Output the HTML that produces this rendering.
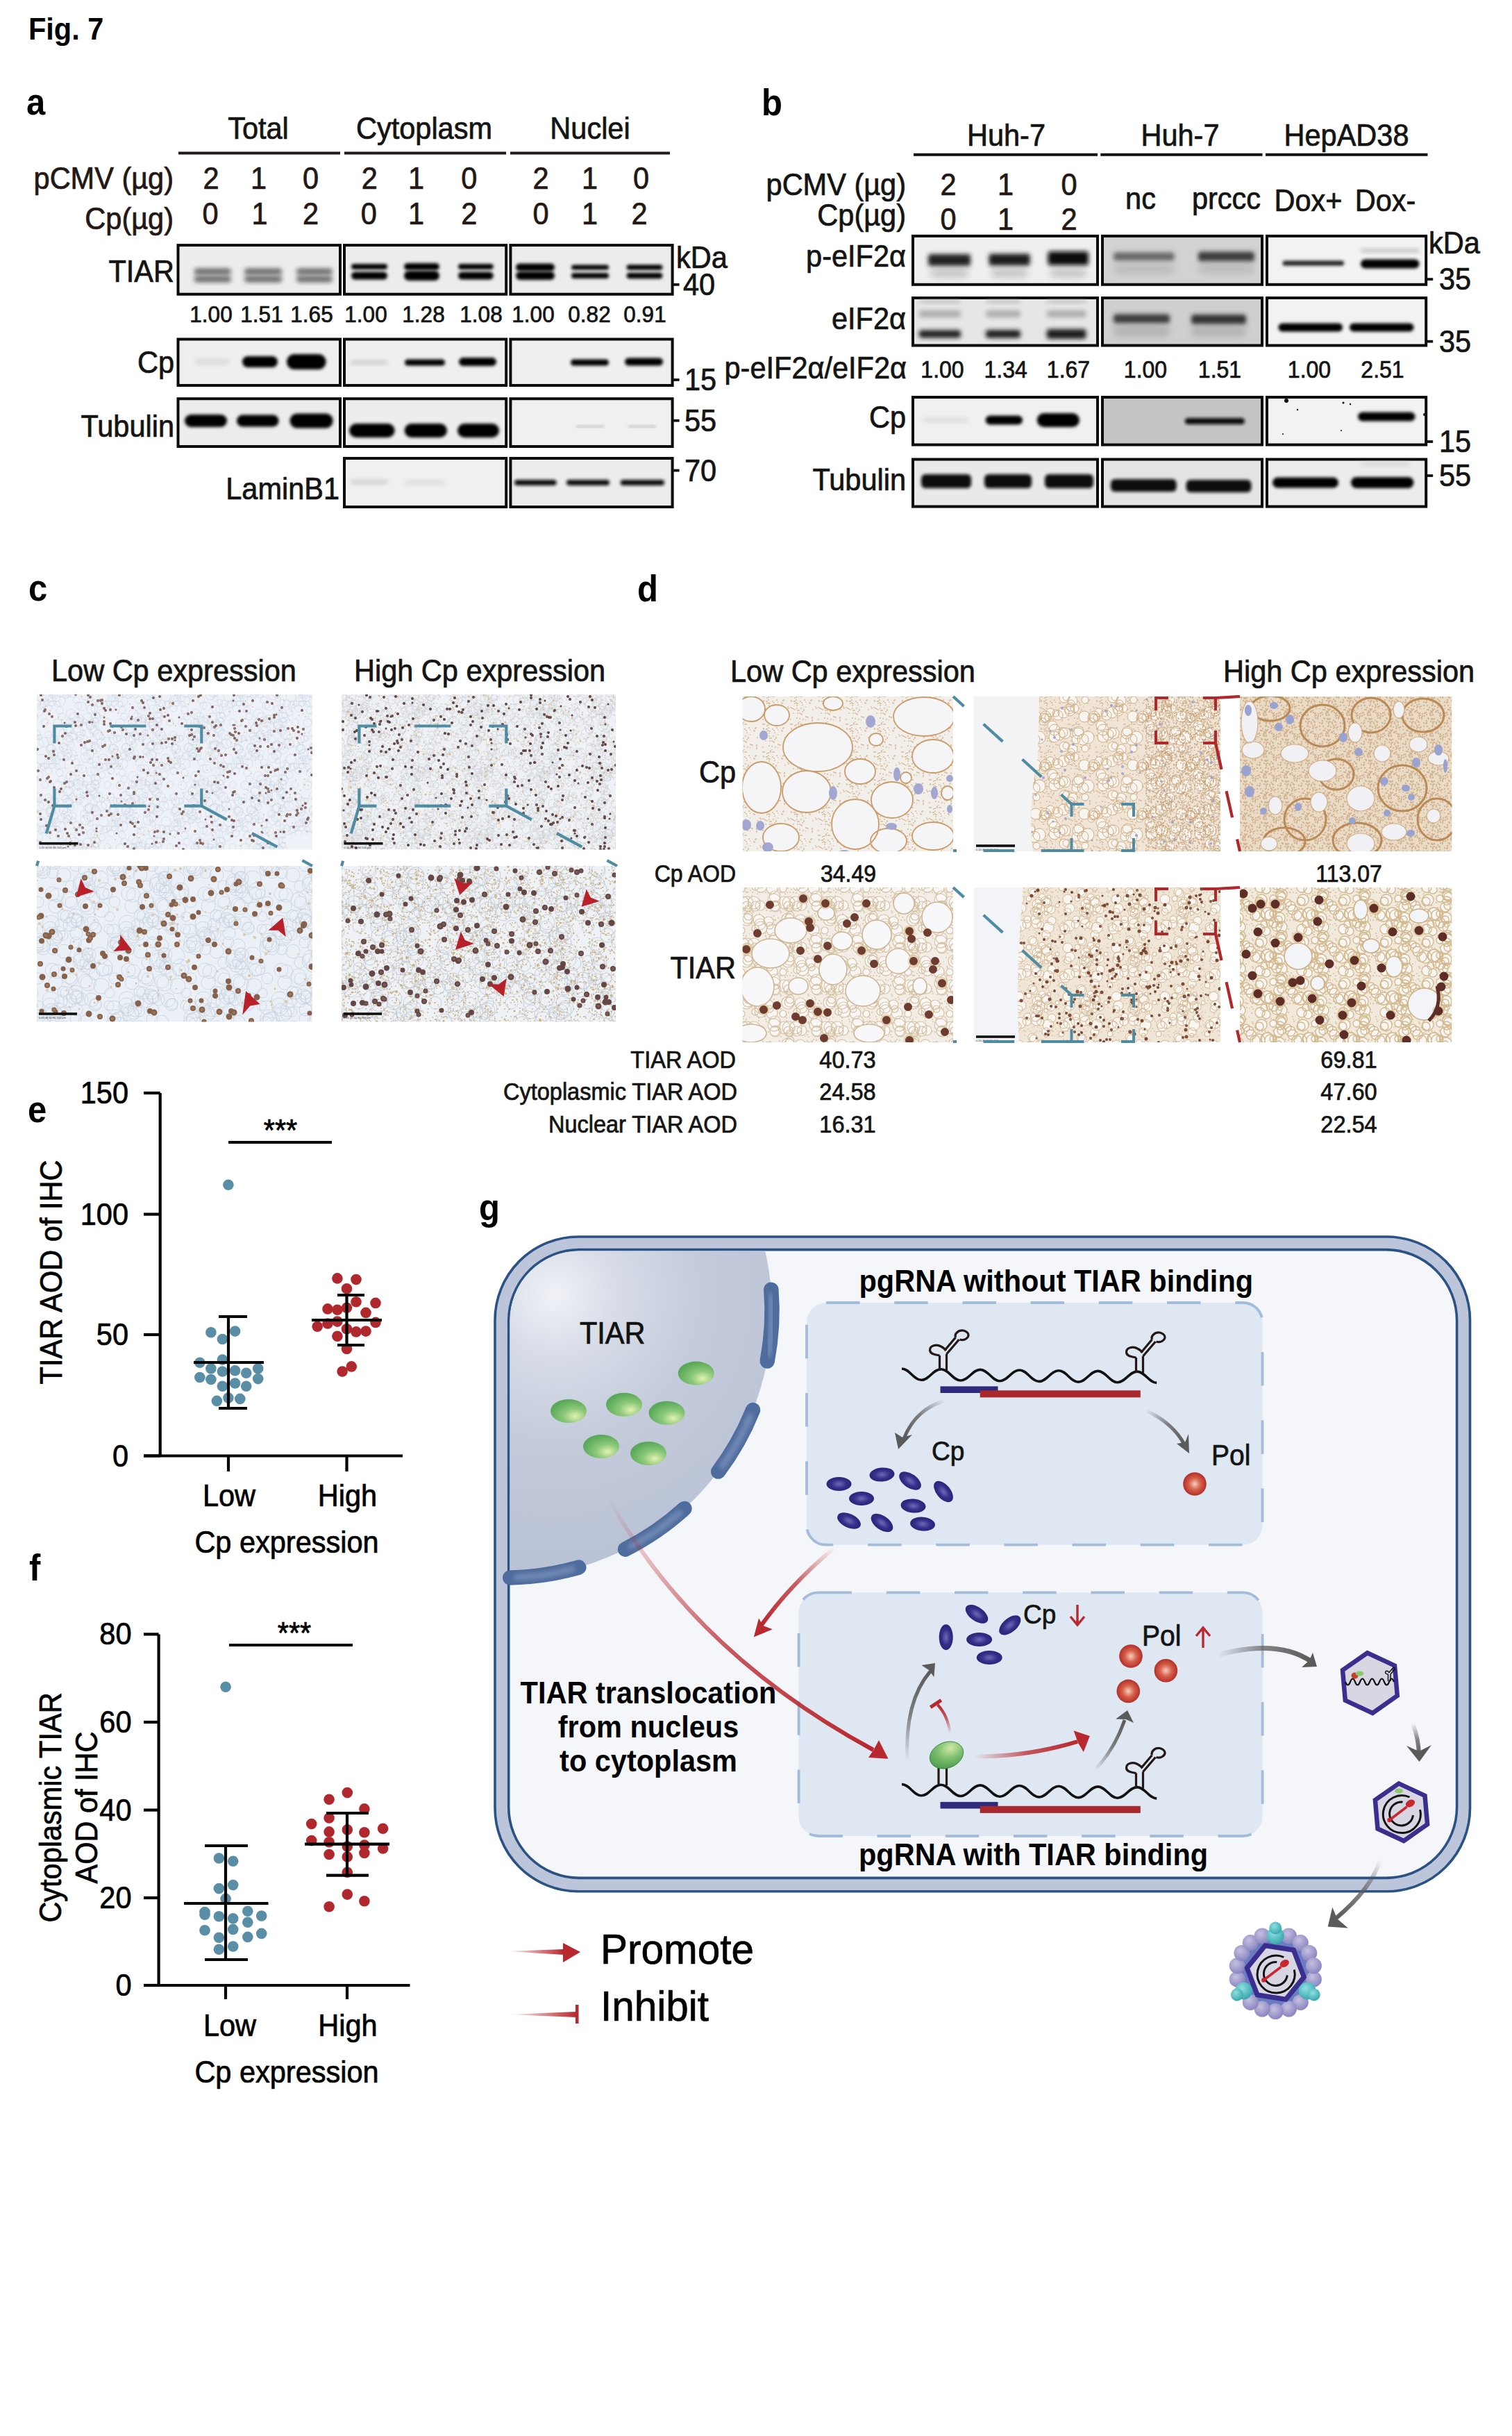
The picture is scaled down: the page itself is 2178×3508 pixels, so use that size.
<!DOCTYPE html><html><head><meta charset="utf-8"><style>html,body{margin:0;padding:0;background:#fff;}svg{display:block;}</style></head><body><svg width="2178" height="3508" viewBox="0 0 2178 3508" font-family="Liberation Sans, sans-serif" font-size="41.5" fill="#141414"><defs><filter id="b3" x="-20%" y="-60%" width="140%" height="220%"><feGaussianBlur stdDeviation="3"/></filter><filter id="b2" x="-20%" y="-60%" width="140%" height="220%"><feGaussianBlur stdDeviation="2"/></filter><filter id="b5" x="-20%" y="-80%" width="140%" height="260%"><feGaussianBlur stdDeviation="5"/></filter><clipPath id="cA1"><rect x="256.5" y="353.1" width="712.1" height="70.6"/></clipPath><clipPath id="cA2"><rect x="256.5" y="488.5" width="712.1" height="66.5"/></clipPath><clipPath id="cA3"><rect x="256.5" y="574.2" width="712.1" height="68.8"/></clipPath><clipPath id="cA4"><rect x="496" y="660" width="472.6" height="70"/></clipPath><clipPath id="cB1"><rect x="1314" y="339.9" width="742" height="69.9"/></clipPath><clipPath id="cB2"><rect x="1314" y="429" width="742" height="68.5"/></clipPath><clipPath id="cB3"><rect x="1314" y="572" width="742" height="68.5"/></clipPath><clipPath id="cB4"><rect x="1314" y="661.5" width="742" height="68"/></clipPath><pattern id="spC" width="50" height="50" patternUnits="userSpaceOnUse"><path d="M16 8h0M33 4h0M27 18h0M3 25h0M2 22h0M3 5h0M21 41h0M6 11h0M31 47h0M29 20h0M49 2h0M43 14h0M7 6h0M15 41h0M9 29h0M32 19h0M27 3h0M3 10h0M34 21h0M16 29h0M23 15h0M40 35h0M12 29h0M26 44h0M36 14h0M49 6h0M21 38h0M8 24h0M2 33h0M38 29h0M44 16h0M35 30h0M29 23h0M42 47h0M24 33h0M3 35h0M32 50h0M41 14h0M19 33h0M1 23h0M8 6h0M3 38h0M6 12h0M20 44h0M4 22h0M27 44h0M41 43h0M14 21h0M18 44h0M48 8h0M9 12h0M12 24h0M29 13h0M0 21h0M18 28h0M48 35h0M26 31h0M34 3h0M45 39h0M44 40h0M20 20h0M5 32h0M3 3h0M10 8h0M17 3h0M0 8h0M5 18h0M1 44h0M31 7h0M13 17h0" stroke="#cdb487" stroke-width="2" stroke-linecap="round"/></pattern><clipPath id="ih1"><rect x="53" y="1000" width="397" height="223.5"/></clipPath><pattern id="pt1" width="90" height="90" patternUnits="userSpaceOnUse"><path d="M26 11a7 7 0 1 0 14 0a7 7 0 1 0 -14 0M-6 42a5 5 0 1 0 10 0a5 5 0 1 0 -10 0M84 42a5 5 0 1 0 10 0a5 5 0 1 0 -10 0M3 9a5 5 0 1 0 10 0a5 5 0 1 0 -10 0M20 75a4 4 0 1 0 8 0a4 4 0 1 0 -8 0M-4 -4a6 6 0 1 0 12 0a6 6 0 1 0 -12 0M-4 86a6 6 0 1 0 12 0a6 6 0 1 0 -12 0M86 -4a6 6 0 1 0 12 0a6 6 0 1 0 -12 0M86 86a6 6 0 1 0 12 0a6 6 0 1 0 -12 0M9 49a4 4 0 1 0 8 0a4 4 0 1 0 -8 0M41 -2a7 7 0 1 0 14 0a7 7 0 1 0 -14 0M41 88a7 7 0 1 0 14 0a7 7 0 1 0 -14 0M58 24a5 5 0 1 0 10 0a5 5 0 1 0 -10 0M9 69a6 6 0 1 0 12 0a6 6 0 1 0 -12 0M65 30a5 5 0 1 0 10 0a5 5 0 1 0 -10 0M66 -1a7 7 0 1 0 14 0a7 7 0 1 0 -14 0M66 89a7 7 0 1 0 14 0a7 7 0 1 0 -14 0M67 74a6 6 0 1 0 12 0a6 6 0 1 0 -12 0M15 47a5 5 0 1 0 10 0a5 5 0 1 0 -10 0M-2 3a5 5 0 1 0 10 0a5 5 0 1 0 -10 0M-2 93a5 5 0 1 0 10 0a5 5 0 1 0 -10 0M88 3a5 5 0 1 0 10 0a5 5 0 1 0 -10 0M88 93a5 5 0 1 0 10 0a5 5 0 1 0 -10 0M16 62a7 7 0 1 0 14 0a7 7 0 1 0 -14 0M33 -6a7 7 0 1 0 14 0a7 7 0 1 0 -14 0M33 84a7 7 0 1 0 14 0a7 7 0 1 0 -14 0M-9 33a5 5 0 1 0 10 0a5 5 0 1 0 -10 0M81 33a5 5 0 1 0 10 0a5 5 0 1 0 -10 0M15 18a5 5 0 1 0 10 0a5 5 0 1 0 -10 0M49 81a7 7 0 1 0 14 0a7 7 0 1 0 -14 0M37 59a6 6 0 1 0 12 0a6 6 0 1 0 -12 0M1 59a7 7 0 1 0 14 0a7 7 0 1 0 -14 0M65 68a5 5 0 1 0 10 0a5 5 0 1 0 -10 0M11 71a5 5 0 1 0 10 0a5 5 0 1 0 -10 0M67 -3a5 5 0 1 0 10 0a5 5 0 1 0 -10 0M67 87a5 5 0 1 0 10 0a5 5 0 1 0 -10 0M30 -5a6 6 0 1 0 12 0a6 6 0 1 0 -12 0M30 85a6 6 0 1 0 12 0a6 6 0 1 0 -12 0M11 11a4 4 0 1 0 8 0a4 4 0 1 0 -8 0M77 73a4 4 0 1 0 8 0a4 4 0 1 0 -8 0M68 -2a6 6 0 1 0 12 0a6 6 0 1 0 -12 0M68 88a6 6 0 1 0 12 0a6 6 0 1 0 -12 0M28 49a4 4 0 1 0 8 0a4 4 0 1 0 -8 0M-5 -3a6 6 0 1 0 12 0a6 6 0 1 0 -12 0M-5 87a6 6 0 1 0 12 0a6 6 0 1 0 -12 0M85 -3a6 6 0 1 0 12 0a6 6 0 1 0 -12 0M85 87a6 6 0 1 0 12 0a6 6 0 1 0 -12 0M42 84a5 5 0 1 0 10 0a5 5 0 1 0 -10 0M73 74a5 5 0 1 0 10 0a5 5 0 1 0 -10 0M18 26a5 5 0 1 0 10 0a5 5 0 1 0 -10 0M48 23a5 5 0 1 0 10 0a5 5 0 1 0 -10 0M7 82a5 5 0 1 0 10 0a5 5 0 1 0 -10 0M34 53a7 7 0 1 0 14 0a7 7 0 1 0 -14 0M32 83a6 6 0 1 0 12 0a6 6 0 1 0 -12 0M44 47a4 4 0 1 0 8 0a4 4 0 1 0 -8 0M36 16a4 4 0 1 0 8 0a4 4 0 1 0 -8 0M67 16a5 5 0 1 0 10 0a5 5 0 1 0 -10 0M60 50a5 5 0 1 0 10 0a5 5 0 1 0 -10 0M41 50a6 6 0 1 0 12 0a6 6 0 1 0 -12 0M5 50a5 5 0 1 0 10 0a5 5 0 1 0 -10 0M19 70a6 6 0 1 0 12 0a6 6 0 1 0 -12 0M44 68a7 7 0 1 0 14 0a7 7 0 1 0 -14 0M34 55a6 6 0 1 0 12 0a6 6 0 1 0 -12 0M41 62a5 5 0 1 0 10 0a5 5 0 1 0 -10 0M41 43a7 7 0 1 0 14 0a7 7 0 1 0 -14 0M56 79a7 7 0 1 0 14 0a7 7 0 1 0 -14 0M16 50a7 7 0 1 0 14 0a7 7 0 1 0 -14 0M72 12a4 4 0 1 0 8 0a4 4 0 1 0 -8 0M35 7a5 5 0 1 0 10 0a5 5 0 1 0 -10 0M1 60a6 6 0 1 0 12 0a6 6 0 1 0 -12 0M75 14a6 6 0 1 0 12 0a6 6 0 1 0 -12 0M52 13a7 7 0 1 0 14 0a7 7 0 1 0 -14 0M-10 20a7 7 0 1 0 14 0a7 7 0 1 0 -14 0M80 20a7 7 0 1 0 14 0a7 7 0 1 0 -14 0M29 44a7 7 0 1 0 14 0a7 7 0 1 0 -14 0M70 15a5 5 0 1 0 10 0a5 5 0 1 0 -10 0M41 31a5 5 0 1 0 10 0a5 5 0 1 0 -10 0M25 65a4 4 0 1 0 8 0a4 4 0 1 0 -8 0M46 40a4 4 0 1 0 8 0a4 4 0 1 0 -8 0M24 56a6 6 0 1 0 12 0a6 6 0 1 0 -12 0M0 -1a6 6 0 1 0 12 0a6 6 0 1 0 -12 0M0 89a6 6 0 1 0 12 0a6 6 0 1 0 -12 0M90 -1a6 6 0 1 0 12 0a6 6 0 1 0 -12 0M90 89a6 6 0 1 0 12 0a6 6 0 1 0 -12 0M-8 9a5 5 0 1 0 10 0a5 5 0 1 0 -10 0M82 9a5 5 0 1 0 10 0a5 5 0 1 0 -10 0M-1 70a5 5 0 1 0 10 0a5 5 0 1 0 -10 0M89 70a5 5 0 1 0 10 0a5 5 0 1 0 -10 0M5 38a7 7 0 1 0 14 0a7 7 0 1 0 -14 0M70 23a4 4 0 1 0 8 0a4 4 0 1 0 -8 0M77 51a6 6 0 1 0 12 0a6 6 0 1 0 -12 0M2 5a6 6 0 1 0 12 0a6 6 0 1 0 -12 0M2 95a6 6 0 1 0 12 0a6 6 0 1 0 -12 0M31 7a7 7 0 1 0 14 0a7 7 0 1 0 -14 0M31 97a7 7 0 1 0 14 0a7 7 0 1 0 -14 0M53 72a4 4 0 1 0 8 0a4 4 0 1 0 -8 0M70 6a7 7 0 1 0 14 0a7 7 0 1 0 -14 0M70 96a7 7 0 1 0 14 0a7 7 0 1 0 -14 0M35 31a6 6 0 1 0 12 0a6 6 0 1 0 -12 0M79 24a4 4 0 1 0 8 0a4 4 0 1 0 -8 0M43 21a4 4 0 1 0 8 0a4 4 0 1 0 -8 0M10 5a5 5 0 1 0 10 0a5 5 0 1 0 -10 0M10 95a5 5 0 1 0 10 0a5 5 0 1 0 -10 0M22 27a6 6 0 1 0 12 0a6 6 0 1 0 -12 0M21 45a5 5 0 1 0 10 0a5 5 0 1 0 -10 0M26 2a5 5 0 1 0 10 0a5 5 0 1 0 -10 0M26 92a5 5 0 1 0 10 0a5 5 0 1 0 -10 0M-5 66a6 6 0 1 0 12 0a6 6 0 1 0 -12 0M85 66a6 6 0 1 0 12 0a6 6 0 1 0 -12 0M10 43a7 7 0 1 0 14 0a7 7 0 1 0 -14 0M5 74a5 5 0 1 0 10 0a5 5 0 1 0 -10 0M40 75a5 5 0 1 0 10 0a5 5 0 1 0 -10 0M39 62a7 7 0 1 0 14 0a7 7 0 1 0 -14 0M25 75a6 6 0 1 0 12 0a6 6 0 1 0 -12 0M52 36a5 5 0 1 0 10 0a5 5 0 1 0 -10 0M1 12a4 4 0 1 0 8 0a4 4 0 1 0 -8 0M63 23a4 4 0 1 0 8 0a4 4 0 1 0 -8 0M1 76a7 7 0 1 0 14 0a7 7 0 1 0 -14 0M55 25a5 5 0 1 0 10 0a5 5 0 1 0 -10 0" fill="none" stroke="#cad3df" stroke-width="0.6"/></pattern><clipPath id="ih2"><rect x="492" y="1000" width="395" height="223.5"/></clipPath><pattern id="pt2" width="90" height="90" patternUnits="userSpaceOnUse"><path d="M34 62a5 5 0 1 0 10 0a5 5 0 1 0 -10 0M-6 75a6 6 0 1 0 12 0a6 6 0 1 0 -12 0M84 75a6 6 0 1 0 12 0a6 6 0 1 0 -12 0M19 4a7 7 0 1 0 14 0a7 7 0 1 0 -14 0M19 94a7 7 0 1 0 14 0a7 7 0 1 0 -14 0M50 4a5 5 0 1 0 10 0a5 5 0 1 0 -10 0M50 94a5 5 0 1 0 10 0a5 5 0 1 0 -10 0M5 71a5 5 0 1 0 10 0a5 5 0 1 0 -10 0M78 67a4 4 0 1 0 8 0a4 4 0 1 0 -8 0M57 35a6 6 0 1 0 12 0a6 6 0 1 0 -12 0M71 25a4 4 0 1 0 8 0a4 4 0 1 0 -8 0M-12 38a7 7 0 1 0 14 0a7 7 0 1 0 -14 0M78 38a7 7 0 1 0 14 0a7 7 0 1 0 -14 0M56 66a6 6 0 1 0 12 0a6 6 0 1 0 -12 0M53 41a4 4 0 1 0 8 0a4 4 0 1 0 -8 0M57 39a6 6 0 1 0 12 0a6 6 0 1 0 -12 0M78 11a6 6 0 1 0 12 0a6 6 0 1 0 -12 0M-2 63a6 6 0 1 0 12 0a6 6 0 1 0 -12 0M88 63a6 6 0 1 0 12 0a6 6 0 1 0 -12 0M17 49a7 7 0 1 0 14 0a7 7 0 1 0 -14 0M52 49a5 5 0 1 0 10 0a5 5 0 1 0 -10 0M0 32a5 5 0 1 0 10 0a5 5 0 1 0 -10 0M14 28a4 4 0 1 0 8 0a4 4 0 1 0 -8 0M59 60a5 5 0 1 0 10 0a5 5 0 1 0 -10 0M17 46a5 5 0 1 0 10 0a5 5 0 1 0 -10 0M79 32a5 5 0 1 0 10 0a5 5 0 1 0 -10 0M74 13a6 6 0 1 0 12 0a6 6 0 1 0 -12 0M24 73a6 6 0 1 0 12 0a6 6 0 1 0 -12 0M62 15a6 6 0 1 0 12 0a6 6 0 1 0 -12 0M48 42a6 6 0 1 0 12 0a6 6 0 1 0 -12 0M70 10a5 5 0 1 0 10 0a5 5 0 1 0 -10 0M28 19a4 4 0 1 0 8 0a4 4 0 1 0 -8 0M19 18a6 6 0 1 0 12 0a6 6 0 1 0 -12 0M35 10a5 5 0 1 0 10 0a5 5 0 1 0 -10 0M37 33a5 5 0 1 0 10 0a5 5 0 1 0 -10 0M-1 1a7 7 0 1 0 14 0a7 7 0 1 0 -14 0M-1 91a7 7 0 1 0 14 0a7 7 0 1 0 -14 0M89 1a7 7 0 1 0 14 0a7 7 0 1 0 -14 0M89 91a7 7 0 1 0 14 0a7 7 0 1 0 -14 0M62 8a6 6 0 1 0 12 0a6 6 0 1 0 -12 0M-6 51a4 4 0 1 0 8 0a4 4 0 1 0 -8 0M84 51a4 4 0 1 0 8 0a4 4 0 1 0 -8 0M39 39a5 5 0 1 0 10 0a5 5 0 1 0 -10 0M42 1a7 7 0 1 0 14 0a7 7 0 1 0 -14 0M42 91a7 7 0 1 0 14 0a7 7 0 1 0 -14 0M51 56a7 7 0 1 0 14 0a7 7 0 1 0 -14 0M54 23a5 5 0 1 0 10 0a5 5 0 1 0 -10 0M6 2a6 6 0 1 0 12 0a6 6 0 1 0 -12 0M6 92a6 6 0 1 0 12 0a6 6 0 1 0 -12 0M71 27a5 5 0 1 0 10 0a5 5 0 1 0 -10 0M50 76a7 7 0 1 0 14 0a7 7 0 1 0 -14 0M9 71a6 6 0 1 0 12 0a6 6 0 1 0 -12 0M62 29a5 5 0 1 0 10 0a5 5 0 1 0 -10 0M69 29a5 5 0 1 0 10 0a5 5 0 1 0 -10 0M44 33a6 6 0 1 0 12 0a6 6 0 1 0 -12 0M16 4a6 6 0 1 0 12 0a6 6 0 1 0 -12 0M16 94a6 6 0 1 0 12 0a6 6 0 1 0 -12 0M51 74a6 6 0 1 0 12 0a6 6 0 1 0 -12 0M76 -5a5 5 0 1 0 10 0a5 5 0 1 0 -10 0M76 85a5 5 0 1 0 10 0a5 5 0 1 0 -10 0M40 14a5 5 0 1 0 10 0a5 5 0 1 0 -10 0M46 7a6 6 0 1 0 12 0a6 6 0 1 0 -12 0M8 40a7 7 0 1 0 14 0a7 7 0 1 0 -14 0M3 4a5 5 0 1 0 10 0a5 5 0 1 0 -10 0M3 94a5 5 0 1 0 10 0a5 5 0 1 0 -10 0M13 65a4 4 0 1 0 8 0a4 4 0 1 0 -8 0M70 77a6 6 0 1 0 12 0a6 6 0 1 0 -12 0M32 25a6 6 0 1 0 12 0a6 6 0 1 0 -12 0M41 38a5 5 0 1 0 10 0a5 5 0 1 0 -10 0M33 60a6 6 0 1 0 12 0a6 6 0 1 0 -12 0M76 15a5 5 0 1 0 10 0a5 5 0 1 0 -10 0M35 51a5 5 0 1 0 10 0a5 5 0 1 0 -10 0M13 8a5 5 0 1 0 10 0a5 5 0 1 0 -10 0M34 -3a7 7 0 1 0 14 0a7 7 0 1 0 -14 0M34 87a7 7 0 1 0 14 0a7 7 0 1 0 -14 0M71 -2a7 7 0 1 0 14 0a7 7 0 1 0 -14 0M71 88a7 7 0 1 0 14 0a7 7 0 1 0 -14 0M52 73a4 4 0 1 0 8 0a4 4 0 1 0 -8 0M56 55a5 5 0 1 0 10 0a5 5 0 1 0 -10 0M46 -4a5 5 0 1 0 10 0a5 5 0 1 0 -10 0M46 86a5 5 0 1 0 10 0a5 5 0 1 0 -10 0M53 27a5 5 0 1 0 10 0a5 5 0 1 0 -10 0M75 3a5 5 0 1 0 10 0a5 5 0 1 0 -10 0M75 93a5 5 0 1 0 10 0a5 5 0 1 0 -10 0M57 40a4 4 0 1 0 8 0a4 4 0 1 0 -8 0M53 33a6 6 0 1 0 12 0a6 6 0 1 0 -12 0M31 48a6 6 0 1 0 12 0a6 6 0 1 0 -12 0M31 10a5 5 0 1 0 10 0a5 5 0 1 0 -10 0M76 49a4 4 0 1 0 8 0a4 4 0 1 0 -8 0M74 23a4 4 0 1 0 8 0a4 4 0 1 0 -8 0M43 23a5 5 0 1 0 10 0a5 5 0 1 0 -10 0M44 20a6 6 0 1 0 12 0a6 6 0 1 0 -12 0M4 46a6 6 0 1 0 12 0a6 6 0 1 0 -12 0M3 37a4 4 0 1 0 8 0a4 4 0 1 0 -8 0M34 78a6 6 0 1 0 12 0a6 6 0 1 0 -12 0M60 68a4 4 0 1 0 8 0a4 4 0 1 0 -8 0M-5 65a4 4 0 1 0 8 0a4 4 0 1 0 -8 0M85 65a4 4 0 1 0 8 0a4 4 0 1 0 -8 0M70 35a5 5 0 1 0 10 0a5 5 0 1 0 -10 0M-10 51a6 6 0 1 0 12 0a6 6 0 1 0 -12 0M80 51a6 6 0 1 0 12 0a6 6 0 1 0 -12 0M8 70a4 4 0 1 0 8 0a4 4 0 1 0 -8 0M17 34a4 4 0 1 0 8 0a4 4 0 1 0 -8 0M48 19a5 5 0 1 0 10 0a5 5 0 1 0 -10 0M57 38a7 7 0 1 0 14 0a7 7 0 1 0 -14 0M50 78a6 6 0 1 0 12 0a6 6 0 1 0 -12 0M78 78a5 5 0 1 0 10 0a5 5 0 1 0 -10 0M61 31a6 6 0 1 0 12 0a6 6 0 1 0 -12 0M57 74a4 4 0 1 0 8 0a4 4 0 1 0 -8 0M27 66a7 7 0 1 0 14 0a7 7 0 1 0 -14 0" fill="none" stroke="#cacfd6" stroke-width="0.6"/></pattern><clipPath id="ih3"><rect x="53" y="1247" width="397" height="224.5"/></clipPath><pattern id="pt3" width="110" height="110" patternUnits="userSpaceOnUse"><path d="M45 36a12 12 0 1 0 24 0a12 12 0 1 0 -24 0M38 77a7 7 0 1 0 14 0a7 7 0 1 0 -14 0M83 -2a8 8 0 1 0 16 0a8 8 0 1 0 -16 0M83 108a8 8 0 1 0 16 0a8 8 0 1 0 -16 0M74 30a8 8 0 1 0 16 0a8 8 0 1 0 -16 0M28 73a12 12 0 1 0 24 0a12 12 0 1 0 -24 0M-11 -1a10 10 0 1 0 20 0a10 10 0 1 0 -20 0M-11 109a10 10 0 1 0 20 0a10 10 0 1 0 -20 0M99 -1a10 10 0 1 0 20 0a10 10 0 1 0 -20 0M99 109a10 10 0 1 0 20 0a10 10 0 1 0 -20 0M61 18a11 11 0 1 0 22 0a11 11 0 1 0 -22 0M49 39a12 12 0 1 0 24 0a12 12 0 1 0 -24 0M20 16a8 8 0 1 0 16 0a8 8 0 1 0 -16 0M5 65a11 11 0 1 0 22 0a11 11 0 1 0 -22 0M8 55a10 10 0 1 0 20 0a10 10 0 1 0 -20 0M52 45a10 10 0 1 0 20 0a10 10 0 1 0 -20 0M-7 6a9 9 0 1 0 18 0a9 9 0 1 0 -18 0M-7 116a9 9 0 1 0 18 0a9 9 0 1 0 -18 0M103 6a9 9 0 1 0 18 0a9 9 0 1 0 -18 0M103 116a9 9 0 1 0 18 0a9 9 0 1 0 -18 0M18 83a8 8 0 1 0 16 0a8 8 0 1 0 -16 0M84 27a7 7 0 1 0 14 0a7 7 0 1 0 -14 0M44 43a9 9 0 1 0 18 0a9 9 0 1 0 -18 0M74 24a10 10 0 1 0 20 0a10 10 0 1 0 -20 0M82 50a10 10 0 1 0 20 0a10 10 0 1 0 -20 0M94 66a8 8 0 1 0 16 0a8 8 0 1 0 -16 0M-1 9a9 9 0 1 0 18 0a9 9 0 1 0 -18 0M109 9a9 9 0 1 0 18 0a9 9 0 1 0 -18 0M1 71a9 9 0 1 0 18 0a9 9 0 1 0 -18 0M22 56a12 12 0 1 0 24 0a12 12 0 1 0 -24 0M18 17a9 9 0 1 0 18 0a9 9 0 1 0 -18 0M25 -10a11 11 0 1 0 22 0a11 11 0 1 0 -22 0M25 100a11 11 0 1 0 22 0a11 11 0 1 0 -22 0M40 18a7 7 0 1 0 14 0a7 7 0 1 0 -14 0M3 93a10 10 0 1 0 20 0a10 10 0 1 0 -20 0M10 69a7 7 0 1 0 14 0a7 7 0 1 0 -14 0M48 37a8 8 0 1 0 16 0a8 8 0 1 0 -16 0M72 79a10 10 0 1 0 20 0a10 10 0 1 0 -20 0M9 74a9 9 0 1 0 18 0a9 9 0 1 0 -18 0M61 10a12 12 0 1 0 24 0a12 12 0 1 0 -24 0M61 120a12 12 0 1 0 24 0a12 12 0 1 0 -24 0M-9 24a9 9 0 1 0 18 0a9 9 0 1 0 -18 0M101 24a9 9 0 1 0 18 0a9 9 0 1 0 -18 0M12 10a10 10 0 1 0 20 0a10 10 0 1 0 -20 0M12 120a10 10 0 1 0 20 0a10 10 0 1 0 -20 0M-9 37a8 8 0 1 0 16 0a8 8 0 1 0 -16 0M101 37a8 8 0 1 0 16 0a8 8 0 1 0 -16 0M65 24a9 9 0 1 0 18 0a9 9 0 1 0 -18 0M68 47a8 8 0 1 0 16 0a8 8 0 1 0 -16 0M-4 60a12 12 0 1 0 24 0a12 12 0 1 0 -24 0M106 60a12 12 0 1 0 24 0a12 12 0 1 0 -24 0M-19 11a10 10 0 1 0 20 0a10 10 0 1 0 -20 0M91 11a10 10 0 1 0 20 0a10 10 0 1 0 -20 0M44 21a10 10 0 1 0 20 0a10 10 0 1 0 -20 0M47 89a8 8 0 1 0 16 0a8 8 0 1 0 -16 0M-16 90a9 9 0 1 0 18 0a9 9 0 1 0 -18 0M94 90a9 9 0 1 0 18 0a9 9 0 1 0 -18 0M8 53a8 8 0 1 0 16 0a8 8 0 1 0 -16 0M65 77a10 10 0 1 0 20 0a10 10 0 1 0 -20 0M-14 5a11 11 0 1 0 22 0a11 11 0 1 0 -22 0M-14 115a11 11 0 1 0 22 0a11 11 0 1 0 -22 0M96 5a11 11 0 1 0 22 0a11 11 0 1 0 -22 0M96 115a11 11 0 1 0 22 0a11 11 0 1 0 -22 0M79 12a9 9 0 1 0 18 0a9 9 0 1 0 -18 0M-5 64a11 11 0 1 0 22 0a11 11 0 1 0 -22 0M105 64a11 11 0 1 0 22 0a11 11 0 1 0 -22 0M29 77a9 9 0 1 0 18 0a9 9 0 1 0 -18 0M66 30a12 12 0 1 0 24 0a12 12 0 1 0 -24 0M41 0a7 7 0 1 0 14 0a7 7 0 1 0 -14 0M41 110a7 7 0 1 0 14 0a7 7 0 1 0 -14 0M70 95a10 10 0 1 0 20 0a10 10 0 1 0 -20 0M6 96a11 11 0 1 0 22 0a11 11 0 1 0 -22 0M3 42a10 10 0 1 0 20 0a10 10 0 1 0 -20 0M-9 5a9 9 0 1 0 18 0a9 9 0 1 0 -18 0M-9 115a9 9 0 1 0 18 0a9 9 0 1 0 -18 0M101 5a9 9 0 1 0 18 0a9 9 0 1 0 -18 0M101 115a9 9 0 1 0 18 0a9 9 0 1 0 -18 0M87 0a9 9 0 1 0 18 0a9 9 0 1 0 -18 0M87 110a9 9 0 1 0 18 0a9 9 0 1 0 -18 0M-21 86a11 11 0 1 0 22 0a11 11 0 1 0 -22 0M89 86a11 11 0 1 0 22 0a11 11 0 1 0 -22 0" fill="none" stroke="#c6d0dc" stroke-width="0.8"/></pattern><clipPath id="ih4"><rect x="492" y="1247" width="395" height="224.5"/></clipPath><pattern id="pt4" width="110" height="110" patternUnits="userSpaceOnUse"><path d="M31 25a11 11 0 1 0 22 0a11 11 0 1 0 -22 0M49 67a9 9 0 1 0 18 0a9 9 0 1 0 -18 0M54 -5a11 11 0 1 0 22 0a11 11 0 1 0 -22 0M54 105a11 11 0 1 0 22 0a11 11 0 1 0 -22 0M-15 27a10 10 0 1 0 20 0a10 10 0 1 0 -20 0M95 27a10 10 0 1 0 20 0a10 10 0 1 0 -20 0M31 38a11 11 0 1 0 22 0a11 11 0 1 0 -22 0M8 61a11 11 0 1 0 22 0a11 11 0 1 0 -22 0M-15 2a8 8 0 1 0 16 0a8 8 0 1 0 -16 0M-15 112a8 8 0 1 0 16 0a8 8 0 1 0 -16 0M95 2a8 8 0 1 0 16 0a8 8 0 1 0 -16 0M95 112a8 8 0 1 0 16 0a8 8 0 1 0 -16 0M46 -7a8 8 0 1 0 16 0a8 8 0 1 0 -16 0M46 103a8 8 0 1 0 16 0a8 8 0 1 0 -16 0M82 44a10 10 0 1 0 20 0a10 10 0 1 0 -20 0M-17 7a9 9 0 1 0 18 0a9 9 0 1 0 -18 0M-17 117a9 9 0 1 0 18 0a9 9 0 1 0 -18 0M93 7a9 9 0 1 0 18 0a9 9 0 1 0 -18 0M93 117a9 9 0 1 0 18 0a9 9 0 1 0 -18 0M8 15a9 9 0 1 0 18 0a9 9 0 1 0 -18 0M69 64a8 8 0 1 0 16 0a8 8 0 1 0 -16 0M80 56a8 8 0 1 0 16 0a8 8 0 1 0 -16 0M82 90a8 8 0 1 0 16 0a8 8 0 1 0 -16 0M-15 89a8 8 0 1 0 16 0a8 8 0 1 0 -16 0M95 89a8 8 0 1 0 16 0a8 8 0 1 0 -16 0M-11 95a11 11 0 1 0 22 0a11 11 0 1 0 -22 0M99 95a11 11 0 1 0 22 0a11 11 0 1 0 -22 0M0 84a11 11 0 1 0 22 0a11 11 0 1 0 -22 0M110 84a11 11 0 1 0 22 0a11 11 0 1 0 -22 0M58 92a12 12 0 1 0 24 0a12 12 0 1 0 -24 0M24 92a12 12 0 1 0 24 0a12 12 0 1 0 -24 0M24 75a10 10 0 1 0 20 0a10 10 0 1 0 -20 0M85 62a8 8 0 1 0 16 0a8 8 0 1 0 -16 0M20 60a8 8 0 1 0 16 0a8 8 0 1 0 -16 0M87 98a8 8 0 1 0 16 0a8 8 0 1 0 -16 0M69 74a8 8 0 1 0 16 0a8 8 0 1 0 -16 0M77 84a9 9 0 1 0 18 0a9 9 0 1 0 -18 0M0 31a11 11 0 1 0 22 0a11 11 0 1 0 -22 0M110 31a11 11 0 1 0 22 0a11 11 0 1 0 -22 0M43 90a8 8 0 1 0 16 0a8 8 0 1 0 -16 0M1 38a11 11 0 1 0 22 0a11 11 0 1 0 -22 0M7 8a11 11 0 1 0 22 0a11 11 0 1 0 -22 0M7 118a11 11 0 1 0 22 0a11 11 0 1 0 -22 0M3 73a7 7 0 1 0 14 0a7 7 0 1 0 -14 0M16 73a11 11 0 1 0 22 0a11 11 0 1 0 -22 0M38 49a7 7 0 1 0 14 0a7 7 0 1 0 -14 0M26 27a11 11 0 1 0 22 0a11 11 0 1 0 -22 0M69 86a10 10 0 1 0 20 0a10 10 0 1 0 -20 0M68 14a9 9 0 1 0 18 0a9 9 0 1 0 -18 0M21 31a11 11 0 1 0 22 0a11 11 0 1 0 -22 0M16 36a8 8 0 1 0 16 0a8 8 0 1 0 -16 0M86 70a9 9 0 1 0 18 0a9 9 0 1 0 -18 0M30 -9a12 12 0 1 0 24 0a12 12 0 1 0 -24 0M30 101a12 12 0 1 0 24 0a12 12 0 1 0 -24 0M38 62a11 11 0 1 0 22 0a11 11 0 1 0 -22 0M20 28a8 8 0 1 0 16 0a8 8 0 1 0 -16 0M47 85a8 8 0 1 0 16 0a8 8 0 1 0 -16 0M39 -1a9 9 0 1 0 18 0a9 9 0 1 0 -18 0M39 109a9 9 0 1 0 18 0a9 9 0 1 0 -18 0M31 92a11 11 0 1 0 22 0a11 11 0 1 0 -22 0M31 14a10 10 0 1 0 20 0a10 10 0 1 0 -20 0M71 -8a10 10 0 1 0 20 0a10 10 0 1 0 -20 0M71 102a10 10 0 1 0 20 0a10 10 0 1 0 -20 0M26 57a8 8 0 1 0 16 0a8 8 0 1 0 -16 0M37 51a12 12 0 1 0 24 0a12 12 0 1 0 -24 0M91 -8a9 9 0 1 0 18 0a9 9 0 1 0 -18 0M91 102a9 9 0 1 0 18 0a9 9 0 1 0 -18 0M-16 15a12 12 0 1 0 24 0a12 12 0 1 0 -24 0M94 15a12 12 0 1 0 24 0a12 12 0 1 0 -24 0M61 96a9 9 0 1 0 18 0a9 9 0 1 0 -18 0M-12 3a11 11 0 1 0 22 0a11 11 0 1 0 -22 0M-12 113a11 11 0 1 0 22 0a11 11 0 1 0 -22 0M98 3a11 11 0 1 0 22 0a11 11 0 1 0 -22 0M98 113a11 11 0 1 0 22 0a11 11 0 1 0 -22 0M79 41a11 11 0 1 0 22 0a11 11 0 1 0 -22 0M15 83a9 9 0 1 0 18 0a9 9 0 1 0 -18 0M34 22a11 11 0 1 0 22 0a11 11 0 1 0 -22 0" fill="none" stroke="#c0c6ce" stroke-width="0.8"/></pattern><pattern id="spT" width="40" height="40" patternUnits="userSpaceOnUse"><path d="M37 36h0M23 21h0M7 13h0M9 8h0M25 13h0M31 23h0M33 3h0M34 20h0M25 10h0M28 16h0M29 23h0M6 12h0M30 1h0M25 22h0M29 13h0M19 19h0M30 3h0M20 10h0M24 10h0M8 9h0M36 15h0M35 29h0M11 22h0M0 37h0M25 5h0M21 20h0M27 12h0M36 25h0M3 33h0M35 12h0M28 34h0M35 3h0M33 10h0M32 27h0M19 36h0M32 40h0M38 23h0M29 27h0M16 20h0M20 9h0M10 34h0M34 28h0M28 20h0M23 27h0M0 18h0M39 8h0M19 3h0M10 33h0M1 32h0M32 35h0M10 37h0M15 18h0M38 22h0M27 4h0M0 11h0M4 33h0M10 38h0M27 8h0M28 13h0M21 3h0" stroke="#c9a070" stroke-width="2.2" stroke-linecap="round"/></pattern><pattern id="spT2" width="40" height="40" patternUnits="userSpaceOnUse"><path d="M33 31h0M23 28h0M14 5h0M13 30h0M23 5h0M10 19h0M1 2h0M18 5h0M36 5h0M30 32h0M13 22h0M40 25h0M15 39h0M10 38h0M12 17h0M13 26h0M35 28h0M7 40h0M29 20h0M34 4h0M24 31h0M31 27h0M3 19h0M11 24h0M16 18h0M22 24h0M36 11h0M11 7h0M5 34h0M37 5h0M14 36h0M35 39h0M40 12h0M3 10h0M20 1h0M10 19h0M27 6h0M5 13h0M4 5h0M4 32h0" stroke="#d2b88c" stroke-width="2" stroke-linecap="round"/></pattern><pattern id="spD" width="30" height="30" patternUnits="userSpaceOnUse"><path d="M26 1h0M24 25h0M20 9h0M25 2h0M1 29h0M7 27h0M23 1h0M3 19h0M4 20h0M20 7h0M14 6h0M26 19h0M21 19h0M2 27h0M23 15h0M18 15h0M23 16h0M8 15h0M6 0h0M16 26h0M22 6h0M15 18h0M17 14h0M15 21h0M26 15h0M24 20h0M4 8h0M9 11h0M15 9h0M30 22h0M11 21h0M28 5h0M19 29h0M11 26h0M24 10h0M4 24h0M12 11h0M14 22h0M27 27h0M23 5h0M11 0h0M6 10h0M5 14h0M4 20h0M12 7h0M21 10h0M1 25h0M23 26h0M9 8h0M21 4h0M29 20h0M16 2h0M8 13h0M29 4h0M18 2h0M29 22h0M24 22h0M5 7h0M1 17h0M2 6h0M5 28h0M24 9h0M29 5h0M4 11h0M24 3h0M24 16h0M24 10h0M1 3h0M22 15h0M23 6h0" stroke="#b07c48" stroke-width="2.4" stroke-linecap="round"/></pattern><clipPath id="ih5"><rect x="1069.6" y="1003" width="303.4" height="223"/></clipPath><clipPath id="ih6"><rect x="1402.5" y="1003" width="355.5" height="223"/></clipPath><clipPath id="tisB1"><path d="M1497 1003L1760 1003L1760 1228L1488 1228Q1480 1160 1495 1090Z"/></clipPath><pattern id="pt5" width="70" height="70" patternUnits="userSpaceOnUse"><path d="M12 15a8 8 0 1 0 16 0a8 8 0 1 0 -16 0M41 11a8 8 0 1 0 16 0a8 8 0 1 0 -16 0M-2 33a5 5 0 1 0 10 0a5 5 0 1 0 -10 0M68 33a5 5 0 1 0 10 0a5 5 0 1 0 -10 0M47 50a7 7 0 1 0 14 0a7 7 0 1 0 -14 0M7 3a7 7 0 1 0 14 0a7 7 0 1 0 -14 0M7 73a7 7 0 1 0 14 0a7 7 0 1 0 -14 0M41 1a8 8 0 1 0 16 0a8 8 0 1 0 -16 0M41 71a8 8 0 1 0 16 0a8 8 0 1 0 -16 0M56 25a7 7 0 1 0 14 0a7 7 0 1 0 -14 0M39 -5a7 7 0 1 0 14 0a7 7 0 1 0 -14 0M39 65a7 7 0 1 0 14 0a7 7 0 1 0 -14 0M30 54a6 6 0 1 0 12 0a6 6 0 1 0 -12 0M-4 38a6 6 0 1 0 12 0a6 6 0 1 0 -12 0M66 38a6 6 0 1 0 12 0a6 6 0 1 0 -12 0M18 28a5 5 0 1 0 10 0a5 5 0 1 0 -10 0M14 52a8 8 0 1 0 16 0a8 8 0 1 0 -16 0M27 59a5 5 0 1 0 10 0a5 5 0 1 0 -10 0M28 52a8 8 0 1 0 16 0a8 8 0 1 0 -16 0M18 12a9 9 0 1 0 18 0a9 9 0 1 0 -18 0M37 46a6 6 0 1 0 12 0a6 6 0 1 0 -12 0M2 40a6 6 0 1 0 12 0a6 6 0 1 0 -12 0M-16 46a8 8 0 1 0 16 0a8 8 0 1 0 -16 0M54 46a8 8 0 1 0 16 0a8 8 0 1 0 -16 0M35 53a5 5 0 1 0 10 0a5 5 0 1 0 -10 0M-7 41a7 7 0 1 0 14 0a7 7 0 1 0 -14 0M63 41a7 7 0 1 0 14 0a7 7 0 1 0 -14 0M5 6a8 8 0 1 0 16 0a8 8 0 1 0 -16 0M5 76a8 8 0 1 0 16 0a8 8 0 1 0 -16 0M46 47a5 5 0 1 0 10 0a5 5 0 1 0 -10 0M27 54a7 7 0 1 0 14 0a7 7 0 1 0 -14 0M-14 6a8 8 0 1 0 16 0a8 8 0 1 0 -16 0M-14 76a8 8 0 1 0 16 0a8 8 0 1 0 -16 0M56 6a8 8 0 1 0 16 0a8 8 0 1 0 -16 0M56 76a8 8 0 1 0 16 0a8 8 0 1 0 -16 0M-6 44a7 7 0 1 0 14 0a7 7 0 1 0 -14 0M64 44a7 7 0 1 0 14 0a7 7 0 1 0 -14 0M-2 29a7 7 0 1 0 14 0a7 7 0 1 0 -14 0M68 29a7 7 0 1 0 14 0a7 7 0 1 0 -14 0M54 5a7 7 0 1 0 14 0a7 7 0 1 0 -14 0M54 75a7 7 0 1 0 14 0a7 7 0 1 0 -14 0M48 8a8 8 0 1 0 16 0a8 8 0 1 0 -16 0M48 78a8 8 0 1 0 16 0a8 8 0 1 0 -16 0M-9 24a5 5 0 1 0 10 0a5 5 0 1 0 -10 0M61 24a5 5 0 1 0 10 0a5 5 0 1 0 -10 0M4 15a6 6 0 1 0 12 0a6 6 0 1 0 -12 0" fill="#f8f5f1" stroke="#cfae84" stroke-width="1"/></pattern><clipPath id="ih7"><rect x="1786" y="1003" width="305.5" height="223"/></clipPath><clipPath id="ih8"><rect x="1069.6" y="1278" width="303.4" height="223"/></clipPath><pattern id="pt6" width="60" height="60" patternUnits="userSpaceOnUse"><path d="M-3 40a9 9 0 1 0 18 0a9 9 0 1 0 -18 0M57 40a9 9 0 1 0 18 0a9 9 0 1 0 -18 0M-7 48a5 5 0 1 0 10 0a5 5 0 1 0 -10 0M53 48a5 5 0 1 0 10 0a5 5 0 1 0 -10 0M24 13a5 5 0 1 0 10 0a5 5 0 1 0 -10 0M8 44a7 7 0 1 0 14 0a7 7 0 1 0 -14 0M3 17a5 5 0 1 0 10 0a5 5 0 1 0 -10 0M-11 45a7 7 0 1 0 14 0a7 7 0 1 0 -14 0M49 45a7 7 0 1 0 14 0a7 7 0 1 0 -14 0M-8 -1a6 6 0 1 0 12 0a6 6 0 1 0 -12 0M-8 59a6 6 0 1 0 12 0a6 6 0 1 0 -12 0M52 -1a6 6 0 1 0 12 0a6 6 0 1 0 -12 0M52 59a6 6 0 1 0 12 0a6 6 0 1 0 -12 0M7 11a8 8 0 1 0 16 0a8 8 0 1 0 -16 0M28 31a8 8 0 1 0 16 0a8 8 0 1 0 -16 0M24 19a8 8 0 1 0 16 0a8 8 0 1 0 -16 0M-10 3a7 7 0 1 0 14 0a7 7 0 1 0 -14 0M-10 63a7 7 0 1 0 14 0a7 7 0 1 0 -14 0M50 3a7 7 0 1 0 14 0a7 7 0 1 0 -14 0M50 63a7 7 0 1 0 14 0a7 7 0 1 0 -14 0M1 45a7 7 0 1 0 14 0a7 7 0 1 0 -14 0M41 40a9 9 0 1 0 18 0a9 9 0 1 0 -18 0M26 36a9 9 0 1 0 18 0a9 9 0 1 0 -18 0M43 20a5 5 0 1 0 10 0a5 5 0 1 0 -10 0M-14 4a9 9 0 1 0 18 0a9 9 0 1 0 -18 0M-14 64a9 9 0 1 0 18 0a9 9 0 1 0 -18 0M46 4a9 9 0 1 0 18 0a9 9 0 1 0 -18 0M46 64a9 9 0 1 0 18 0a9 9 0 1 0 -18 0M-13 40a9 9 0 1 0 18 0a9 9 0 1 0 -18 0M47 40a9 9 0 1 0 18 0a9 9 0 1 0 -18 0M29 45a7 7 0 1 0 14 0a7 7 0 1 0 -14 0M5 5a8 8 0 1 0 16 0a8 8 0 1 0 -16 0M5 65a8 8 0 1 0 16 0a8 8 0 1 0 -16 0M20 7a7 7 0 1 0 14 0a7 7 0 1 0 -14 0M7 16a9 9 0 1 0 18 0a9 9 0 1 0 -18 0M29 45a8 8 0 1 0 16 0a8 8 0 1 0 -16 0" fill="#f8f7f6" stroke="#d5c0a0" stroke-width="1.2"/></pattern><clipPath id="ih9"><rect x="1402.5" y="1278" width="355.5" height="223"/></clipPath><clipPath id="tisB2"><path d="M1474 1278L1760 1278L1760 1503L1468 1503Q1462 1400 1474 1278Z"/></clipPath><pattern id="pt7" width="70" height="70" patternUnits="userSpaceOnUse"><path d="M26 32a5 5 0 1 0 10 0a5 5 0 1 0 -10 0M18 55a7 7 0 1 0 14 0a7 7 0 1 0 -14 0M17 50a4 4 0 1 0 8 0a4 4 0 1 0 -8 0M-6 48a7 7 0 1 0 14 0a7 7 0 1 0 -14 0M64 48a7 7 0 1 0 14 0a7 7 0 1 0 -14 0M16 0a7 7 0 1 0 14 0a7 7 0 1 0 -14 0M16 70a7 7 0 1 0 14 0a7 7 0 1 0 -14 0M15 53a7 7 0 1 0 14 0a7 7 0 1 0 -14 0M5 64a5 5 0 1 0 10 0a5 5 0 1 0 -10 0M13 26a6 6 0 1 0 12 0a6 6 0 1 0 -12 0M34 21a3 3 0 1 0 6 0a3 3 0 1 0 -6 0M38 50a6 6 0 1 0 12 0a6 6 0 1 0 -12 0M25 60a3 3 0 1 0 6 0a3 3 0 1 0 -6 0M3 1a6 6 0 1 0 12 0a6 6 0 1 0 -12 0M3 71a6 6 0 1 0 12 0a6 6 0 1 0 -12 0M31 16a6 6 0 1 0 12 0a6 6 0 1 0 -12 0M-8 3a8 8 0 1 0 16 0a8 8 0 1 0 -16 0M-8 73a8 8 0 1 0 16 0a8 8 0 1 0 -16 0M62 3a8 8 0 1 0 16 0a8 8 0 1 0 -16 0M62 73a8 8 0 1 0 16 0a8 8 0 1 0 -16 0M56 5a6 6 0 1 0 12 0a6 6 0 1 0 -12 0M56 75a6 6 0 1 0 12 0a6 6 0 1 0 -12 0M29 38a7 7 0 1 0 14 0a7 7 0 1 0 -14 0M39 -4a6 6 0 1 0 12 0a6 6 0 1 0 -12 0M39 66a6 6 0 1 0 12 0a6 6 0 1 0 -12 0M-13 8a7 7 0 1 0 14 0a7 7 0 1 0 -14 0M57 8a7 7 0 1 0 14 0a7 7 0 1 0 -14 0M15 -6a7 7 0 1 0 14 0a7 7 0 1 0 -14 0M15 64a7 7 0 1 0 14 0a7 7 0 1 0 -14 0M-7 53a5 5 0 1 0 10 0a5 5 0 1 0 -10 0M63 53a5 5 0 1 0 10 0a5 5 0 1 0 -10 0M34 55a3 3 0 1 0 6 0a3 3 0 1 0 -6 0M31 40a7 7 0 1 0 14 0a7 7 0 1 0 -14 0M17 42a7 7 0 1 0 14 0a7 7 0 1 0 -14 0M19 48a8 8 0 1 0 16 0a8 8 0 1 0 -16 0M21 37a5 5 0 1 0 10 0a5 5 0 1 0 -10 0M55 19a4 4 0 1 0 8 0a4 4 0 1 0 -8 0M23 46a4 4 0 1 0 8 0a4 4 0 1 0 -8 0M-9 35a7 7 0 1 0 14 0a7 7 0 1 0 -14 0M61 35a7 7 0 1 0 14 0a7 7 0 1 0 -14 0M24 2a5 5 0 1 0 10 0a5 5 0 1 0 -10 0M24 72a5 5 0 1 0 10 0a5 5 0 1 0 -10 0M32 6a8 8 0 1 0 16 0a8 8 0 1 0 -16 0M32 76a8 8 0 1 0 16 0a8 8 0 1 0 -16 0M38 32a3 3 0 1 0 6 0a3 3 0 1 0 -6 0M11 24a6 6 0 1 0 12 0a6 6 0 1 0 -12 0M8 34a4 4 0 1 0 8 0a4 4 0 1 0 -8 0M34 48a6 6 0 1 0 12 0a6 6 0 1 0 -12 0M50 44a3 3 0 1 0 6 0a3 3 0 1 0 -6 0" fill="#f9f6f2" stroke="#d2b690" stroke-width="1"/></pattern><clipPath id="ih10"><rect x="1786" y="1278" width="305.5" height="223"/></clipPath><pattern id="pt8" width="60" height="60" patternUnits="userSpaceOnUse"><path d="M40 31a6 6 0 1 0 12 0a6 6 0 1 0 -12 0M37 4a5 5 0 1 0 10 0a5 5 0 1 0 -10 0M37 64a5 5 0 1 0 10 0a5 5 0 1 0 -10 0M35 2a8 8 0 1 0 16 0a8 8 0 1 0 -16 0M35 62a8 8 0 1 0 16 0a8 8 0 1 0 -16 0M22 -2a8 8 0 1 0 16 0a8 8 0 1 0 -16 0M22 58a8 8 0 1 0 16 0a8 8 0 1 0 -16 0M18 21a6 6 0 1 0 12 0a6 6 0 1 0 -12 0M38 28a8 8 0 1 0 16 0a8 8 0 1 0 -16 0M-8 45a7 7 0 1 0 14 0a7 7 0 1 0 -14 0M52 45a7 7 0 1 0 14 0a7 7 0 1 0 -14 0M38 30a7 7 0 1 0 14 0a7 7 0 1 0 -14 0M16 -4a9 9 0 1 0 18 0a9 9 0 1 0 -18 0M16 56a9 9 0 1 0 18 0a9 9 0 1 0 -18 0M29 34a5 5 0 1 0 10 0a5 5 0 1 0 -10 0M29 -4a5 5 0 1 0 10 0a5 5 0 1 0 -10 0M29 56a5 5 0 1 0 10 0a5 5 0 1 0 -10 0M38 15a8 8 0 1 0 16 0a8 8 0 1 0 -16 0M9 36a8 8 0 1 0 16 0a8 8 0 1 0 -16 0M-5 50a7 7 0 1 0 14 0a7 7 0 1 0 -14 0M55 50a7 7 0 1 0 14 0a7 7 0 1 0 -14 0M8 18a7 7 0 1 0 14 0a7 7 0 1 0 -14 0M40 11a4 4 0 1 0 8 0a4 4 0 1 0 -8 0M8 38a6 6 0 1 0 12 0a6 6 0 1 0 -12 0M40 44a6 6 0 1 0 12 0a6 6 0 1 0 -12 0M28 9a7 7 0 1 0 14 0a7 7 0 1 0 -14 0M32 14a7 7 0 1 0 14 0a7 7 0 1 0 -14 0M1 -2a7 7 0 1 0 14 0a7 7 0 1 0 -14 0M1 58a7 7 0 1 0 14 0a7 7 0 1 0 -14 0M-10 40a5 5 0 1 0 10 0a5 5 0 1 0 -10 0M50 40a5 5 0 1 0 10 0a5 5 0 1 0 -10 0M38 37a6 6 0 1 0 12 0a6 6 0 1 0 -12 0M35 46a7 7 0 1 0 14 0a7 7 0 1 0 -14 0M4 -2a9 9 0 1 0 18 0a9 9 0 1 0 -18 0M4 58a9 9 0 1 0 18 0a9 9 0 1 0 -18 0M17 -4a9 9 0 1 0 18 0a9 9 0 1 0 -18 0M17 56a9 9 0 1 0 18 0a9 9 0 1 0 -18 0M16 11a5 5 0 1 0 10 0a5 5 0 1 0 -10 0M24 9a5 5 0 1 0 10 0a5 5 0 1 0 -10 0" fill="#f8f6f2" stroke="#d3b98e" stroke-width="1.4"/></pattern><radialGradient id="nucG" cx="799" cy="1865" r="380" gradientUnits="userSpaceOnUse"><stop offset="0" stop-color="#f0f2f7"/><stop offset="0.22" stop-color="#d8dde8"/><stop offset="0.55" stop-color="#c4cbdb"/><stop offset="1" stop-color="#bac3d6"/></radialGradient><radialGradient id="grn" cx="0.68" cy="0.72" r="0.7"><stop offset="0" stop-color="#e2f2b0"/><stop offset="0.45" stop-color="#8cc87a"/><stop offset="1" stop-color="#5aa95a"/></radialGradient><radialGradient id="grn2" cx="0.68" cy="0.3" r="0.75"><stop offset="0" stop-color="#cfe9a6"/><stop offset="0.5" stop-color="#80c070"/><stop offset="1" stop-color="#4f9f50"/></radialGradient><radialGradient id="pur" cx="0.5" cy="0.5" r="0.5"><stop offset="0" stop-color="#6e6ab8"/><stop offset="0.6" stop-color="#34308a"/><stop offset="1" stop-color="#2a2478"/></radialGradient><radialGradient id="redb" cx="0.5" cy="0.5" r="0.5"><stop offset="0" stop-color="#f4d0c0"/><stop offset="0.5" stop-color="#d8604a"/><stop offset="1" stop-color="#b2302a"/></radialGradient><linearGradient id="memb" x1="0" y1="0" x2="0" y2="1"><stop offset="0" stop-color="#52709f"/><stop offset="0.5" stop-color="#9fb2d2"/><stop offset="1" stop-color="#52709f"/></linearGradient><clipPath id="cellin"><rect x="734.5" y="1801.4" width="1362.3" height="901.2" rx="100"/></clipPath><linearGradient id="ga1" gradientUnits="userSpaceOnUse" x1="1361" y1="2017" x2="1302" y2="2072"><stop offset="0" stop-color="#5a5a5a" stop-opacity="0"/><stop offset="0.5" stop-color="#5a5a5a" stop-opacity="0.75"/><stop offset="1" stop-color="#5a5a5a"/></linearGradient><linearGradient id="ga2" gradientUnits="userSpaceOnUse" x1="1651" y1="2031" x2="1706" y2="2080"><stop offset="0" stop-color="#5a5a5a" stop-opacity="0"/><stop offset="0.5" stop-color="#5a5a5a" stop-opacity="0.75"/><stop offset="1" stop-color="#5a5a5a"/></linearGradient><linearGradient id="ga3" gradientUnits="userSpaceOnUse" x1="1307" y1="2535" x2="1340" y2="2407"><stop offset="0" stop-color="#5a5a5a" stop-opacity="0"/><stop offset="0.5" stop-color="#5a5a5a" stop-opacity="0.75"/><stop offset="1" stop-color="#5a5a5a"/></linearGradient><linearGradient id="ga4" gradientUnits="userSpaceOnUse" x1="1577" y1="2549" x2="1620" y2="2477"><stop offset="0" stop-color="#5a5a5a" stop-opacity="0"/><stop offset="0.5" stop-color="#5a5a5a" stop-opacity="0.75"/><stop offset="1" stop-color="#5a5a5a"/></linearGradient><linearGradient id="ga5" gradientUnits="userSpaceOnUse" x1="1368.7" y1="2496" x2="1350.6" y2="2455"><stop offset="0" stop-color="#b8282e" stop-opacity="0"/><stop offset="0.5" stop-color="#b8282e" stop-opacity="0.75"/><stop offset="1" stop-color="#b8282e"/></linearGradient><linearGradient id="ga6" gradientUnits="userSpaceOnUse" x1="1403.5" y1="2529.6" x2="1552" y2="2508"><stop offset="0" stop-color="#b8282e" stop-opacity="0"/><stop offset="0.5" stop-color="#b8282e" stop-opacity="0.75"/><stop offset="1" stop-color="#b8282e"/></linearGradient><linearGradient id="ga7" gradientUnits="userSpaceOnUse" x1="876.7" y1="2158" x2="1258" y2="2520"><stop offset="0" stop-color="#b8282e" stop-opacity="0"/><stop offset="0.5" stop-color="#b8282e" stop-opacity="0.75"/><stop offset="1" stop-color="#b8282e"/></linearGradient><linearGradient id="ga8" gradientUnits="userSpaceOnUse" x1="1202" y1="2229" x2="1097" y2="2340"><stop offset="0" stop-color="#b8282e" stop-opacity="0"/><stop offset="0.5" stop-color="#b8282e" stop-opacity="0.75"/><stop offset="1" stop-color="#b8282e"/></linearGradient><linearGradient id="ga9" gradientUnits="userSpaceOnUse" x1="1755" y1="2383" x2="1888" y2="2392"><stop offset="0" stop-color="#5a5a5a" stop-opacity="0"/><stop offset="0.5" stop-color="#5a5a5a" stop-opacity="0.75"/><stop offset="1" stop-color="#5a5a5a"/></linearGradient><linearGradient id="ga10" gradientUnits="userSpaceOnUse" x1="2035" y1="2482" x2="2044" y2="2530"><stop offset="0" stop-color="#5a5a5a" stop-opacity="0"/><stop offset="0.5" stop-color="#5a5a5a" stop-opacity="0.75"/><stop offset="1" stop-color="#5a5a5a"/></linearGradient><linearGradient id="ga11" gradientUnits="userSpaceOnUse" x1="1988" y1="2679" x2="1925" y2="2762"><stop offset="0" stop-color="#5a5a5a" stop-opacity="0"/><stop offset="0.5" stop-color="#5a5a5a" stop-opacity="0.75"/><stop offset="1" stop-color="#5a5a5a"/></linearGradient><radialGradient id="vball" cx="0.4" cy="0.35" r="0.65"><stop offset="0" stop-color="#c6c0e0"/><stop offset="1" stop-color="#8a86c0"/></radialGradient><radialGradient id="tball" cx="0.4" cy="0.35" r="0.65"><stop offset="0" stop-color="#8ee0e0"/><stop offset="1" stop-color="#3aa8b0"/></radialGradient><linearGradient id="lg1" x1="0" x2="1"><stop offset="0" stop-color="#b8282e" stop-opacity="0"/><stop offset="1" stop-color="#b8282e"/></linearGradient></defs><text transform="translate(41 57) scale(1 1.09)" font-weight="700" fill="#000">Fig. 7</text>
<text transform="translate(38 165) scale(1 1.09)" font-weight="700" font-size="49" fill="#000">a</text>
<text transform="translate(1097 166) scale(1 1.09)" font-weight="700" font-size="49" fill="#000">b</text>
<text transform="translate(41 865) scale(1 1.09)" font-weight="700" font-size="49" fill="#000">c</text>
<text transform="translate(918 865.5) scale(1 1.09)" font-weight="700" font-size="49" fill="#000">d</text>
<text transform="translate(40 1616) scale(1 1.09)" font-weight="700" font-size="49" fill="#000">e</text>
<text transform="translate(42 2275.5) scale(1 1.09)" font-weight="700" font-size="49" fill="#000">f</text>
<text transform="translate(690 1756.5) scale(1 1.09)" font-weight="700" font-size="49" fill="#000">g</text>
<text transform="translate(372 199.6) scale(1 1.07)" text-anchor="middle" stroke="#141414" stroke-width="0.7">Total</text>
<line x1="257" y1="220.4" x2="490" y2="220.4" stroke="#231815" stroke-width="4"/>
<text transform="translate(611 199.6) scale(1 1.07)" text-anchor="middle" stroke="#141414" stroke-width="0.7">Cytoplasm</text>
<line x1="496" y1="220.4" x2="729" y2="220.4" stroke="#231815" stroke-width="4"/>
<text transform="translate(850 199.6) scale(1 1.07)" text-anchor="middle" stroke="#141414" stroke-width="0.7">Nuclei</text>
<line x1="735" y1="220.4" x2="965" y2="220.4" stroke="#231815" stroke-width="4"/>
<text transform="translate(250 271.7) scale(1 1.07)" text-anchor="end" fill="#231815" stroke="#231815" stroke-width="0.7">pCMV (µg)</text>
<text transform="translate(250 330) scale(1 1.07)" text-anchor="end" fill="#231815" stroke="#231815" stroke-width="0.7">Cp(µg)</text>
<text transform="translate(304 272) scale(1 1.07)" text-anchor="middle" fill="#231815" stroke="#231815" stroke-width="0.7">2</text>
<text transform="translate(303 323.2) scale(1 1.07)" text-anchor="middle" fill="#231815" stroke="#231815" stroke-width="0.7">0</text>
<text transform="translate(372.6 272) scale(1 1.07)" text-anchor="middle" fill="#231815" stroke="#231815" stroke-width="0.7">1</text>
<text transform="translate(374 323.2) scale(1 1.07)" text-anchor="middle" fill="#231815" stroke="#231815" stroke-width="0.7">1</text>
<text transform="translate(447.6 272) scale(1 1.07)" text-anchor="middle" fill="#231815" stroke="#231815" stroke-width="0.7">0</text>
<text transform="translate(447.6 323.2) scale(1 1.07)" text-anchor="middle" fill="#231815" stroke="#231815" stroke-width="0.7">2</text>
<text transform="translate(532.3 272) scale(1 1.07)" text-anchor="middle" fill="#231815" stroke="#231815" stroke-width="0.7">2</text>
<text transform="translate(531.4 323.2) scale(1 1.07)" text-anchor="middle" fill="#231815" stroke="#231815" stroke-width="0.7">0</text>
<text transform="translate(599.5 272) scale(1 1.07)" text-anchor="middle" fill="#231815" stroke="#231815" stroke-width="0.7">1</text>
<text transform="translate(599.5 323.2) scale(1 1.07)" text-anchor="middle" fill="#231815" stroke="#231815" stroke-width="0.7">1</text>
<text transform="translate(675.9 272) scale(1 1.07)" text-anchor="middle" fill="#231815" stroke="#231815" stroke-width="0.7">0</text>
<text transform="translate(675.9 323.2) scale(1 1.07)" text-anchor="middle" fill="#231815" stroke="#231815" stroke-width="0.7">2</text>
<text transform="translate(779 272) scale(1 1.07)" text-anchor="middle" fill="#231815" stroke="#231815" stroke-width="0.7">2</text>
<text transform="translate(779 323.2) scale(1 1.07)" text-anchor="middle" fill="#231815" stroke="#231815" stroke-width="0.7">0</text>
<text transform="translate(849.5 272) scale(1 1.07)" text-anchor="middle" fill="#231815" stroke="#231815" stroke-width="0.7">1</text>
<text transform="translate(849.5 323.2) scale(1 1.07)" text-anchor="middle" fill="#231815" stroke="#231815" stroke-width="0.7">1</text>
<text transform="translate(923.5 272) scale(1 1.07)" text-anchor="middle" fill="#231815" stroke="#231815" stroke-width="0.7">0</text>
<text transform="translate(921 323.2) scale(1 1.07)" text-anchor="middle" fill="#231815" stroke="#231815" stroke-width="0.7">2</text>
<rect x="256.5" y="353.1" width="233.5" height="70.6" fill="#ececec" stroke="#0a0a0a" stroke-width="4"/>
<rect x="496" y="353.1" width="233.2" height="70.6" fill="#ececec" stroke="#0a0a0a" stroke-width="4"/>
<rect x="735.4" y="353.1" width="233.2" height="70.6" fill="#ececec" stroke="#0a0a0a" stroke-width="4"/>
<g clip-path="url(#cA1)">
<rect x="279.5" y="386.5" width="53.5" height="9" rx="4.5" fill="#555" filter="url(#b3)" opacity="0.85"/>
<rect x="279.5" y="397.5" width="53.5" height="9" rx="4.5" fill="#555" filter="url(#b3)" opacity="0.85"/>
<rect x="351.8" y="386.5" width="54.6" height="9" rx="4.5" fill="#555" filter="url(#b3)" opacity="0.85"/>
<rect x="351.8" y="397.5" width="54.6" height="9" rx="4.5" fill="#555" filter="url(#b3)" opacity="0.85"/>
<rect x="426.8" y="386.5" width="52.2" height="9" rx="4.5" fill="#555" filter="url(#b3)" opacity="0.85"/>
<rect x="426.8" y="397.5" width="52.2" height="9" rx="4.5" fill="#555" filter="url(#b3)" opacity="0.85"/>
<rect x="506" y="380" width="52" height="8" rx="4" fill="#000" filter="url(#b2)"/>
<rect x="506" y="391.5" width="52" height="11" rx="5.5" fill="#000" filter="url(#b2)"/>
<rect x="582" y="379" width="51" height="10" rx="5" fill="#000" filter="url(#b2)"/>
<rect x="582" y="390.1" width="51" height="13.8" rx="6.9" fill="#000" filter="url(#b2)"/>
<rect x="660" y="380" width="50.7" height="8" rx="4" fill="#000" filter="url(#b2)"/>
<rect x="660" y="391.5" width="50.7" height="11" rx="5.5" fill="#000" filter="url(#b2)"/>
<rect x="743" y="379.6" width="56" height="10.8" rx="5.4" fill="#000" filter="url(#b2)"/>
<rect x="743" y="391" width="56" height="12" rx="6" fill="#000" filter="url(#b2)"/>
<rect x="823" y="381.4" width="54" height="7.2" rx="3.6" fill="#000" filter="url(#b2)"/>
<rect x="823" y="393" width="54" height="8" rx="4" fill="#000" filter="url(#b2)"/>
<rect x="902.5" y="381.2" width="52" height="7.6" rx="3.8" fill="#000" filter="url(#b2)"/>
<rect x="902.5" y="392.8" width="52" height="8.5" rx="4.2" fill="#000" filter="url(#b2)"/>
</g>
<text transform="translate(251 406.3) scale(1 1.07)" text-anchor="end" stroke="#141414" stroke-width="0.7">TIAR</text>
<text transform="translate(974 385.5) scale(1 1.07)" stroke="#141414" stroke-width="0.7">kDa</text>
<line x1="968.6" y1="409.9" x2="978.6" y2="409.9" stroke="#111" stroke-width="3.8"/>
<text transform="translate(984 424.9) scale(1 1.07)" stroke="#141414" stroke-width="0.7">40</text>
<text transform="translate(304 464) scale(1 1.07)" text-anchor="middle" font-size="31.5" stroke="#141414" stroke-width="0.7">1.00</text>
<text transform="translate(377 464) scale(1 1.07)" text-anchor="middle" font-size="31.5" stroke="#141414" stroke-width="0.7">1.51</text>
<text transform="translate(449 464) scale(1 1.07)" text-anchor="middle" font-size="31.5" stroke="#141414" stroke-width="0.7">1.65</text>
<text transform="translate(527 464) scale(1 1.07)" text-anchor="middle" font-size="31.5" stroke="#141414" stroke-width="0.7">1.00</text>
<text transform="translate(610 464) scale(1 1.07)" text-anchor="middle" font-size="31.5" stroke="#141414" stroke-width="0.7">1.28</text>
<text transform="translate(693 464) scale(1 1.07)" text-anchor="middle" font-size="31.5" stroke="#141414" stroke-width="0.7">1.08</text>
<text transform="translate(768 464) scale(1 1.07)" text-anchor="middle" font-size="31.5" stroke="#141414" stroke-width="0.7">1.00</text>
<text transform="translate(849 464) scale(1 1.07)" text-anchor="middle" font-size="31.5" stroke="#141414" stroke-width="0.7">0.82</text>
<text transform="translate(929 464) scale(1 1.07)" text-anchor="middle" font-size="31.5" stroke="#141414" stroke-width="0.7">0.91</text>
<rect x="256.5" y="488.5" width="233.5" height="66.5" fill="#efefef" stroke="#0a0a0a" stroke-width="4"/>
<rect x="496" y="488.5" width="233.2" height="66.5" fill="#efefef" stroke="#0a0a0a" stroke-width="4"/>
<rect x="735.4" y="488.5" width="233.2" height="66.5" fill="#efefef" stroke="#0a0a0a" stroke-width="4"/>
<g clip-path="url(#cA2)">
<rect x="280" y="517" width="50" height="8" rx="4" fill="#999" filter="url(#b3)" opacity="0.25"/>
<rect x="349" y="513" width="51" height="16" rx="8" fill="#000" filter="url(#b2)"/>
<rect x="413" y="510" width="56.6" height="22" rx="11" fill="#000" filter="url(#b2)"/>
<rect x="505" y="519.5" width="53" height="5" rx="2.5" fill="#888" filter="url(#b3)" opacity="0.4"/>
<rect x="583" y="517.5" width="58" height="9" rx="4.5" fill="#000" filter="url(#b2)"/>
<rect x="661" y="515" width="54" height="12" rx="6" fill="#000" filter="url(#b2)"/>
<rect x="822" y="517.5" width="55" height="9" rx="4.5" fill="#000" filter="url(#b2)"/>
<rect x="900" y="515.5" width="55" height="11" rx="5.5" fill="#000" filter="url(#b2)"/>
</g>
<text transform="translate(251 537) scale(1 1.07)" text-anchor="end" stroke="#141414" stroke-width="0.7">Cp</text>
<line x1="968.6" y1="547" x2="978.6" y2="547" stroke="#111" stroke-width="3.8"/>
<text transform="translate(986 562) scale(1 1.07)" stroke="#141414" stroke-width="0.7">15</text>
<rect x="256.5" y="574.2" width="233.5" height="68.8" fill="#ececec" stroke="#0a0a0a" stroke-width="4"/>
<rect x="496" y="574.2" width="233.2" height="68.8" fill="#ededed" stroke="#0a0a0a" stroke-width="4"/>
<rect x="735.4" y="574.2" width="233.2" height="68.8" fill="#f0f0f0" stroke="#0a0a0a" stroke-width="4"/>
<g clip-path="url(#cA3)">
<rect x="266" y="597" width="61" height="18" rx="9" fill="#000" filter="url(#b2)"/>
<rect x="341" y="597.5" width="60.6" height="17" rx="8.5" fill="#000" filter="url(#b2)"/>
<rect x="417.5" y="595.5" width="62.2" height="21" rx="10.5" fill="#000" filter="url(#b2)"/>
<rect x="503" y="610" width="65.6" height="20" rx="10" fill="#000" filter="url(#b2)"/>
<rect x="582.6" y="610" width="61.4" height="20" rx="10" fill="#000" filter="url(#b2)"/>
<rect x="659" y="610" width="60" height="20" rx="10" fill="#000" filter="url(#b2)"/>
<rect x="830" y="613" width="40" height="2" rx="1" fill="#777" filter="url(#b2)" opacity="0.6"/>
<rect x="905" y="613" width="40" height="2" rx="1" fill="#777" filter="url(#b2)" opacity="0.6"/>
</g>
<text transform="translate(251 628.6) scale(1 1.07)" text-anchor="end" stroke="#141414" stroke-width="0.7">Tubulin</text>
<line x1="968.6" y1="605.7" x2="978.6" y2="605.7" stroke="#111" stroke-width="3.8"/>
<text transform="translate(986 620.7) scale(1 1.07)" stroke="#141414" stroke-width="0.7">55</text>
<rect x="496" y="660" width="233.2" height="70" fill="#f0f0f0" stroke="#0a0a0a" stroke-width="4"/>
<rect x="735.4" y="660" width="233.2" height="70" fill="#ececec" stroke="#0a0a0a" stroke-width="4"/>
<g clip-path="url(#cA4)">
<rect x="505" y="691" width="53" height="6" rx="3" fill="#aaa" filter="url(#b3)" opacity="0.5"/>
<rect x="583" y="692" width="58" height="6" rx="3" fill="#bbb" filter="url(#b3)" opacity="0.4"/>
<rect x="741" y="691" width="60.6" height="8" rx="4" fill="#111" filter="url(#b2)"/>
<rect x="816" y="691" width="62" height="8" rx="4" fill="#111" filter="url(#b2)"/>
<rect x="893.7" y="691" width="63.3" height="8" rx="4" fill="#111" filter="url(#b2)"/>
</g>
<text transform="translate(489 718.7) scale(1 1.07)" text-anchor="end" stroke="#141414" stroke-width="0.7">LaminB1</text>
<line x1="968.6" y1="677.5" x2="978.6" y2="677.5" stroke="#111" stroke-width="3.8"/>
<text transform="translate(986 692.5) scale(1 1.07)" stroke="#141414" stroke-width="0.7">70</text>
<text transform="translate(1449.5 209.5) scale(1 1.07)" text-anchor="middle" stroke="#141414" stroke-width="0.7">Huh-7</text>
<line x1="1316" y1="222.8" x2="1581" y2="222.8" stroke="#111" stroke-width="4"/>
<text transform="translate(1700 209.5) scale(1 1.07)" text-anchor="middle" stroke="#141414" stroke-width="0.7">Huh-7</text>
<line x1="1585.3" y1="222.8" x2="1818.5" y2="222.8" stroke="#111" stroke-width="4"/>
<text transform="translate(1939.5 209.5) scale(1 1.07)" text-anchor="middle" stroke="#141414" stroke-width="0.7">HepAD38</text>
<line x1="1823" y1="222.8" x2="2056.5" y2="222.8" stroke="#111" stroke-width="4"/>
<text transform="translate(1305 281.3) scale(1 1.07)" text-anchor="end" stroke="#141414" stroke-width="0.7">pCMV (µg)</text>
<text transform="translate(1305 325) scale(1 1.07)" text-anchor="end" stroke="#141414" stroke-width="0.7">Cp(µg)</text>
<text transform="translate(1366 280.6) scale(1 1.07)" text-anchor="middle" fill="#231815" stroke="#231815" stroke-width="0.7">2</text>
<text transform="translate(1366 331) scale(1 1.07)" text-anchor="middle" fill="#231815" stroke="#231815" stroke-width="0.7">0</text>
<text transform="translate(1448.6 280.6) scale(1 1.07)" text-anchor="middle" fill="#231815" stroke="#231815" stroke-width="0.7">1</text>
<text transform="translate(1448.6 331) scale(1 1.07)" text-anchor="middle" fill="#231815" stroke="#231815" stroke-width="0.7">1</text>
<text transform="translate(1540 280.6) scale(1 1.07)" text-anchor="middle" fill="#231815" stroke="#231815" stroke-width="0.7">0</text>
<text transform="translate(1540 331) scale(1 1.07)" text-anchor="middle" fill="#231815" stroke="#231815" stroke-width="0.7">2</text>
<text transform="translate(1643 300.7) scale(1 1.07)" text-anchor="middle" stroke="#141414" stroke-width="0.7">nc</text>
<text transform="translate(1766.5 300.7) scale(1 1.07)" text-anchor="middle" stroke="#141414" stroke-width="0.7">prccc</text>
<text transform="translate(1884.5 303.5) scale(1 1.07)" text-anchor="middle" stroke="#141414" stroke-width="0.7">Dox+</text>
<text transform="translate(1995.5 303.5) scale(1 1.07)" text-anchor="middle" stroke="#141414" stroke-width="0.7">Dox-</text>
<rect x="1315" y="339.9" width="266" height="69.9" fill="#efefef" stroke="#0a0a0a" stroke-width="4"/>
<rect x="1588" y="339.9" width="230" height="69.9" fill="#d2d2d2" stroke="#0a0a0a" stroke-width="4"/>
<rect x="1825" y="339.9" width="229.2" height="69.9" fill="#f2f2f2" stroke="#0a0a0a" stroke-width="4"/>
<g clip-path="url(#cB1)">
<rect x="1337" y="366" width="61" height="17" rx="4" fill="#222" filter="url(#b3)"/>
<rect x="1340" y="386" width="55" height="14" rx="7" fill="#999" filter="url(#b5)" opacity="0.45"/>
<rect x="1424.5" y="365.5" width="59.2" height="17" rx="4" fill="#1e1e1e" filter="url(#b3)"/>
<rect x="1427.5" y="386" width="53.2" height="14" rx="7" fill="#999" filter="url(#b5)" opacity="0.45"/>
<rect x="1509.5" y="362" width="58.5" height="20" rx="4" fill="#080808" filter="url(#b3)"/>
<rect x="1512.5" y="386" width="52.5" height="14" rx="7" fill="#999" filter="url(#b5)" opacity="0.45"/>
<rect x="1604" y="363.5" width="87.7" height="12" rx="4" fill="#666" filter="url(#b3)"/>
<rect x="1726" y="362.5" width="81" height="14" rx="4" fill="#3a3a3a" filter="url(#b3)"/>
<rect x="1604" y="379" width="87.7" height="16" rx="8" fill="#aaa" filter="url(#b5)" opacity="0.5"/>
<rect x="1726" y="379" width="81" height="16" rx="8" fill="#aaa" filter="url(#b5)" opacity="0.5"/>
<rect x="1847.5" y="375.5" width="88.5" height="7" rx="3.5" fill="#222" filter="url(#b2)"/>
<rect x="1960" y="373.5" width="84.5" height="13" rx="6.5" fill="#000" filter="url(#b2)"/>
<rect x="1960" y="358.5" width="84.5" height="5" rx="4" fill="#999" filter="url(#b3)" opacity="0.6"/>
</g>
<text transform="translate(1305 384) scale(1 1.07)" text-anchor="end" stroke="#141414" stroke-width="0.7">p-eIF2α</text>
<text transform="translate(2058 365) scale(1 1.07)" stroke="#141414" stroke-width="0.7">kDa</text>
<line x1="2054.2" y1="402.1" x2="2064.2" y2="402.1" stroke="#111" stroke-width="3.8"/>
<text transform="translate(2073 417.1) scale(1 1.07)" stroke="#141414" stroke-width="0.7">35</text>
<rect x="1315" y="429" width="266" height="68.5" fill="#e6e6e6" stroke="#0a0a0a" stroke-width="4"/>
<rect x="1588" y="429" width="230" height="68.5" fill="#cfcfcf" stroke="#0a0a0a" stroke-width="4"/>
<rect x="1825" y="429" width="229.2" height="68.5" fill="#f2f2f2" stroke="#0a0a0a" stroke-width="4"/>
<g clip-path="url(#cB2)">
<rect x="1323.8" y="431.5" width="60.2" height="5" rx="4" fill="#999" filter="url(#b3)" opacity="0.5"/>
<rect x="1323.8" y="447" width="60.2" height="10" rx="4" fill="#888" filter="url(#b3)" opacity="0.6"/>
<rect x="1323.8" y="475.6" width="60.2" height="10.8" rx="4" fill="#1a1a1a" filter="url(#b3)"/>
<rect x="1420" y="431.5" width="50" height="5" rx="4" fill="#999" filter="url(#b3)" opacity="0.5"/>
<rect x="1420" y="447" width="50" height="10" rx="4" fill="#888" filter="url(#b3)" opacity="0.6"/>
<rect x="1420" y="475.3" width="50" height="11.4" rx="4" fill="#1a1a1a" filter="url(#b3)"/>
<rect x="1507.7" y="431.5" width="56.8" height="5" rx="4" fill="#999" filter="url(#b3)" opacity="0.5"/>
<rect x="1507.7" y="447" width="56.8" height="10" rx="4" fill="#888" filter="url(#b3)" opacity="0.6"/>
<rect x="1507.7" y="474.1" width="56.8" height="13.8" rx="4" fill="#1a1a1a" filter="url(#b3)"/>
<rect x="1604" y="452.5" width="81" height="13" rx="4" fill="#3a3a3a" filter="url(#b3)"/>
<rect x="1716" y="453" width="79" height="14" rx="4" fill="#333" filter="url(#b3)"/>
<rect x="1604" y="469" width="81" height="16" rx="8" fill="#999" filter="url(#b5)" opacity="0.5"/>
<rect x="1716" y="469" width="79" height="16" rx="8" fill="#999" filter="url(#b5)" opacity="0.5"/>
<rect x="1841.4" y="465.5" width="92.6" height="12" rx="6" fill="#000" filter="url(#b2)"/>
<rect x="1944" y="465.5" width="92.5" height="12" rx="6" fill="#000" filter="url(#b2)"/>
</g>
<text transform="translate(1305 473.7) scale(1 1.07)" text-anchor="end" stroke="#141414" stroke-width="0.7">eIF2α</text>
<line x1="2054.2" y1="491.7" x2="2064.2" y2="491.7" stroke="#111" stroke-width="3.8"/>
<text transform="translate(2073 506.7) scale(1 1.07)" stroke="#141414" stroke-width="0.7">35</text>
<text transform="translate(1306 545.2) scale(1 1.07)" text-anchor="end" stroke="#141414" stroke-width="0.7">p-eIF2α/eIF2α</text>
<text transform="translate(1357.5 544) scale(1 1.07)" text-anchor="middle" font-size="32" stroke="#141414" stroke-width="0.7">1.00</text>
<text transform="translate(1448.6 544) scale(1 1.07)" text-anchor="middle" font-size="32" stroke="#141414" stroke-width="0.7">1.34</text>
<text transform="translate(1539 544) scale(1 1.07)" text-anchor="middle" font-size="32" stroke="#141414" stroke-width="0.7">1.67</text>
<text transform="translate(1650 544) scale(1 1.07)" text-anchor="middle" font-size="32" stroke="#141414" stroke-width="0.7">1.00</text>
<text transform="translate(1757 544) scale(1 1.07)" text-anchor="middle" font-size="32" stroke="#141414" stroke-width="0.7">1.51</text>
<text transform="translate(1886 544) scale(1 1.07)" text-anchor="middle" font-size="32" stroke="#141414" stroke-width="0.7">1.00</text>
<text transform="translate(1991.5 544) scale(1 1.07)" text-anchor="middle" font-size="32" stroke="#141414" stroke-width="0.7">2.51</text>
<rect x="1315" y="572" width="266" height="68.5" fill="#f0f0f0" stroke="#0a0a0a" stroke-width="4"/>
<rect x="1588" y="572" width="230" height="68.5" fill="#c4c4c4" stroke="#0a0a0a" stroke-width="4"/>
<rect x="1825" y="572" width="229.2" height="68.5" fill="#f2f2f2" stroke="#0a0a0a" stroke-width="4"/>
<g clip-path="url(#cB3)">
<rect x="1330" y="602" width="65" height="6" rx="3" fill="#bbb" filter="url(#b3)" opacity="0.4"/>
<rect x="1419.6" y="598.5" width="53.4" height="13" rx="6.5" fill="#000" filter="url(#b2)"/>
<rect x="1493.7" y="595" width="61.3" height="20" rx="10" fill="#000" filter="url(#b2)"/>
<rect x="1706.7" y="602.1" width="86.3" height="9" rx="4.5" fill="#111" filter="url(#b2)"/>
<rect x="1956" y="593.5" width="82.5" height="13" rx="6.5" fill="#000" filter="url(#b2)"/>
<circle cx="1853" cy="577" r="3" fill="#111"/>
<circle cx="1869" cy="590" r="1.2" fill="#111"/>
<circle cx="1935" cy="580" r="1.5" fill="#111"/>
<circle cx="1945" cy="582" r="1.2" fill="#111"/>
<circle cx="1932" cy="620" r="1" fill="#111"/>
<circle cx="1848" cy="625" r="1" fill="#111"/>
<circle cx="2052" cy="597" r="2" fill="#111"/>
</g>
<text transform="translate(1305 615.6) scale(1 1.07)" text-anchor="end" stroke="#141414" stroke-width="0.7">Cp</text>
<line x1="2054.2" y1="636" x2="2064.2" y2="636" stroke="#111" stroke-width="3.8"/>
<text transform="translate(2073 651) scale(1 1.07)" stroke="#141414" stroke-width="0.7">15</text>
<rect x="1315" y="661.5" width="266" height="68" fill="#e9e9e9" stroke="#0a0a0a" stroke-width="4"/>
<rect x="1588" y="661.5" width="230" height="68" fill="#e4e4e4" stroke="#0a0a0a" stroke-width="4"/>
<rect x="1825" y="661.5" width="229.2" height="68" fill="#ececec" stroke="#0a0a0a" stroke-width="4"/>
<g clip-path="url(#cB4)">
<rect x="1327" y="683" width="72" height="20" rx="6" fill="#0a0a0a" filter="url(#b2)"/>
<rect x="1418" y="683" width="68" height="20" rx="6" fill="#0a0a0a" filter="url(#b2)"/>
<rect x="1505" y="683" width="70" height="20" rx="6" fill="#0a0a0a" filter="url(#b2)"/>
<rect x="1600" y="690" width="94.6" height="18" rx="6" fill="#0a0a0a" filter="url(#b2)"/>
<rect x="1708.7" y="691" width="93.7" height="18" rx="6" fill="#0a0a0a" filter="url(#b2)"/>
<rect x="1833" y="687.5" width="95" height="15" rx="7.5" fill="#000" filter="url(#b2)"/>
<rect x="1946" y="687" width="90.4" height="16" rx="8" fill="#000" filter="url(#b2)"/>
<rect x="1960" y="665.5" width="70" height="5" rx="2.5" fill="#bbb" filter="url(#b3)" opacity="0.5"/>
</g>
<text transform="translate(1305 706) scale(1 1.07)" text-anchor="end" stroke="#141414" stroke-width="0.7">Tubulin</text>
<line x1="2054.2" y1="685" x2="2064.2" y2="685" stroke="#111" stroke-width="3.8"/>
<text transform="translate(2073 700) scale(1 1.07)" stroke="#141414" stroke-width="0.7">55</text>
<text transform="translate(74 981) scale(1 1.07)" stroke="#141414" stroke-width="0.7">Low Cp expression</text>
<text transform="translate(510 981) scale(1 1.07)" stroke="#141414" stroke-width="0.7">High Cp expression</text>
<g clip-path="url(#ih1)"><rect x="53" y="1000" width="397" height="223.5" fill="#eef2f8"/>
<rect x="53" y="1000" width="397" height="223.5" fill="url(#pt1)"/>
<path d="M169 1103h0M439 1122h0M436 1069h0M53 1085h0M253 1045h0M55 1059h0M212 1009h0M174 1052h0M263 1168h0M337 1196h0M182 1220h0M340 1144h0M385 1199h0M344 1182h0M261 1113h0M372 1185h0M407 1153h0M144 1007h0M196 1023h0M275 1140h0M323 1109h0M370 1167h0M265 1147h0M346 1056h0M158 1163h0M347 1218h0M205 1107h0M357 1138h0M84 1033h0M348 1068h0M58 1014h0M320 1155h0M168 1115h0M238 1026h0M60 1103h0M437 1100h0M136 1211h0M284 1032h0M431 1030h0M255 1198h0M145 1201h0M63 1001h0M232 1067h0M190 1071h0M54 1168h0M101 1207h0M411 1065h0M209 1223h0M196 1096h0M72 1023h0M166 1209h0M158 1114h0M201 1214h0M426 1123h0M73 1164h0M352 1144h0M72 1207h0M240 1077h0M346 1218h0M313 1067h0M210 1037h0M136 1202h0M232 1031h0M89 1076h0M148 1058h0M405 1168h0M217 1117h0M187 1014h0M437 1028h0M303 1193h0M161 1056h0M230 1213h0M400 1005h0M335 1200h0M286 1000h0M421 1185h0M439 1056h0M114 1117h0M427 1161h0M357 1102h0M69 1175h0M418 1144h0M104 1056h0M330 1025h0M261 1130h0M142 1134h0M309 1198h0M333 1069h0M251 1151h0M143 1008h0M220 1153h0M369 1165h0M134 1217h0M379 1052h0M250 1042h0M111 1088h0M440 1032h0M77 1088h0M423 1074h0M425 1167h0M317 1085h0M185 1038h0M102 1216h0M195 1184h0M225 1011h0M201 1206h0M198 1200h0M216 1181h0M69 1008h0M418 1057h0M410 1076h0M433 1138h0M338 1071h0M305 1211h0M432 1086h0M126 1179h0M380 1173h0M183 1071h0M364 1018h0M352 1055h0M66 1124h0M158 1019h0M251 1159h0M146 1093h0M321 1167h0M317 1027h0M170 1127h0M346 1045h0M150 1034h0M283 1073h0M447 1113h0M94 1106h0M387 1204h0M170 1027h0M201 1194h0M95 1133h0M139 1082h0M134 1057h0M312 1045h0M183 1152h0M177 1045h0M271 1014h0M210 1123h0M89 1037h0M216 1063h0M431 1070h0M195 1093h0M449 1081h0M342 1046h0M411 1095h0M214 1197h0M118 1003h0M307 1203h0M300 1083h0M111 1063h0M420 1024h0M373 1216h0M207 1202h0M380 1036h0M141 1090h0M382 1041h0M212 1116h0M102 1055h0M409 1009h0M354 1009h0M100 1134h0M302 1068h0M284 1095h0M230 1098h0M299 1109h0M356 1174h0M124 1106h0M104 1096h0M228 1114h0M306 1018h0M362 1114h0M344 1182h0M417 1037h0M422 1015h0M353 1035h0M162 1182h0M252 1206h0M157 1113h0M68 1041h0M425 1152h0M120 1175h0M264 1142h0M400 1124h0M303 1088h0M158 1221h0M196 1171h0M123 1166h0M378 1057h0M444 1131h0M177 1000h0M112 1138h0" stroke="#dccab4" stroke-width="2" stroke-linecap="round"/>
<path d="M230 1059h0M132 1219h0M375 1141h0M140 1203h0M173 1103h0M146 1055h0M155 1149h0M355 1066h0M219 1149h0M404 1164h0M164 1079h0M54 1169h0M146 1106h0M224 1110h0M442 1197h0M374 1146h0M439 1130h0M156 1174h0M103 1211h0M245 1012h0M253 1084h0M107 1192h0M443 1110h0M403 1023h0" stroke="#dccab4" stroke-width="3" stroke-linecap="round"/>
<path d="M169 1103h0M439 1122h0M53 1085h0M55 1059h0M174 1052h0M337 1196h0M340 1144h0M344 1182h0M372 1185h0M144 1007h0M275 1140h0M370 1167h0M346 1056h0M347 1218h0M357 1138h0M348 1068h0M320 1155h0M238 1026h0M60 1103h0M136 1211h0M431 1030h0M145 1201h0M232 1067h0M54 1168h0M411 1065h0M196 1096h0M166 1209h0M201 1214h0M426 1123h0M352 1144h0M240 1077h0M313 1067h0M136 1202h0M232 1031h0M148 1058h0M217 1117h0M437 1028h0M161 1056h0M400 1005h0M286 1000h0M439 1056h0M427 1161h0M69 1175h0M104 1056h0M261 1130h0M173 1103h0M146 1055h0M251 1151h0M143 1008h0M369 1165h0M379 1052h0M250 1042h0M111 1088h0M77 1088h0M423 1074h0M317 1085h0M164 1079h0M195 1184h0M201 1206h0M216 1181h0M418 1057h0M433 1138h0M54 1169h0M146 1106h0M224 1110h0M380 1173h0M364 1018h0M66 1124h0M158 1019h0M146 1093h0M317 1027h0M346 1045h0M283 1073h0M374 1146h0M387 1204h0M439 1130h0M156 1174h0M139 1082h0M312 1045h0M177 1045h0M210 1123h0M216 1063h0M195 1093h0M342 1046h0M214 1197h0M307 1203h0M111 1063h0M373 1216h0M245 1012h0M380 1036h0M382 1041h0M102 1055h0M354 1009h0M302 1068h0M230 1098h0M356 1174h0M104 1096h0M306 1018h0M253 1084h0M344 1182h0M417 1037h0M353 1035h0M252 1206h0M68 1041h0M120 1175h0M400 1124h0M303 1088h0M196 1171h0M378 1057h0M177 1000h0" stroke="#e6d6c2" stroke-width="1" stroke-linecap="round" opacity="0.6"/>
<path d="M143 1146h0M150 1033h0M213 1059h0M139 1197h0M190 1032h0M330 1165h0M378 1199h0M167 1022h0M391 1138h0M139 1193h0M378 1038h0M444 1079h0M162 1089h0M383 1142h0M267 1193h0M219 1215h0M306 1142h0M245 1201h0M405 1122h0M93 1041h0M308 1209h0M101 1216h0M398 1029h0M436 1160h0M278 1065h0M374 1063h0M377 1198h0M258 1033h0M435 1057h0M133 1040h0M110 1151h0M338 1044h0M98 1219h0M449 1207h0M168 1200h0M336 1044h0M215 1161h0M396 1110h0M264 1120h0M377 1189h0M198 1119h0M225 1113h0M404 1198h0M281 1130h0M222 1204h0M322 1117h0M175 1154h0M296 1180h0M299 1056h0M206 1090h0M252 1066h0M336 1009h0" stroke="#80605a" stroke-width="3" stroke-linecap="round"/>
<path d="M257 1200h0M54 1079h0M195 1050h0M287 1046h0M242 1030h0M306 1195h0M309 1126h0M309 1099h0M344 1056h0M70 1119h0M147 1013h0M58 1123h0M109 1045h0M254 1143h0M122 1069h0M72 1199h0M337 1001h0M349 1104h0M233 1050h0M145 1009h0M351 1155h0M336 1059h0M226 1176h0M158 1143h0M156 1053h0M428 1167h0M402 1073h0M413 1141h0M317 1219h0M386 1156h0M227 1162h0M175 1047h0M84 1204h0M64 1024h0M70 1155h0M287 1081h0M398 1204h0M96 1046h0M67 1189h0M305 1184h0M354 1046h0M221 1005h0M165 1160h0M180 1215h0M217 1098h0M191 1157h0M133 1170h0M55 1110h0M369 1041h0M191 1186h0M428 1063h0M331 1111h0M306 1018h0M330 1176h0M194 1090h0M406 1019h0M63 1046h0M411 1112h0M404 1052h0M264 1169h0M310 1078h0M115 1188h0M348 1038h0M360 1129h0M236 1198h0M129 1067h0M388 1035h0M151 1073h0M117 1073h0M440 1163h0M435 1023h0M444 1178h0M226 1044h0M95 1046h0M66 1089h0M328 1112h0M237 1032h0M214 1166h0M224 1128h0M220 1051h0M402 1173h0M391 1152h0M233 1070h0M92 1094h0M336 1141h0M221 1102h0M216 1151h0M126 1146h0M207 1109h0M68 1121h0M363 1210h0M93 1128h0M338 1114h0M382 1117h0M429 1047h0M209 1170h0M219 1094h0M193 1059h0M347 1210h0M140 1179h0M137 1029h0M374 1142h0M276 1051h0M193 1143h0M377 1105h0M271 1028h0M194 1190h0M202 1057h0M127 1001h0M165 1055h0M243 1096h0M315 1081h0M392 1013h0M413 1175h0M58 1213h0M152 1023h0M146 1174h0M114 1202h0M120 1199h0M363 1149h0M366 1187h0M328 1119h0M227 1197h0M158 1052h0M249 1013h0M110 1110h0M387 1105h0M317 1188h0M295 1153h0M184 1219h0M338 1140h0M395 1082h0M262 1172h0M226 1094h0M381 1065h0M213 1113h0M254 1218h0M367 1074h0M172 1131h0M364 1009h0M172 1001h0M419 1136h0M366 1203h0M298 1140h0M290 1152h0M318 1102h0M360 1204h0M199 1184h0M276 1058h0M220 1071h0M278 1009h0M375 1129h0M230 1003h0M288 1210h0M242 1092h0M309 1047h0M59 1001h0M339 1054h0M127 1011h0M336 1191h0M86 1140h0M236 1208h0M59 1145h0M85 1070h0M119 1192h0M77 1082h0M227 1151h0M370 1081h0M303 1093h0M365 1211h0M440 1157h0M185 1135h0M383 1134h0M223 1198h0M325 1134h0M157 1094h0M384 1181h0M280 1061h0M373 1153h0M191 1019h0M370 1045h0M423 1052h0M322 1104h0M154 1168h0M236 1020h0M360 1052h0M409 1198h0M242 1132h0M129 1040h0M197 1126h0M449 1084h0M304 1176h0M290 1077h0M61 1008h0M397 1109h0M157 1174h0M429 1171h0M73 1125h0M235 1212h0M78 1134h0M101 1214h0M277 1143h0M319 1088h0M116 1216h0M141 1009h0M193 1202h0M385 1011h0M335 1145h0M75 1032h0M426 1151h0M288 1169h0M182 1057h0M244 1038h0M421 1049h0M397 1199h0M231 1022h0M387 1140h0M188 1184h0M302 1032h0M76 1160h0M110 1195h0M216 1035h0M386 1075h0M248 1071h0M408 1149h0M243 1064h0M133 1081h0M341 1066h0M59 1180h0M109 1000h0M262 1042h0M415 1049h0M108 1040h0M88 1136h0M162 1046h0M334 1181h0M133 1015h0M375 1075h0M414 1107h0M159 1042h0M199 1037h0M289 1001h0M230 1115h0M337 1182h0M180 1159h0M351 1014h0M432 1111h0M437 1050h0M94 1056h0M65 1022h0M130 1004h0M282 1117h0M94 1194h0M71 1028h0M252 1062h0M214 1031h0M395 1033h0M349 1037h0M425 1087h0M386 1117h0M427 1174h0M148 1075h0M443 1180h0M258 1214h0M152 1094h0M108 1217h0M425 1142h0M308 1059h0M162 1121h0M300 1056h0M225 1213h0M174 1145h0M289 1214h0M160 1104h0M112 1028h0M170 1091h0M150 1020h0M386 1136h0M311 1045h0M236 1122h0M239 1069h0M141 1115h0M286 1003h0M395 1053h0M248 1064h0M170 1173h0M80 1195h0M78 1087h0M345 1024h0M434 1165h0M187 1079h0M298 1190h0M259 1165h0M355 1106h0M334 1204h0M399 1001h0M286 1111h0M280 1093h0M399 1136h0M233 1102h0M169 1087h0M206 1072h0M390 1112h0M126 1068h0M418 1072h0M386 1214h0M72 1126h0M418 1173h0M449 1116h0M325 1087h0M289 1078h0M202 1090h0M281 1197h0M246 1098h0M448 1077h0M377 1038h0M441 1185h0M97 1200h0M379 1221h0M220 1035h0M256 1113h0M125 1141h0M193 1222h0M70 1092h0M174 1188h0M318 1044h0M273 1059h0M264 1223h0M216 1027h0M355 1024h0M121 1117h0M58 1172h0M337 1079h0M159 1022h0M284 1078h0M206 1012h0M284 1214h0M423 1191h0M410 1182h0M292 1215h0M430 1054h0M338 1049h0M400 1108h0M150 1039h0M127 1217h0M276 1026h0M102 1185h0M150 1043h0M147 1008h0M189 1035h0M90 1060h0M104 1099h0M373 1036h0M340 1084h0M136 1213h0M143 1101h0M333 1058h0M286 1082h0M294 1048h0M102 1115h0M160 1172h0M314 1127h0M208 1019h0M391 1072h0M96 1126h0M177 1051h0M338 1063h0M414 1173h0M395 1030h0M65 1152h0M193 1092h0M331 1056h0M193 1141h0M99 1204h0M117 1044h0M204 1009h0M306 1040h0M279 1160h0" stroke="#80605a" stroke-width="4" stroke-linecap="round"/>
<path d="M257 1200h0M54 1079h0M287 1046h0M150 1033h0M213 1059h0M309 1099h0M70 1119h0M58 1123h0M254 1143h0M72 1199h0M349 1104h0M145 1009h0M336 1059h0M158 1143h0M156 1053h0M402 1073h0M317 1219h0M227 1162h0M84 1204h0M190 1032h0M330 1165h0M378 1199h0M96 1046h0M305 1184h0M354 1046h0M165 1160h0M391 1138h0M191 1157h0M378 1038h0M55 1110h0M191 1186h0M331 1111h0M330 1176h0M406 1019h0M411 1112h0M264 1169h0M115 1188h0M360 1129h0M129 1067h0M151 1073h0M440 1163h0M444 1178h0M95 1046h0M328 1112h0M214 1166h0M220 1051h0M391 1152h0M92 1094h0M221 1102h0M126 1146h0M68 1121h0M93 1128h0M382 1117h0M209 1170h0M162 1089h0M193 1059h0M140 1179h0M374 1142h0M193 1143h0M271 1028h0M202 1057h0M165 1055h0M315 1081h0M413 1175h0M58 1213h0M146 1174h0M120 1199h0M366 1187h0M227 1197h0M249 1013h0M267 1193h0M317 1188h0M306 1142h0M184 1219h0M338 1140h0M262 1172h0M381 1065h0M254 1218h0M172 1131h0M405 1122h0M419 1136h0M298 1140h0M318 1102h0M360 1204h0M276 1058h0M308 1209h0M375 1129h0M288 1210h0M309 1047h0M101 1216h0M339 1054h0M336 1191h0M236 1208h0M59 1145h0M119 1192h0M227 1151h0M303 1093h0M278 1065h0M185 1135h0M223 1198h0M374 1063h0M377 1198h0M280 1061h0M191 1019h0M423 1052h0M154 1168h0M360 1052h0M242 1132h0M197 1126h0M449 1084h0M290 1077h0M397 1109h0M429 1171h0M133 1040h0M235 1212h0M101 1214h0M319 1088h0M141 1009h0M385 1011h0M75 1032h0M288 1169h0M244 1038h0M338 1044h0M397 1199h0M387 1140h0M302 1032h0M110 1195h0M386 1075h0M98 1219h0M243 1064h0M449 1207h0M341 1066h0M109 1000h0M415 1049h0M336 1044h0M162 1046h0M133 1015h0M375 1075h0M414 1107h0M199 1037h0M230 1115h0M180 1159h0M432 1111h0M437 1050h0M65 1022h0M282 1117h0M71 1028h0M214 1031h0M349 1037h0M386 1117h0M148 1075h0M377 1189h0M152 1094h0M225 1113h0M425 1142h0M308 1059h0M300 1056h0M174 1145h0M160 1104h0M170 1091h0M386 1136h0M236 1122h0M141 1115h0M395 1053h0M170 1173h0M78 1087h0M434 1165h0M298 1190h0M355 1106h0M399 1001h0M280 1093h0M233 1102h0M206 1072h0M126 1068h0M418 1072h0M222 1204h0M418 1173h0M325 1087h0M322 1117h0M281 1197h0M448 1077h0M441 1185h0M379 1221h0M256 1113h0M193 1222h0M175 1154h0M318 1044h0M264 1223h0M355 1024h0M296 1180h0M337 1079h0M284 1078h0M284 1214h0M423 1191h0M292 1215h0M338 1049h0M150 1039h0M276 1026h0M102 1185h0M147 1008h0M90 1060h0M373 1036h0M136 1213h0M333 1058h0M294 1048h0M160 1172h0M208 1019h0M96 1126h0M177 1051h0M414 1173h0M65 1152h0M331 1056h0M99 1204h0M117 1044h0M306 1040h0" stroke="#a8887a" stroke-width="2" stroke-linecap="round" opacity="0.6"/>
<rect x="412" y="1203" width="40" height="22" fill="#eef2f8"/>
<rect x="56.4" y="1212.9" width="56.1" height="3.6" fill="#111"/>
<text x="56.4" y="1221.7" font-size="4" fill="#333">0  20  40  60  80  100 µm</text>
</g>
<g clip-path="url(#ih2)"><rect x="492" y="1000" width="395" height="223.5" fill="#eef1f5"/>
<rect x="492" y="1000" width="395" height="223.5" fill="url(#pt2)"/>
<rect x="492" y="1000" width="395" height="223.5" fill="url(#spC)" opacity="0.45"/>
<path d="M777 1010h0M537 1207h0M593 1043h0M823 1130h0M565 1124h0M763 1085h0M838 1120h0M811 1212h0M627 1034h0M837 1179h0M564 1183h0M647 1106h0M733 1017h0M577 1200h0M509 1038h0M677 1129h0M632 1001h0M624 1005h0M882 1010h0M757 1061h0M690 1059h0M837 1173h0M743 1081h0M784 1114h0M630 1123h0M516 1075h0M882 1108h0M588 1052h0M671 1100h0M611 1038h0M611 1069h0M710 1210h0M856 1130h0M633 1173h0M835 1015h0M847 1062h0M501 1037h0M770 1049h0M748 1044h0M872 1134h0M812 1196h0M546 1042h0M576 1073h0M748 1091h0M625 1013h0M510 1140h0M687 1134h0M715 1221h0M735 1162h0M529 1035h0M659 1120h0M711 1147h0M623 1166h0M671 1062h0M864 1029h0M635 1221h0M791 1020h0M545 1013h0M636 1033h0M783 1206h0M503 1174h0M880 1112h0M628 1179h0M620 1202h0M782 1015h0M651 1193h0M865 1140h0M592 1059h0M578 1127h0M833 1194h0M789 1184h0M556 1153h0M575 1197h0M800 1193h0M833 1222h0M496 1204h0M783 1022h0M762 1020h0M879 1007h0M805 1154h0M691 1052h0M617 1196h0M685 1030h0M563 1153h0M784 1112h0M841 1163h0M562 1059h0M509 1114h0M712 1081h0M764 1146h0M837 1160h0M645 1086h0M549 1223h0M732 1207h0M733 1084h0M802 1203h0M766 1072h0M585 1141h0M642 1159h0M700 1137h0M619 1141h0M580 1137h0M851 1106h0M698 1107h0M548 1207h0M845 1194h0M541 1034h0M698 1101h0M648 1223h0M792 1033h0M637 1116h0M638 1076h0M499 1045h0M515 1040h0M600 1072h0M821 1020h0M831 1045h0M805 1138h0M509 1099h0M773 1066h0M748 1181h0M568 1217h0M639 1149h0M520 1169h0M791 1006h0M666 1110h0M818 1150h0M651 1009h0M539 1049h0M815 1023h0M790 1126h0M761 1159h0M514 1154h0M836 1033h0M600 1059h0M593 1192h0M694 1094h0M830 1057h0M513 1120h0M675 1109h0M636 1179h0M855 1124h0M616 1119h0M715 1072h0M806 1065h0M809 1132h0M515 1097h0M511 1193h0M714 1179h0M758 1151h0M575 1187h0M855 1046h0M656 1147h0M850 1153h0M514 1155h0M822 1066h0M722 1071h0M553 1204h0M879 1088h0M642 1143h0M708 1021h0M780 1096h0M537 1185h0M700 1065h0M728 1121h0M628 1211h0M512 1074h0M590 1166h0M803 1067h0M713 1021h0M803 1133h0M505 1115h0M747 1029h0M631 1084h0M682 1033h0M839 1026h0M704 1026h0M557 1120h0M637 1044h0M572 1028h0M498 1211h0M804 1127h0M583 1168h0M596 1007h0M525 1129h0M727 1175h0M517 1055h0M880 1009h0M765 1182h0M496 1210h0M653 1020h0M782 1152h0M628 1031h0M886 1177h0M789 1142h0M528 1160h0M556 1216h0M862 1202h0M821 1179h0M702 1211h0M875 1176h0M823 1052h0M673 1053h0M851 1153h0M652 1019h0M822 1076h0M822 1177h0M685 1004h0M813 1094h0M673 1075h0M632 1189h0M607 1020h0M769 1099h0M811 1027h0M508 1184h0M599 1214h0M581 1199h0M845 1088h0M567 1186h0M700 1000h0M591 1079h0M710 1193h0M755 1017h0M667 1214h0M753 1141h0M515 1187h0M844 1163h0M506 1073h0M868 1199h0M724 1129h0M647 1167h0M603 1170h0M748 1180h0M642 1215h0M765 1062h0M629 1031h0M839 1036h0M559 1070h0M872 1042h0M865 1044h0M665 1024h0M670 1187h0M800 1070h0M791 1105h0M757 1168h0M635 1205h0M606 1141h0M597 1054h0M709 1168h0M655 1181h0M648 1210h0M702 1116h0M848 1030h0M518 1092h0M829 1149h0M651 1128h0M785 1183h0M839 1029h0M770 1137h0M600 1048h0M809 1080h0M521 1187h0M493 1141h0M601 1013h0M711 1180h0M819 1025h0M741 1076h0M503 1113h0M517 1141h0M723 1089h0M622 1220h0M681 1030h0M762 1158h0M627 1042h0M604 1043h0M696 1098h0M770 1044h0M777 1161h0M777 1141h0M632 1037h0" stroke="#d6c09a" stroke-width="2" stroke-linecap="round"/>
<path d="M531 1123h0M500 1025h0M826 1088h0M701 1214h0M505 1125h0M806 1195h0M761 1068h0M546 1002h0M563 1130h0M571 1135h0M838 1143h0M675 1003h0M795 1020h0M773 1171h0M614 1173h0M680 1146h0M711 1041h0M715 1092h0M583 1045h0M746 1067h0M623 1109h0M671 1129h0M502 1025h0M855 1160h0M533 1004h0M632 1111h0M630 1048h0M709 1154h0M618 1094h0M570 1026h0M709 1071h0M492 1167h0M694 1132h0M699 1118h0M586 1039h0M674 1143h0M643 1186h0M533 1080h0M669 1107h0M644 1129h0M700 1111h0M675 1103h0M656 1106h0M711 1172h0M723 1223h0M697 1001h0M612 1194h0M861 1099h0M728 1040h0M530 1175h0M824 1034h0M857 1223h0M788 1111h0M529 1108h0M547 1061h0M826 1051h0M505 1134h0M557 1038h0M623 1188h0M836 1112h0M697 1065h0M812 1103h0M579 1074h0M688 1174h0M739 1189h0M786 1030h0M664 1184h0M836 1067h0M647 1175h0M762 1210h0M870 1113h0M865 1102h0M641 1208h0M698 1151h0M689 1081h0M712 1100h0M707 1094h0M719 1185h0M610 1086h0M648 1086h0M597 1046h0M797 1009h0M716 1079h0M613 1144h0M742 1155h0M627 1088h0M630 1042h0M826 1176h0M552 1150h0M690 1201h0M519 1135h0M529 1151h0M717 1049h0M575 1188h0M704 1007h0M725 1051h0M885 1180h0M713 1157h0M787 1212h0M573 1003h0" stroke="#d6c09a" stroke-width="3" stroke-linecap="round"/>
<path d="M777 1010h0M537 1207h0M823 1130h0M565 1124h0M838 1120h0M627 1034h0M564 1183h0M826 1088h0M577 1200h0M677 1129h0M624 1005h0M757 1061h0M701 1214h0M837 1173h0M806 1195h0M784 1114h0M516 1075h0M588 1052h0M671 1100h0M611 1069h0M856 1130h0M633 1173h0M847 1062h0M770 1049h0M748 1044h0M812 1196h0M838 1143h0M748 1091h0M510 1140h0M675 1003h0M735 1162h0M795 1020h0M711 1147h0M773 1171h0M671 1062h0M680 1146h0M791 1020h0M711 1041h0M783 1206h0M880 1112h0M620 1202h0M651 1193h0M865 1140h0M583 1045h0M578 1127h0M789 1184h0M556 1153h0M575 1197h0M833 1222h0M496 1204h0M762 1020h0M879 1007h0M691 1052h0M617 1196h0M563 1153h0M632 1111h0M841 1163h0M509 1114h0M764 1146h0M837 1160h0M645 1086h0M732 1207h0M570 1026h0M766 1072h0M492 1167h0M585 1141h0M700 1137h0M580 1137h0M698 1107h0M699 1118h0M674 1143h0M643 1186h0M533 1080h0M648 1223h0M792 1033h0M638 1076h0M515 1040h0M821 1020h0M805 1138h0M773 1066h0M644 1129h0M639 1149h0M700 1111h0M675 1103h0M666 1110h0M651 1009h0M539 1049h0M790 1126h0M514 1154h0M836 1033h0M600 1059h0M694 1094h0M830 1057h0M675 1109h0M855 1124h0M715 1072h0M809 1132h0M515 1097h0M728 1040h0M758 1151h0M855 1046h0M656 1147h0M514 1155h0M722 1071h0M824 1034h0M642 1143h0M780 1096h0M857 1223h0M788 1111h0M728 1121h0M826 1051h0M628 1211h0M590 1166h0M713 1021h0M505 1115h0M631 1084h0M623 1188h0M839 1026h0M557 1120h0M572 1028h0M498 1211h0M583 1168h0M697 1065h0M727 1175h0M880 1009h0M812 1103h0M653 1020h0M628 1031h0M886 1177h0M789 1142h0M528 1160h0M786 1030h0M821 1179h0M836 1067h0M875 1176h0M673 1053h0M647 1175h0M652 1019h0M822 1177h0M813 1094h0M632 1189h0M769 1099h0M508 1184h0M581 1199h0M870 1113h0M700 1000h0M591 1079h0M641 1208h0M667 1214h0M698 1151h0M515 1187h0M844 1163h0M868 1199h0M647 1167h0M707 1094h0M642 1215h0M719 1185h0M839 1036h0M610 1086h0M865 1044h0M648 1086h0M670 1187h0M791 1105h0M635 1205h0M797 1009h0M597 1054h0M655 1181h0M742 1155h0M627 1088h0M702 1116h0M518 1092h0M651 1128h0M552 1150h0M785 1183h0M770 1137h0M600 1048h0M809 1080h0M493 1141h0M711 1180h0M741 1076h0M575 1188h0M503 1113h0M723 1089h0M885 1180h0M681 1030h0M627 1042h0M696 1098h0M713 1157h0M777 1161h0M777 1141h0" stroke="#e2d2b4" stroke-width="1" stroke-linecap="round" opacity="0.6"/>
<path d="M884 1068h0M824 1030h0M771 1098h0M785 1009h0M878 1179h0M843 1205h0M808 1017h0M495 1167h0M708 1079h0M879 1172h0M517 1015h0M757 1062h0M563 1032h0M717 1050h0M822 1052h0M666 1026h0M674 1163h0M628 1149h0M872 1043h0M779 1061h0M773 1221h0M594 1012h0M807 1179h0M617 1161h0M733 1020h0M798 1024h0M796 1098h0M545 1024h0M833 1128h0M532 1073h0M807 1051h0M823 1207h0M865 1099h0M556 1049h0M549 1038h0M833 1128h0M847 1179h0M631 1165h0M701 1152h0M802 1115h0M661 1209h0M505 1107h0M828 1200h0M708 1070h0M876 1014h0M760 1159h0M616 1127h0" stroke="#5e4240" stroke-width="3" stroke-linecap="round"/>
<path d="M561 1079h0M810 1102h0M534 1034h0M678 1221h0M806 1106h0M543 1024h0M693 1047h0M500 1203h0M865 1219h0M781 1086h0M577 1131h0M496 1186h0M675 1010h0M703 1016h0M739 1198h0M745 1046h0M850 1086h0M726 1028h0M672 1131h0M778 1012h0M650 1150h0M587 1145h0M678 1032h0M729 1014h0M882 1051h0M803 1184h0M511 1054h0M579 1150h0M744 1205h0M553 1004h0M533 1217h0M566 1180h0M694 1024h0M828 1124h0M690 1139h0M707 1065h0M820 1181h0M540 1145h0M661 1025h0M780 1190h0M532 1082h0M793 1033h0M522 1025h0M729 1116h0M653 1137h0M854 1164h0M853 1187h0M504 1152h0M662 1196h0M864 1099h0M592 1067h0M620 1021h0M879 1146h0M793 1187h0M789 1061h0M655 1005h0M842 1206h0M796 1173h0M806 1119h0M818 1070h0M637 1120h0M556 1119h0M705 1210h0M853 1154h0M527 1047h0M850 1003h0M775 1221h0M665 1154h0M787 1168h0M594 1006h0M575 1058h0M746 1132h0M728 1155h0M635 1032h0M687 1217h0M600 1172h0M532 1068h0M764 1099h0M529 1208h0M821 1007h0M581 1191h0M567 1202h0M752 1131h0M880 1086h0M498 1191h0M872 1081h0M547 1176h0M637 1117h0M590 1178h0M642 1171h0M569 1049h0M636 1143h0M836 1011h0M665 1026h0M773 1021h0M681 1039h0M635 1105h0M711 1016h0M786 1126h0M872 1192h0M865 1117h0M559 1193h0M525 1059h0M671 1071h0M754 1081h0M881 1108h0M496 1146h0M502 1105h0M704 1052h0M731 1146h0M809 1211h0M831 1082h0M564 1051h0M848 1018h0M506 1098h0M568 1167h0M863 1090h0M497 1212h0M680 1114h0M686 1222h0M577 1186h0M887 1102h0M872 1072h0M640 1036h0M492 1136h0M671 1126h0M546 1054h0M871 1033h0M698 1130h0M514 1052h0M723 1101h0M843 1148h0M870 1060h0M653 1012h0M533 1004h0M606 1216h0M658 1118h0M811 1146h0M538 1054h0M724 1179h0M847 1127h0M765 1057h0M637 1117h0M521 1166h0M678 1150h0M496 1106h0M772 1145h0M871 1176h0M662 1214h0M654 1215h0M584 1164h0M754 1171h0M580 1048h0M506 1030h0M658 1017h0M864 1129h0M770 1098h0M682 1004h0M556 1083h0M795 1187h0M743 1158h0M570 1171h0M593 1184h0M828 1196h0M570 1003h0M494 1039h0M494 1051h0M537 1209h0M551 1075h0M618 1093h0M556 1020h0M767 1059h0M780 1076h0M566 1208h0M512 1034h0M644 1160h0M724 1043h0M810 1177h0M529 1148h0M547 1043h0M535 1142h0M594 1095h0M778 1007h0M579 1065h0M765 1137h0M573 1070h0M595 1035h0M797 1185h0M871 1178h0M695 1034h0M839 1103h0M539 1113h0M635 1160h0M645 1108h0M756 1050h0M680 1159h0M639 1100h0M861 1138h0M672 1142h0M507 1219h0M543 1104h0M610 1015h0M648 1021h0M512 1064h0M557 1119h0M559 1039h0M660 1076h0M588 1217h0M595 1166h0M849 1106h0M731 1065h0M775 1164h0M568 1214h0M813 1076h0M593 1105h0M551 1191h0M560 1166h0M566 1094h0M794 1136h0M868 1073h0M815 1059h0M640 1079h0M536 1051h0M654 1142h0M790 1055h0M810 1221h0M790 1182h0M751 1085h0M545 1120h0M816 1077h0M827 1196h0M863 1166h0M750 1011h0M708 1102h0M801 1175h0M577 1076h0M519 1166h0M675 1090h0M869 1069h0M845 1105h0M782 1070h0M718 1024h0M820 1116h0M656 1197h0M574 1081h0M871 1156h0M853 1008h0M663 1160h0M528 1117h0M804 1080h0M786 1179h0M841 1222h0M642 1159h0M572 1067h0M781 1042h0M690 1149h0M870 1223h0M806 1041h0M710 1170h0M635 1207h0M501 1112h0M848 1213h0M860 1125h0M741 1180h0M730 1058h0M658 1115h0M528 1001h0M775 1167h0M593 1115h0M730 1202h0M723 1161h0M773 1159h0M520 1178h0M548 1103h0M886 1075h0M589 1044h0M654 1138h0M568 1071h0M565 1107h0M876 1109h0M678 1044h0M769 1216h0M632 1095h0M765 1088h0M828 1163h0M741 1206h0M663 1067h0M754 1164h0M549 1082h0M804 1132h0M626 1211h0M651 1041h0M620 1107h0M636 1200h0M702 1208h0M680 1074h0M733 1176h0M638 1087h0M853 1120h0M623 1184h0M765 1005h0M515 1180h0M582 1013h0M782 1161h0M866 1123h0M527 1207h0M568 1167h0M644 1021h0M790 1133h0M507 1013h0M501 1158h0M536 1036h0M733 1150h0M634 1219h0M646 1057h0M877 1222h0M561 1040h0M666 1177h0M670 1197h0M625 1088h0M831 1204h0M548 1039h0M765 1001h0M807 1093h0M717 1163h0M871 1214h0M735 1071h0M598 1202h0M803 1184h0M764 1071h0M596 1137h0M831 1109h0M857 1019h0M791 1033h0M718 1203h0M799 1023h0M537 1195h0M779 1057h0M748 1022h0M777 1048h0M602 1083h0M865 1223h0M718 1181h0M672 1193h0M867 1106h0M788 1032h0M513 1221h0M784 1029h0M641 1056h0M676 1105h0M780 1077h0M565 1031h0M539 1042h0M625 1037h0M679 1176h0M852 1049h0M734 1217h0M741 1119h0M667 1022h0M810 1152h0M584 1104h0M872 1206h0M762 1124h0M558 1031h0M687 1060h0M711 1170h0M556 1198h0M871 1219h0M722 1216h0M573 1028h0M741 1126h0M763 1081h0M742 1121h0M757 1081h0M611 1217h0M710 1046h0M539 1187h0M762 1207h0M511 1095h0M656 1202h0M818 1003h0M563 1186h0M860 1060h0" stroke="#5e4240" stroke-width="4" stroke-linecap="round"/>
<path d="M884 1068h0M810 1102h0M678 1221h0M543 1024h0M500 1203h0M781 1086h0M577 1131h0M675 1010h0M739 1198h0M850 1086h0M672 1131h0M778 1012h0M587 1145h0M729 1014h0M803 1184h0M878 1179h0M579 1150h0M553 1004h0M566 1180h0M843 1205h0M690 1139h0M707 1065h0M820 1181h0M661 1025h0M780 1190h0M793 1033h0M522 1025h0M653 1137h0M853 1187h0M662 1196h0M592 1067h0M879 1146h0M789 1061h0M842 1206h0M806 1119h0M637 1120h0M705 1210h0M527 1047h0M775 1221h0M787 1168h0M575 1058h0M728 1155h0M635 1032h0M600 1172h0M764 1099h0M821 1007h0M757 1062h0M752 1131h0M880 1086h0M498 1191h0M547 1176h0M590 1178h0M569 1049h0M836 1011h0M665 1026h0M681 1039h0M635 1105h0M786 1126h0M865 1117h0M525 1059h0M671 1071h0M881 1108h0M502 1105h0M731 1146h0M831 1082h0M848 1018h0M568 1167h0M497 1212h0M686 1222h0M887 1102h0M628 1149h0M492 1136h0M546 1054h0M698 1130h0M723 1101h0M870 1060h0M533 1004h0M658 1118h0M538 1054h0M872 1043h0M765 1057h0M521 1166h0M496 1106h0M871 1176h0M654 1215h0M754 1171h0M506 1030h0M864 1129h0M682 1004h0M795 1187h0M570 1171h0M828 1196h0M779 1061h0M494 1051h0M537 1209h0M618 1093h0M556 1020h0M780 1076h0M512 1034h0M807 1179h0M810 1177h0M547 1043h0M594 1095h0M579 1065h0M573 1070h0M797 1185h0M617 1161h0M695 1034h0M539 1113h0M798 1024h0M756 1050h0M639 1100h0M672 1142h0M543 1104h0M796 1098h0M512 1064h0M557 1119h0M660 1076h0M595 1166h0M731 1065h0M568 1214h0M593 1105h0M560 1166h0M833 1128h0M868 1073h0M640 1079h0M654 1142h0M810 1221h0M751 1085h0M816 1077h0M863 1166h0M708 1102h0M577 1076h0M807 1051h0M675 1090h0M845 1105h0M718 1024h0M656 1197h0M871 1156h0M663 1160h0M804 1080h0M841 1222h0M572 1067h0M690 1149h0M806 1041h0M635 1207h0M848 1213h0M741 1180h0M658 1115h0M775 1167h0M730 1202h0M773 1159h0M865 1099h0M548 1103h0M589 1044h0M556 1049h0M565 1107h0M678 1044h0M769 1216h0M765 1088h0M828 1163h0M663 1067h0M549 1082h0M626 1211h0M847 1179h0M636 1200h0M680 1074h0M638 1087h0M623 1184h0M515 1180h0M782 1161h0M527 1207h0M644 1021h0M507 1013h0M536 1036h0M634 1219h0M877 1222h0M631 1165h0M666 1177h0M625 1088h0M548 1039h0M802 1115h0M717 1163h0M735 1071h0M803 1184h0M596 1137h0M857 1019h0M718 1203h0M799 1023h0M779 1057h0M777 1048h0M865 1223h0M672 1193h0M788 1032h0M784 1029h0M505 1107h0M676 1105h0M565 1031h0M625 1037h0M852 1049h0M741 1119h0M810 1152h0M872 1206h0M558 1031h0M711 1170h0M871 1219h0M708 1070h0M741 1126h0M742 1121h0M611 1217h0M710 1046h0M762 1207h0M511 1095h0M656 1202h0M563 1186h0" stroke="#806260" stroke-width="2" stroke-linecap="round" opacity="0.6"/>
<rect x="495.4" y="1212.9" width="56.1" height="3.6" fill="#111"/>
<text x="495.4" y="1221.7" font-size="4" fill="#333">0  20  40  60  80  100 µm</text>
</g>
<g clip-path="url(#ih3)"><rect x="53" y="1247" width="397" height="224.5" fill="#ebf0f7"/>
<rect x="53" y="1247" width="397" height="224.5" fill="url(#pt3)"/>
<path d="M429 1374h0M245 1411h0M328 1308h0M296 1313h0M393 1451h0M292 1362h0M197 1450h0M89 1351h0M54 1268h0M230 1338h0M202 1412h0M107 1385h0M379 1394h0M264 1441h0M410 1323h0M187 1262h0M301 1274h0M365 1349h0M210 1297h0M254 1424h0M139 1345h0M431 1289h0M217 1361h0" stroke="#d8c4a6" stroke-width="2" stroke-linecap="round"/>
<path d="M287 1465h0M259 1355h0M201 1362h0M141 1309h0M253 1341h0M127 1366h0M256 1331h0M232 1327h0M196 1416h0M313 1399h0M372 1298h0M96 1426h0M247 1330h0M390 1442h0M126 1282h0M419 1438h0M391 1447h0M129 1420h0M100 1450h0M211 1381h0M61 1335h0M185 1400h0M128 1252h0M286 1376h0M67 1320h0M137 1317h0M150 1379h0M160 1421h0M445 1259h0M387 1370h0M370 1270h0M199 1344h0M168 1405h0M443 1285h0M136 1444h0M186 1385h0M200 1273h0M264 1321h0M388 1323h0M433 1328h0M117 1396h0M140 1463h0M321 1359h0M131 1286h0M328 1305h0M255 1317h0M106 1356h0M106 1316h0M280 1297h0M439 1410h0M228 1433h0M228 1426h0M421 1429h0M110 1404h0M433 1310h0M383 1303h0M432 1330h0M349 1444h0M136 1325h0M314 1338h0M114 1453h0M90 1309h0M245 1332h0M272 1382h0M103 1421h0M396 1424h0M377 1345h0M141 1442h0" stroke="#d8c4a6" stroke-width="3" stroke-linecap="round"/>
<path d="M359 1405h0M258 1303h0M213 1406h0M135 1299h0M196 1254h0M261 1397h0M246 1407h0M220 1318h0M57 1330h0M445 1301h0M68 1426h0M143 1387h0M352 1346h0M249 1330h0M166 1266h0M367 1350h0M270 1385h0M383 1374h0M198 1348h0M296 1254h0M389 1287h0M260 1251h0M169 1310h0M412 1442h0M143 1268h0M272 1384h0M252 1253h0M340 1326h0M370 1304h0" stroke="#d8c4a6" stroke-width="4" stroke-linecap="round"/>
<path d="M259 1355h0M127 1366h0M232 1327h0M328 1308h0M419 1438h0M129 1420h0M211 1381h0M393 1451h0M137 1317h0M445 1259h0M387 1370h0M54 1268h0M388 1323h0M107 1385h0M379 1394h0M439 1410h0M264 1441h0M187 1262h0M228 1426h0M110 1404h0M210 1297h0M114 1453h0M103 1421h0M217 1361h0" stroke="#e8dac8" stroke-width="1" stroke-linecap="round" opacity="0.6"/>
<path d="M287 1465h0M141 1309h0M258 1303h0M213 1406h0M135 1299h0M261 1397h0M96 1426h0M246 1407h0M220 1318h0M57 1330h0M128 1252h0M67 1320h0M445 1301h0M68 1426h0M352 1346h0M168 1405h0M249 1330h0M186 1385h0M200 1273h0M117 1396h0M367 1350h0M140 1463h0M131 1286h0M106 1356h0M270 1385h0M383 1374h0M260 1251h0M169 1310h0M143 1268h0M433 1310h0M252 1253h0M136 1325h0M340 1326h0M245 1332h0M370 1304h0M377 1345h0" stroke="#e8dac8" stroke-width="2" stroke-linecap="round" opacity="0.6"/>
<path d="M60 1456h0M175 1410h0M399 1258h0M86 1304h0M247 1303h0M340 1273h0M56 1321h0M236 1376h0M274 1441h0M388 1353h0M104 1397h0M80 1457h0M340 1330h0M102 1364h0M353 1310h0M78 1454h0M173 1408h0M59 1281h0M85 1267h0M218 1304h0M290 1441h0M127 1345h0M286 1314h0M250 1298h0M446 1459h0M376 1384h0M91 1395h0M319 1285h0M390 1315h0M144 1304h0M253 1302h0M114 1368h0M407 1276h0M363 1379h0M294 1471h0M186 1250h0M286 1377h0M248 1338h0M445 1417h0M402 1396h0M77 1424h0M310 1427h0" stroke="#86604a" stroke-width="7" stroke-linecap="round"/>
<path d="M112 1288h0M128 1354h0M68 1419h0M280 1393h0M244 1262h0M327 1281h0M136 1255h0M216 1456h0M256 1346h0M358 1434h0M215 1395h0M58 1388h0M172 1407h0M134 1391h0M314 1252h0M182 1381h0M367 1316h0M374 1273h0M210 1360h0M437 1333h0M144 1464h0M310 1434h0M134 1346h0M163 1281h0M148 1373h0M173 1379h0M202 1275h0M386 1258h0M92 1459h0M78 1403h0M339 1309h0M255 1360h0M123 1305h0M130 1351h0M242 1393h0M208 1342h0M329 1413h0M213 1375h0M362 1470h0M386 1301h0M242 1317h0M278 1295h0M94 1282h0M142 1437h0M210 1250h0M93 1406h0M211 1290h0M281 1422h0M200 1270h0M333 1456h0M230 1351h0M179 1272h0M374 1303h0M122 1264h0M60 1355h0M174 1357h0M309 1360h0M205 1306h0M79 1369h0M343 1427h0M151 1377h0M170 1418h0M278 1452h0M447 1254h0M300 1354h0" stroke="#86604a" stroke-width="8" stroke-linecap="round"/>
<path d="M228 1360h0M267 1296h0M344 1270h0M236 1330h0M330 1422h0M177 1263h0M124 1338h0M199 1445h0M70 1348h0M222 1458h0M66 1347h0M259 1278h0M308 1266h0M201 1340h0M162 1467h0M449 1392h0M275 1265h0M70 1290h0M128 1460h0M337 1458h0M402 1307h0M370 1436h0M204 1250h0M202 1247h0M438 1331h0M405 1275h0M61 1407h0M329 1370h0M291 1454h0M278 1320h0M316 1457h0M249 1322h0M449 1347h0M304 1286h0M432 1340h0M75 1342h0M330 1464h0M99 1382h0M418 1432h0M185 1369h0M272 1410h0M265 1405h0M59 1319h0" stroke="#86604a" stroke-width="9" stroke-linecap="round"/>
<path d="M86 1304h0M274 1441h0M144 1304h0M286 1377h0M445 1417h0M77 1424h0" stroke="#ae8a6e" stroke-width="3" stroke-linecap="round" opacity="0.6"/>
<path d="M112 1288h0M228 1360h0M68 1419h0M175 1410h0M244 1262h0M344 1270h0M236 1330h0M56 1321h0M136 1255h0M177 1263h0M358 1434h0M215 1395h0M58 1388h0M172 1407h0M314 1252h0M104 1397h0M374 1273h0M340 1330h0M102 1364h0M144 1464h0M353 1310h0M134 1346h0M222 1458h0M66 1347h0M78 1454h0M202 1275h0M85 1267h0M218 1304h0M92 1459h0M78 1403h0M127 1345h0M308 1266h0M255 1360h0M162 1467h0M376 1384h0M275 1265h0M130 1351h0M242 1393h0M208 1342h0M213 1375h0M362 1470h0M337 1458h0M242 1317h0M319 1285h0M94 1282h0M390 1315h0M204 1250h0M253 1302h0M405 1275h0M329 1370h0M211 1290h0M291 1454h0M200 1270h0M316 1457h0M179 1272h0M407 1276h0M449 1347h0M122 1264h0M432 1340h0M174 1357h0M294 1471h0M75 1342h0M79 1369h0M343 1427h0M418 1432h0M170 1418h0M278 1452h0M272 1410h0M265 1405h0" stroke="#ae8a6e" stroke-width="4" stroke-linecap="round" opacity="0.6"/>
<path d="M109.6 1291.7L116.5 1265.2L122.8 1277.9L135.7 1283.7Z" fill="#b8212a"/>
<path d="M189.9 1367.8L173.2 1346L172.6 1360L163.4 1370Z" fill="#b8212a"/>
<path d="M407.4 1321.6L386.5 1339.8L400.8 1339.8L411.7 1349Z" fill="#b8212a"/>
<path d="M354.1 1427L374.6 1446L360.3 1448.4L349.2 1461.5Z" fill="#b8212a"/>
<rect x="56" y="1458.2" width="55" height="3.6" fill="#111"/>
<text x="56" y="1467" font-size="4" fill="#333">0  20  40  60  80  100 µm</text>
</g>
<g clip-path="url(#ih4)"><rect x="492" y="1247" width="395" height="224.5" fill="#eef1f5"/>
<rect x="492" y="1247" width="395" height="224.5" fill="url(#pt4)"/>
<rect x="492" y="1247" width="395" height="224.5" fill="url(#spC)" opacity="0.9"/>
<path d="M579 1331h0M742 1329h0M669 1468h0M631 1341h0M660 1303h0M714 1293h0M816 1315h0M711 1394h0M509 1356h0M783 1387h0M668 1299h0M727 1394h0M532 1322h0M825 1250h0M610 1409h0M496 1444h0M506 1420h0M678 1247h0M780 1291h0M627 1269h0M780 1377h0M550 1269h0M767 1373h0M867 1462h0M622 1319h0M662 1449h0M822 1316h0M847 1308h0M538 1329h0M798 1410h0M680 1321h0M842 1384h0M858 1446h0M660 1468h0M773 1256h0M561 1425h0M738 1440h0M860 1323h0M531 1462h0M802 1409h0M509 1457h0M611 1369h0M866 1462h0M498 1454h0M727 1430h0M504 1454h0M784 1294h0M493 1341h0M824 1411h0M544 1444h0M577 1251h0M616 1275h0M798 1285h0M539 1294h0M718 1276h0M635 1335h0M639 1465h0M499 1409h0M669 1380h0M822 1301h0M833 1440h0M673 1280h0M860 1385h0M724 1342h0M859 1411h0M564 1409h0M865 1461h0M731 1272h0M738 1390h0M848 1363h0M554 1306h0M851 1284h0M544 1295h0M648 1418h0M761 1333h0M545 1446h0M574 1287h0M761 1369h0M773 1344h0M709 1320h0M607 1310h0M842 1394h0M510 1284h0M790 1324h0M538 1394h0M843 1314h0M746 1400h0M509 1384h0M752 1362h0M837 1272h0M499 1318h0M730 1423h0M618 1277h0M651 1275h0M710 1371h0M808 1267h0M718 1273h0M530 1443h0M653 1368h0M840 1318h0M793 1403h0M674 1429h0M711 1328h0M842 1427h0M711 1368h0M860 1259h0M586 1422h0M702 1420h0M649 1355h0M685 1438h0M510 1275h0M717 1319h0M823 1372h0M614 1382h0M818 1264h0M629 1275h0M580 1297h0M675 1311h0M676 1385h0M814 1357h0M536 1248h0M630 1381h0M622 1316h0M881 1457h0M870 1304h0M866 1444h0M816 1251h0M865 1304h0M520 1403h0M571 1440h0M704 1376h0M856 1346h0M655 1380h0M832 1445h0M636 1251h0M535 1297h0M881 1320h0M680 1283h0M671 1453h0M787 1397h0M733 1342h0M885 1372h0M647 1458h0M750 1442h0M628 1468h0M493 1263h0M655 1463h0M737 1369h0M800 1248h0M646 1365h0M758 1389h0M500 1323h0M814 1248h0M804 1425h0M820 1363h0M831 1274h0M493 1468h0M581 1320h0M882 1261h0M770 1446h0M653 1374h0M530 1317h0M818 1386h0M715 1336h0M860 1286h0M693 1260h0M802 1329h0M879 1425h0M494 1305h0M573 1248h0M588 1320h0M634 1320h0M714 1273h0M737 1332h0M560 1325h0M643 1457h0M719 1398h0M565 1278h0M829 1416h0M703 1285h0M550 1264h0M842 1394h0M626 1459h0M875 1418h0M717 1346h0M688 1458h0M702 1316h0M683 1263h0M701 1334h0M603 1326h0M494 1277h0M638 1337h0M819 1322h0M518 1414h0M879 1273h0M806 1264h0M538 1447h0M681 1305h0M688 1258h0M512 1443h0M856 1468h0M645 1348h0M786 1450h0M696 1423h0M602 1468h0M659 1455h0M839 1298h0M526 1264h0M531 1377h0M540 1271h0M875 1441h0M885 1381h0M739 1440h0M496 1465h0M596 1442h0M523 1271h0M807 1370h0M873 1377h0M715 1439h0M500 1361h0M741 1312h0M693 1367h0M794 1359h0M863 1303h0M760 1323h0M762 1283h0M533 1296h0M677 1363h0M493 1326h0M858 1418h0M750 1359h0M812 1324h0M834 1405h0M736 1444h0M720 1288h0M551 1351h0M524 1405h0M772 1350h0M658 1407h0M598 1420h0" stroke="#c9b084" stroke-width="2" stroke-linecap="round"/>
<path d="M720 1447h0M519 1363h0M863 1380h0M555 1325h0M843 1300h0M666 1368h0M509 1262h0M764 1332h0M564 1430h0M775 1325h0M758 1367h0M835 1423h0M611 1299h0M792 1376h0M707 1334h0M616 1294h0M709 1417h0M755 1419h0M667 1412h0M573 1367h0M781 1273h0M695 1308h0M863 1311h0M563 1303h0M668 1315h0M855 1425h0M769 1300h0M822 1326h0M755 1290h0M539 1280h0M578 1419h0M844 1292h0M864 1273h0M798 1415h0M762 1339h0M809 1353h0M685 1265h0M770 1410h0M847 1396h0M544 1340h0M767 1358h0M549 1362h0M597 1301h0M748 1375h0M506 1454h0M839 1404h0M792 1315h0M573 1372h0M778 1414h0M800 1363h0M856 1393h0M725 1358h0M658 1344h0M586 1250h0M863 1311h0M620 1260h0M768 1426h0M645 1299h0M727 1468h0M781 1262h0M755 1353h0M582 1324h0M620 1346h0M505 1275h0M560 1316h0M723 1309h0M680 1336h0M849 1343h0M591 1467h0M768 1350h0M595 1295h0M804 1424h0M701 1432h0M880 1304h0M566 1345h0M590 1284h0M587 1362h0M711 1410h0M677 1256h0M608 1438h0M535 1401h0M653 1282h0M861 1441h0M794 1367h0M771 1426h0M628 1281h0M619 1362h0M841 1326h0M651 1440h0M507 1429h0M712 1267h0M533 1278h0M745 1428h0M700 1449h0M871 1423h0M612 1411h0M807 1329h0M762 1348h0M495 1448h0M625 1407h0M639 1470h0M669 1265h0M877 1462h0M600 1260h0M611 1398h0M728 1314h0M764 1407h0M832 1444h0M825 1323h0M873 1379h0M517 1369h0M639 1471h0M866 1306h0M634 1377h0M722 1300h0M750 1268h0M808 1350h0M875 1455h0M780 1397h0M654 1372h0M493 1268h0M544 1304h0M494 1416h0M575 1264h0M769 1320h0M565 1270h0M543 1384h0M679 1353h0M675 1370h0M580 1389h0M613 1354h0M741 1456h0M662 1253h0M742 1292h0M619 1445h0M506 1314h0M811 1271h0M665 1469h0M855 1412h0M548 1255h0M598 1454h0M519 1467h0M536 1410h0M497 1268h0M797 1427h0M882 1421h0M873 1265h0M543 1471h0M769 1364h0M625 1340h0M827 1413h0M511 1408h0M735 1293h0M551 1441h0M705 1355h0M720 1390h0M536 1297h0M544 1251h0M823 1413h0M493 1299h0M673 1293h0M844 1274h0M736 1398h0M498 1435h0M850 1264h0M832 1431h0M643 1269h0M745 1390h0M579 1380h0M503 1268h0M729 1265h0M587 1379h0M659 1368h0M882 1420h0M801 1297h0M685 1343h0M808 1306h0M633 1253h0M667 1325h0M785 1358h0M873 1346h0M873 1391h0M870 1367h0M746 1311h0M638 1309h0M580 1308h0M801 1407h0M814 1353h0M837 1376h0M552 1355h0M535 1306h0M778 1361h0M832 1461h0M587 1278h0M722 1350h0M548 1408h0M614 1434h0M692 1464h0M670 1271h0M733 1268h0M876 1327h0M506 1363h0M621 1433h0M805 1418h0M577 1276h0M805 1448h0M732 1248h0M734 1420h0M537 1297h0M744 1288h0M619 1353h0M729 1431h0M592 1435h0M741 1253h0M803 1400h0M504 1391h0M857 1371h0M675 1457h0M738 1361h0M504 1404h0M670 1435h0M509 1275h0M707 1284h0M857 1441h0M811 1267h0M751 1392h0M795 1264h0M706 1457h0M881 1368h0M687 1320h0M554 1356h0M526 1356h0" stroke="#c9b084" stroke-width="3" stroke-linecap="round"/>
<path d="M781 1267h0M687 1347h0M714 1290h0M881 1332h0M870 1324h0M760 1342h0M508 1278h0M886 1270h0M694 1362h0M818 1428h0M662 1301h0M571 1428h0M600 1266h0M525 1291h0M810 1366h0M881 1434h0M599 1413h0M549 1265h0M601 1363h0M586 1379h0M590 1402h0M775 1390h0M778 1469h0M499 1373h0M596 1390h0M664 1377h0M517 1372h0M518 1308h0" stroke="#c9b084" stroke-width="4" stroke-linecap="round"/>
<path d="M519 1363h0M631 1341h0M660 1303h0M714 1293h0M509 1262h0M816 1315h0M509 1356h0M668 1299h0M532 1322h0M610 1409h0M709 1417h0M678 1247h0M667 1412h0M780 1291h0M780 1377h0M550 1269h0M867 1462h0M662 1449h0M847 1308h0M563 1303h0M798 1410h0M680 1321h0M858 1446h0M822 1326h0M660 1468h0M539 1280h0M738 1440h0M860 1323h0M844 1292h0M798 1415h0M802 1409h0M509 1457h0M611 1369h0M770 1410h0M727 1430h0M847 1396h0M493 1341h0M824 1411h0M597 1301h0M616 1275h0M573 1372h0M778 1414h0M856 1393h0M718 1276h0M635 1335h0M499 1409h0M768 1426h0M833 1440h0M673 1280h0M724 1342h0M582 1324h0M564 1409h0M731 1272h0M505 1275h0M848 1363h0M554 1306h0M544 1295h0M591 1467h0M545 1446h0M574 1287h0M773 1344h0M709 1320h0M804 1424h0M510 1284h0M843 1314h0M746 1400h0M509 1384h0M590 1284h0M837 1272h0M499 1318h0M608 1438h0M653 1282h0M651 1275h0M808 1267h0M530 1443h0M793 1403h0M674 1429h0M841 1326h0M711 1328h0M711 1368h0M533 1278h0M860 1259h0M702 1420h0M649 1355h0M612 1411h0M762 1348h0M510 1275h0M614 1382h0M818 1264h0M600 1260h0M675 1311h0M630 1381h0M622 1316h0M639 1471h0M866 1306h0M866 1444h0M865 1304h0M875 1455h0M571 1440h0M856 1346h0M832 1445h0M636 1251h0M575 1264h0M881 1320h0M671 1453h0M733 1342h0M885 1372h0M750 1442h0M493 1263h0M737 1369h0M619 1445h0M598 1454h0M831 1274h0M797 1427h0M882 1261h0M770 1446h0M653 1374h0M818 1386h0M551 1441h0M693 1260h0M720 1390h0M879 1425h0M544 1251h0M573 1248h0M634 1320h0M844 1274h0M736 1398h0M560 1325h0M643 1457h0M745 1390h0M703 1285h0M842 1394h0M503 1268h0M587 1379h0M717 1346h0M808 1306h0M633 1253h0M683 1263h0M701 1334h0M603 1326h0M494 1277h0M873 1346h0M819 1322h0M518 1414h0M879 1273h0M688 1258h0M552 1355h0M778 1361h0M512 1443h0M722 1350h0M645 1348h0M696 1423h0M839 1298h0M531 1377h0M540 1271h0M875 1441h0M885 1381h0M739 1440h0M596 1442h0M732 1248h0M537 1297h0M807 1370h0M715 1439h0M744 1288h0M500 1361h0M741 1312h0M794 1359h0M863 1303h0M760 1323h0M803 1400h0M504 1391h0M677 1363h0M493 1326h0M858 1418h0M750 1359h0M857 1441h0M812 1324h0M720 1288h0M706 1457h0M772 1350h0M554 1356h0M598 1420h0" stroke="#ddd0b0" stroke-width="1" stroke-linecap="round" opacity="0.6"/>
<path d="M781 1267h0M720 1447h0M843 1300h0M775 1325h0M714 1290h0M835 1423h0M881 1332h0M707 1334h0M863 1311h0M760 1342h0M508 1278h0M549 1362h0M694 1362h0M839 1404h0M818 1428h0M586 1250h0M620 1260h0M755 1353h0M680 1336h0M662 1301h0M880 1304h0M711 1410h0M794 1367h0M771 1426h0M525 1291h0M495 1448h0M625 1407h0M669 1265h0M881 1434h0M728 1314h0M832 1444h0M599 1413h0M517 1369h0M750 1268h0M549 1265h0M780 1397h0M493 1268h0M769 1320h0M543 1384h0M590 1402h0M613 1354h0M742 1292h0M811 1271h0M665 1469h0M548 1255h0M519 1467h0M536 1410h0M497 1268h0M873 1265h0M769 1364h0M511 1408h0M493 1299h0M498 1435h0M643 1269h0M659 1368h0M775 1390h0M685 1343h0M638 1309h0M801 1407h0M814 1353h0M614 1434h0M692 1464h0M733 1268h0M876 1327h0M509 1275h0M517 1372h0M751 1392h0M881 1368h0" stroke="#ddd0b0" stroke-width="2" stroke-linecap="round" opacity="0.6"/>
<path d="M501 1326h0M554 1439h0M703 1359h0M580 1397h0M601 1362h0M601 1456h0M826 1439h0M835 1448h0M751 1264h0M562 1323h0M831 1422h0M885 1260h0M674 1462h0M700 1354h0M546 1446h0M749 1280h0M603 1461h0M636 1455h0M661 1266h0M550 1288h0M584 1302h0M592 1294h0M823 1253h0M550 1370h0M601 1434h0M748 1372h0M815 1293h0M613 1427h0M742 1254h0M772 1359h0M629 1311h0M730 1371h0M505 1412h0M715 1251h0M522 1377h0M875 1460h0M837 1254h0M527 1445h0M840 1441h0M831 1289h0M574 1261h0M527 1370h0M732 1288h0M770 1429h0M507 1461h0M506 1418h0M789 1249h0M873 1436h0" stroke="#644644" stroke-width="7" stroke-linecap="round"/>
<path d="M799 1258h0M737 1355h0M698 1288h0M716 1362h0M687 1333h0M885 1451h0M810 1393h0M785 1307h0M706 1417h0M593 1339h0M522 1444h0M520 1327h0M634 1264h0M870 1418h0M868 1392h0M660 1384h0M495 1422h0M847 1329h0M876 1291h0M516 1373h0M775 1370h0M811 1388h0M703 1389h0M550 1361h0M659 1417h0M657 1337h0M544 1370h0M777 1256h0M663 1318h0M603 1397h0M772 1312h0M712 1408h0M549 1400h0M591 1429h0M661 1383h0M666 1268h0M866 1331h0M639 1331h0M877 1443h0M737 1345h0M540 1442h0M838 1313h0M524 1356h0M679 1458h0M712 1341h0M509 1445h0M861 1436h0M557 1394h0M883 1395h0M497 1462h0M831 1256h0M680 1296h0M769 1286h0M609 1400h0M845 1432h0M817 1399h0M809 1349h0M806 1394h0M676 1269h0M545 1416h0M654 1381h0M867 1361h0M674 1339h0M793 1369h0M531 1268h0M788 1428h0M695 1410h0M611 1442h0M658 1297h0M771 1328h0M552 1438h0M509 1308h0M668 1299h0M537 1364h0M657 1310h0M837 1373h0M794 1309h0M640 1353h0M755 1285h0M556 1317h0M633 1266h0M629 1413h0" stroke="#644644" stroke-width="8" stroke-linecap="round"/>
<path d="M543 1317h0M685 1369h0M862 1449h0M554 1418h0M818 1424h0M621 1264h0M634 1334h0M663 1260h0M753 1324h0M527 1421h0M763 1361h0M872 1443h0M736 1407h0M729 1306h0M536 1402h0M687 1250h0M606 1370h0M561 1316h0M786 1385h0M881 1329h0" stroke="#644644" stroke-width="9" stroke-linecap="round"/>
<path d="M501 1326h0M601 1456h0M751 1264h0M885 1260h0M546 1446h0M715 1251h0M837 1254h0M770 1429h0" stroke="#8a6a62" stroke-width="3" stroke-linecap="round" opacity="0.6"/>
<path d="M799 1258h0M698 1288h0M716 1362h0M554 1439h0M785 1307h0M593 1339h0M685 1369h0M703 1359h0M862 1449h0M634 1264h0M868 1392h0M835 1448h0M876 1291h0M554 1418h0M775 1370h0M562 1323h0M634 1334h0M674 1462h0M550 1361h0M659 1417h0M603 1461h0M777 1256h0M663 1318h0M772 1312h0M661 1266h0M753 1324h0M549 1400h0M661 1383h0M866 1331h0M639 1331h0M763 1361h0M823 1253h0M737 1345h0M540 1442h0M601 1434h0M524 1356h0M613 1427h0M772 1359h0M712 1341h0M629 1311h0M730 1371h0M883 1395h0M831 1256h0M522 1377h0M736 1407h0M845 1432h0M875 1460h0M809 1349h0M527 1445h0M654 1381h0M674 1339h0M793 1369h0M840 1441h0M831 1289h0M611 1442h0M771 1328h0M606 1370h0M552 1438h0M561 1316h0M537 1364h0M786 1385h0M837 1373h0M640 1353h0M556 1317h0M507 1461h0M789 1249h0M629 1413h0" stroke="#8a6a62" stroke-width="4" stroke-linecap="round" opacity="0.6"/>
<path d="M662.2 1289.1L654.3 1264.5L666.7 1271.9L681.3 1270.6Z" fill="#b8212a"/>
<path d="M837.6 1305.8L844.7 1280.4L850.9 1292.4L863.8 1297.8Z" fill="#b8212a"/>
<path d="M655.9 1367.7L663.8 1341.5L669.8 1353.7L682.8 1359Z" fill="#b8212a"/>
<path d="M725.7 1435.1L703.5 1416.9L718.4 1417.4L729.7 1409Z" fill="#b8212a"/>
<rect x="495" y="1458.2" width="55" height="3.6" fill="#111"/>
<text x="495" y="1467" font-size="4" fill="#333">0  20  40  60  80  100 µm</text>
</g>
<path d="M103.4 1045.5H78.4V1070.5M265.3 1045.5H290.3V1070.5M103.4 1160.6H78.4V1135.6M265.3 1160.6H290.3V1135.6M158.4 1045.5H210.4M158.4 1160.6H210.4" fill="none" stroke="#4f8ba3" stroke-width="4.2"/>
<path d="M542.4 1045.5H517.4V1070.5M704.3 1045.5H729.3V1070.5M542.4 1160.6H517.4V1135.6M704.3 1160.6H729.3V1135.6M597.3 1045.5H649.3M597.3 1160.6H649.3" fill="none" stroke="#4f8ba3" stroke-width="4.2"/>
<path d="M78.4 1160.6L53 1247" stroke="#4f8ba3" stroke-width="4.2" fill="none" stroke-dasharray="41.5 41"/>
<path d="M290.3 1160.6L450 1247" stroke="#4f8ba3" stroke-width="4.2" fill="none" stroke-dasharray="41.5 41"/>
<path d="M517.4 1160.6L492 1247" stroke="#4f8ba3" stroke-width="4.2" fill="none" stroke-dasharray="41.5 41"/>
<path d="M729.3 1160.6L889 1247" stroke="#4f8ba3" stroke-width="4.2" fill="none" stroke-dasharray="41.5 41"/>
<text transform="translate(1052 982) scale(1 1.07)" stroke="#141414" stroke-width="0.7">Low Cp expression</text>
<text transform="translate(1762 982) scale(1 1.07)" stroke="#141414" stroke-width="0.7">High Cp expression</text>
<text transform="translate(1060 1127) scale(1 1.07)" text-anchor="end" stroke="#141414" stroke-width="0.7">Cp</text>
<text transform="translate(1060 1409) scale(1 1.07)" text-anchor="end" stroke="#141414" stroke-width="0.7">TIAR</text>
<text transform="translate(1060 1270) scale(1 1.07)" text-anchor="end" font-size="32" stroke="#141414" stroke-width="0.7">Cp AOD</text>
<text transform="translate(1222 1270) scale(1 1.07)" text-anchor="middle" font-size="32" stroke="#141414" stroke-width="0.7">34.49</text>
<text transform="translate(1943 1270) scale(1 1.07)" text-anchor="middle" font-size="32" stroke="#141414" stroke-width="0.7">113.07</text>
<text transform="translate(1060 1537.6) scale(1 1.07)" text-anchor="end" font-size="32.5" stroke="#141414" stroke-width="0.7">TIAR AOD</text>
<text transform="translate(1062 1584) scale(1 1.07)" text-anchor="end" font-size="32.5" stroke="#141414" stroke-width="0.7">Cytoplasmic TIAR AOD</text>
<text transform="translate(1062 1631) scale(1 1.07)" text-anchor="end" font-size="32.5" stroke="#141414" stroke-width="0.7">Nuclear TIAR AOD</text>
<text transform="translate(1221 1537.6) scale(1 1.07)" text-anchor="middle" font-size="32.5" stroke="#141414" stroke-width="0.7">40.73</text>
<text transform="translate(1943 1537.6) scale(1 1.07)" text-anchor="middle" font-size="32.5" stroke="#141414" stroke-width="0.7">69.81</text>
<text transform="translate(1221 1584) scale(1 1.07)" text-anchor="middle" font-size="32.5" stroke="#141414" stroke-width="0.7">24.58</text>
<text transform="translate(1943 1584) scale(1 1.07)" text-anchor="middle" font-size="32.5" stroke="#141414" stroke-width="0.7">47.60</text>
<text transform="translate(1221 1631) scale(1 1.07)" text-anchor="middle" font-size="32.5" stroke="#141414" stroke-width="0.7">16.31</text>
<text transform="translate(1943 1631) scale(1 1.07)" text-anchor="middle" font-size="32.5" stroke="#141414" stroke-width="0.7">22.54</text>
<g clip-path="url(#ih5)"><rect x="1069.6" y="1003" width="303.4" height="223" fill="#f2eee9"/>
<rect x="1069.6" y="1003" width="303.4" height="223" fill="url(#spT)" opacity="0.6"/>
<path d="M1128 1076a50 35 0 1 0 100 0a50 35 0 1 0 -100 0M1127 1140a35 30 0 1 0 70 0a35 30 0 1 0 -70 0M1198 1187a34 36 0 1 0 68 0a34 36 0 1 0 -68 0M1217 1111a22 18 0 1 0 44 0a22 18 0 1 0 -44 0M1287 1032a44 28 0 1 0 88 0a44 28 0 1 0 -88 0M1314 1089a30 24 0 1 0 60 0a30 24 0 1 0 -60 0M1255 1152a30 26 0 1 0 60 0a30 26 0 1 0 -60 0M1069 1134a28 37 0 1 0 56 0a28 37 0 1 0 -56 0M1101 1030a18 15 0 1 0 36 0a18 15 0 1 0 -36 0M1314 1204a30 20 0 1 0 60 0a30 20 0 1 0 -60 0M1254 1211a26 18 0 1 0 52 0a26 18 0 1 0 -52 0M1099 1206a26 20 0 1 0 52 0a26 20 0 1 0 -52 0M1062 1021a20 18 0 1 0 40 0a20 18 0 1 0 -40 0M1186 1013a14 10 0 1 0 28 0a14 10 0 1 0 -28 0M1252 1065a10 9 0 1 0 20 0a10 9 0 1 0 -20 0M1297 1120a8 8 0 1 0 16 0a8 8 0 1 0 -16 0M1356 1142a9 10 0 1 0 18 0a9 10 0 1 0 -18 0" fill="#f5f4f7" stroke="#c99c68" stroke-width="1.8"/>
<path d="M1094 1059a6 7 0 1 0 12 0a6 7 0 1 0 -12 0M1194 1142a6 10 0 1 0 12 0a6 10 0 1 0 -12 0M1247 1039a7 9 0 1 0 14 0a7 9 0 1 0 -14 0M1287 1115a5 10 0 1 0 10 0a5 10 0 1 0 -10 0M1316 1136a7 8 0 1 0 14 0a7 8 0 1 0 -14 0M1341 1142a5 9 0 1 0 10 0a5 9 0 1 0 -10 0M1276 1190a8 5 0 1 0 16 0a8 5 0 1 0 -16 0M1098 1220a8 7 0 1 0 16 0a8 7 0 1 0 -16 0M1068 1188a7 8 0 1 0 14 0a7 8 0 1 0 -14 0M1089 1189a6 7 0 1 0 12 0a6 7 0 1 0 -12 0M1363 1121a5 5 0 1 0 10 0a5 5 0 1 0 -10 0M1364 1165a4 6 0 1 0 8 0a4 6 0 1 0 -8 0M1208 1228a8 4 0 1 0 16 0a8 4 0 1 0 -16 0" fill="#a4a6d2" stroke="none" stroke-width="0"/>
</g>
<g clip-path="url(#ih6)"><rect x="1402.5" y="1003" width="355.5" height="223" fill="#f3f3f6"/>
<g clip-path="url(#tisB1)"><rect x="1480" y="1003" width="280" height="225" fill="#efe4d6"/>
<rect x="1480" y="1003" width="280" height="225" fill="url(#spT)" opacity="0.55"/>
<rect x="1480" y="1003" width="278" height="223" fill="url(#pt5)"/>
<rect x="1650" y="1003" width="110" height="225" fill="url(#spD)" opacity="0.4"/>
<path d="M1480 1096h0M1517 1183h0M1584 1226h0M1747 1176h0M1677 1138h0M1601 1120h0M1637 1023h0M1586 1162h0M1652 1007h0M1486 1198h0M1660 1176h0M1596 1107h0M1501 1065h0M1678 1103h0M1492 1145h0M1673 1125h0M1608 1017h0M1753 1088h0M1642 1112h0M1573 1225h0M1513 1053h0M1527 1199h0M1573 1210h0" stroke="#a0a2cc" stroke-width="3" stroke-linecap="round"/>
<path d="M1677 1212h0M1745 1098h0M1563 1120h0M1488 1028h0M1593 1024h0M1530 1020h0M1630 1083h0M1754 1092h0M1689 1184h0M1529 1082h0M1744 1215h0M1714 1213h0M1718 1011h0M1503 1120h0M1671 1043h0M1749 1059h0M1747 1153h0M1730 1084h0M1637 1203h0M1637 1073h0M1597 1124h0M1756 1083h0M1746 1120h0M1535 1179h0M1692 1209h0M1601 1016h0M1543 1051h0M1737 1006h0M1483 1081h0M1715 1184h0M1617 1114h0M1617 1104h0M1739 1094h0M1509 1171h0M1534 1109h0M1519 1062h0M1546 1072h0" stroke="#a0a2cc" stroke-width="4" stroke-linecap="round"/>
<path d="M1480 1096h0M1596 1107h0M1573 1210h0" stroke="#b8badc" stroke-width="1" stroke-linecap="round" opacity="0.6"/>
<path d="M1677 1212h0M1563 1120h0M1593 1024h0M1530 1020h0M1630 1083h0M1601 1120h0M1754 1092h0M1586 1162h0M1529 1082h0M1744 1215h0M1718 1011h0M1503 1120h0M1749 1059h0M1730 1084h0M1678 1103h0M1492 1145h0M1756 1083h0M1535 1179h0M1673 1125h0M1753 1088h0M1543 1051h0M1642 1112h0M1573 1225h0M1617 1114h0M1617 1104h0M1509 1171h0M1534 1109h0" stroke="#b8badc" stroke-width="2" stroke-linecap="round" opacity="0.6"/>
</g>
<rect x="1406" y="1216.2" width="56" height="3.6" fill="#111"/>
<text x="1406" y="1225" font-size="4" fill="#333">0  20  40  60  80  100 µm</text>
</g>
<g clip-path="url(#ih7)"><rect x="1786" y="1003" width="305.5" height="223" fill="#eadbc6"/>
<rect x="1786" y="1003" width="305.5" height="223" fill="url(#spD)" opacity="0.4"/>
<path d="M1802 1020a28 18 0 1 0 56 0a28 18 0 1 0 -56 0M1873 1045a32 30 0 1 0 64 0a32 30 0 1 0 -64 0M1947 1030a28 25 0 1 0 56 0a28 25 0 1 0 -56 0M2020 1030a30 24 0 1 0 60 0a30 24 0 1 0 -60 0M1850 1180a30 30 0 1 0 60 0a30 30 0 1 0 -60 0M1820 1212a30 20 0 1 0 60 0a30 20 0 1 0 -60 0M1985 1135a35 33 0 1 0 70 0a35 33 0 1 0 -70 0M1920 1210a35 25 0 1 0 70 0a35 25 0 1 0 -70 0M2042 1180a28 30 0 1 0 56 0a28 30 0 1 0 -56 0M1900 1115a25 22 0 1 0 50 0a25 22 0 1 0 -50 0" fill="none" stroke="#b98a55" stroke-width="3"/>
<path d="M1788 1040a12 30 0 1 0 24 0a12 30 0 1 0 -24 0M1789 1080a16 12 0 1 0 32 0a16 12 0 1 0 -32 0M1845 1085a20 13 0 1 0 40 0a20 13 0 1 0 -40 0M1885 1110a20 15 0 1 0 40 0a20 15 0 1 0 -40 0M1940 1150a20 18 0 1 0 40 0a20 18 0 1 0 -40 0M1940 1215a20 15 0 1 0 40 0a20 15 0 1 0 -40 0M1942 1055a10 14 0 1 0 20 0a10 14 0 1 0 -20 0M1979 1085a12 12 0 1 0 24 0a12 12 0 1 0 -24 0M2030 1072a13 11 0 1 0 26 0a13 11 0 1 0 -26 0M2057 1092a15 10 0 1 0 30 0a15 10 0 1 0 -30 0M1888 1155a12 14 0 1 0 24 0a12 14 0 1 0 -24 0M2055 1175a10 10 0 1 0 20 0a10 10 0 1 0 -20 0M1990 1198a18 12 0 1 0 36 0a18 12 0 1 0 -36 0M1827 1160a10 13 0 1 0 20 0a10 13 0 1 0 -20 0M1816 1215a12 10 0 1 0 24 0a12 10 0 1 0 -24 0M2007 1022a8 12 0 1 0 16 0a8 12 0 1 0 -16 0" fill="#f1f1f5" stroke="#cfae86" stroke-width="1.2"/>
<path d="M1793 1023a5 8 0 1 0 10 0a5 8 0 1 0 -10 0M1829 1016a6 5 0 1 0 12 0a6 5 0 1 0 -12 0M1852 1036a6 7 0 1 0 12 0a6 7 0 1 0 -12 0M1836 1047a6 6 0 1 0 12 0a6 6 0 1 0 -12 0M1929 1062a6 7 0 1 0 12 0a6 7 0 1 0 -12 0M1951 1083a6 6 0 1 0 12 0a6 6 0 1 0 -12 0M1788 1110a7 8 0 1 0 14 0a7 8 0 1 0 -14 0M1793 1140a7 8 0 1 0 14 0a7 8 0 1 0 -14 0M1865 1162a5 6 0 1 0 10 0a5 6 0 1 0 -10 0M1815 1168a5 5 0 1 0 10 0a5 5 0 1 0 -10 0M2034 1098a6 7 0 1 0 12 0a6 7 0 1 0 -12 0M2066 1080a6 8 0 1 0 12 0a6 8 0 1 0 -12 0M1988 1125a6 6 0 1 0 12 0a6 6 0 1 0 -12 0M2019 1135a6 5 0 1 0 12 0a6 5 0 1 0 -12 0M2028 1148a5 5 0 1 0 10 0a5 5 0 1 0 -10 0M1993 1171a5 5 0 1 0 10 0a5 5 0 1 0 -10 0M2026 1200a6 5 0 1 0 12 0a6 5 0 1 0 -12 0M1943 1182a5 5 0 1 0 10 0a5 5 0 1 0 -10 0M2079 1103a3 10 0 1 0 6 0a3 10 0 1 0 -6 0" fill="#9aa2d0" stroke="none" stroke-width="0"/>
</g>
<g clip-path="url(#ih8)"><rect x="1069.6" y="1278" width="303.4" height="223" fill="#f2ede6"/>
<rect x="1069.6" y="1278" width="303.4" height="223" fill="url(#spT2)" opacity="0.8"/>
<rect x="1069.6" y="1278" width="303.4" height="223" fill="url(#pt6)"/>
<path d="M1083 1373a27 21 0 1 0 54 0a27 21 0 1 0 -54 0M1116 1340a23 18 0 1 0 46 0a23 18 0 1 0 -46 0M1180 1396a20 22 0 1 0 40 0a20 22 0 1 0 -40 0M1242 1346a21 21 0 1 0 42 0a21 21 0 1 0 -42 0M1276 1384a18 18 0 1 0 36 0a18 18 0 1 0 -36 0M1328 1321a22 22 0 1 0 44 0a22 22 0 1 0 -44 0M1218 1427a25 22 0 1 0 50 0a25 22 0 1 0 -50 0M1067 1421a24 28 0 1 0 48 0a24 28 0 1 0 -48 0M1287 1301a15 15 0 1 0 30 0a15 15 0 1 0 -30 0M1198 1355a15 13 0 1 0 30 0a15 13 0 1 0 -30 0M1060 1488a22 13 0 1 0 44 0a22 13 0 1 0 -44 0M1230 1488a22 13 0 1 0 44 0a22 13 0 1 0 -44 0M1178 1315a12 10 0 1 0 24 0a12 10 0 1 0 -24 0M1136 1420a14 12 0 1 0 28 0a14 12 0 1 0 -28 0M1315 1420a10 12 0 1 0 20 0a10 12 0 1 0 -20 0" fill="#f8f8fa" stroke="#cdb690" stroke-width="1.6"/>
<path d="M1157 1294h0M1189 1301h0M1165 1327h0M1310 1341h0M1075 1367h0M1241 1369h0M1316 1384h0M1357 1416h0M1100 1454h0M1178 1457h0M1277 1469h0M1310 1498h0" stroke="#e0c8a0" stroke-width="17" stroke-linecap="round" opacity="0.7"/>
<path d="M1157 1294h0M1109 1303h0M1248 1301h0M1189 1301h0M1091 1344h0M1167 1336h0M1165 1327h0M1220 1330h0M1231 1321h0M1310 1341h0M1336 1343h0M1313 1352h0M1075 1367h0M1153 1369h0M1192 1362h0M1241 1369h0M1178 1381h0M1259 1388h0M1316 1384h0M1347 1384h0M1344 1396h0M1357 1416h0M1119 1448h0M1167 1445h0M1100 1454h0M1146 1464h0M1156 1469h0M1178 1457h0M1192 1458h0M1308 1450h0M1277 1469h0M1338 1461h0M1361 1486h0M1310 1498h0M1187 1495h0M1370 1440h0" stroke="#6e3c2e" stroke-width="12" stroke-linecap="round"/>
</g>
<g clip-path="url(#ih9)"><rect x="1402.5" y="1278" width="355.5" height="223" fill="#f3f4f8"/>
<g clip-path="url(#tisB2)"><rect x="1460" y="1278" width="300" height="225" fill="#f0e6d8"/>
<rect x="1460" y="1278" width="300" height="225" fill="url(#spT2)" opacity="0.6"/>
<rect x="1460" y="1278" width="298" height="223" fill="url(#pt7)"/>
<path d="M1536 1423h0M1669 1418h0M1743 1497h0M1491 1284h0M1725 1309h0M1489 1416h0M1623 1364h0M1622 1357h0M1595 1413h0M1627 1485h0M1757 1340h0M1599 1421h0M1728 1411h0M1559 1334h0M1663 1312h0M1637 1439h0M1484 1427h0M1737 1432h0M1588 1290h0M1637 1450h0M1649 1482h0M1533 1284h0M1543 1298h0M1513 1367h0M1722 1350h0M1750 1338h0M1526 1299h0M1686 1400h0M1534 1423h0M1737 1414h0M1730 1288h0M1740 1433h0M1518 1380h0M1531 1487h0M1618 1374h0M1554 1379h0M1527 1349h0M1633 1288h0M1620 1310h0M1627 1430h0M1565 1283h0M1643 1290h0M1685 1391h0M1523 1473h0M1724 1349h0M1670 1344h0M1733 1370h0M1611 1377h0M1493 1495h0M1611 1479h0M1694 1385h0M1583 1420h0M1657 1431h0M1576 1430h0M1595 1390h0M1604 1457h0M1588 1304h0M1479 1301h0M1497 1344h0M1553 1326h0M1704 1456h0M1710 1424h0M1587 1449h0M1685 1473h0M1726 1310h0M1668 1308h0M1736 1313h0M1545 1368h0M1671 1365h0M1575 1351h0" stroke="#7a4634" stroke-width="3" stroke-linecap="round"/>
<path d="M1659 1386h0M1708 1377h0M1613 1361h0M1548 1486h0M1555 1407h0M1535 1316h0M1559 1308h0M1752 1372h0M1730 1434h0M1682 1455h0M1649 1360h0M1704 1494h0M1534 1500h0M1597 1347h0M1585 1372h0M1750 1446h0M1475 1358h0M1664 1428h0M1496 1463h0M1608 1403h0M1612 1384h0M1682 1442h0M1694 1362h0M1694 1363h0M1678 1438h0M1723 1439h0M1614 1393h0M1521 1450h0M1642 1404h0M1557 1429h0M1695 1388h0M1728 1395h0M1709 1477h0M1754 1365h0M1710 1359h0M1576 1354h0M1698 1403h0M1580 1389h0M1542 1468h0M1471 1358h0M1523 1399h0M1546 1443h0M1684 1445h0M1479 1466h0M1637 1431h0M1650 1370h0M1501 1338h0M1741 1316h0M1577 1421h0M1687 1420h0M1617 1424h0M1585 1465h0M1569 1375h0M1530 1357h0M1524 1384h0M1610 1320h0M1665 1327h0M1722 1454h0M1602 1323h0M1744 1298h0M1526 1466h0M1610 1290h0M1618 1457h0M1684 1337h0M1678 1388h0M1492 1402h0M1504 1300h0M1605 1455h0M1753 1473h0M1625 1409h0M1543 1391h0M1638 1282h0M1630 1443h0M1566 1315h0M1520 1398h0M1604 1281h0M1603 1314h0M1748 1297h0M1728 1467h0M1617 1467h0M1544 1285h0M1510 1485h0M1571 1495h0M1595 1302h0M1554 1490h0M1729 1295h0M1594 1497h0M1742 1486h0M1669 1440h0M1477 1431h0M1590 1500h0M1593 1319h0M1563 1283h0M1668 1422h0M1506 1489h0M1497 1316h0M1558 1487h0M1558 1477h0M1655 1355h0M1707 1465h0M1660 1322h0M1577 1435h0M1607 1300h0M1652 1421h0M1651 1400h0M1648 1332h0M1723 1290h0M1501 1466h0M1493 1463h0M1562 1394h0M1587 1402h0M1504 1353h0M1682 1452h0M1520 1356h0M1757 1284h0M1498 1411h0M1688 1437h0M1514 1449h0M1540 1432h0M1547 1479h0M1725 1452h0M1602 1409h0M1590 1478h0M1554 1289h0M1649 1366h0M1715 1308h0M1585 1498h0M1550 1351h0M1663 1410h0M1580 1369h0M1526 1460h0M1535 1281h0M1553 1474h0M1544 1368h0M1674 1342h0M1615 1331h0M1571 1405h0M1582 1403h0M1731 1299h0M1627 1369h0M1528 1474h0M1687 1365h0M1516 1355h0M1731 1382h0M1502 1421h0M1548 1439h0M1703 1335h0M1535 1445h0M1724 1458h0M1753 1279h0M1513 1407h0M1580 1382h0M1519 1427h0M1534 1341h0M1635 1417h0M1573 1460h0M1590 1469h0M1623 1355h0M1669 1501h0M1576 1490h0M1670 1462h0M1654 1423h0M1690 1396h0M1756 1450h0M1712 1433h0M1745 1480h0M1726 1463h0M1585 1334h0M1711 1382h0M1728 1289h0M1606 1406h0M1702 1339h0M1639 1468h0M1624 1356h0M1606 1320h0M1616 1430h0M1565 1282h0M1518 1412h0M1677 1362h0M1596 1382h0M1514 1478h0M1640 1332h0M1528 1440h0M1638 1296h0M1659 1463h0M1554 1292h0M1662 1419h0M1601 1483h0M1510 1490h0M1728 1498h0M1515 1388h0M1582 1453h0M1749 1325h0M1709 1330h0M1549 1369h0M1597 1443h0M1747 1498h0M1583 1446h0M1656 1303h0M1536 1459h0M1598 1474h0M1599 1497h0M1625 1423h0M1630 1440h0" stroke="#7a4634" stroke-width="4" stroke-linecap="round"/>
<path d="M1740 1356h0M1552 1428h0M1575 1440h0M1508 1414h0M1471 1441h0M1753 1383h0M1708 1483h0M1756 1347h0M1579 1479h0M1727 1406h0M1591 1304h0M1611 1380h0M1651 1496h0M1714 1292h0M1556 1449h0M1731 1280h0M1647 1369h0M1709 1307h0M1571 1474h0M1587 1429h0M1557 1351h0M1642 1289h0M1706 1435h0M1599 1313h0M1688 1386h0M1512 1439h0M1641 1341h0M1627 1302h0M1645 1470h0M1704 1417h0M1610 1390h0M1634 1489h0M1599 1398h0M1668 1315h0M1757 1424h0M1701 1384h0M1523 1384h0M1616 1467h0M1664 1307h0M1486 1290h0M1522 1381h0M1603 1396h0M1632 1444h0M1745 1408h0M1579 1428h0M1709 1493h0M1713 1300h0M1598 1437h0M1495 1282h0M1669 1405h0M1624 1290h0M1572 1377h0M1583 1355h0M1604 1360h0M1626 1338h0M1568 1401h0M1648 1309h0M1572 1413h0M1656 1421h0M1644 1373h0M1678 1303h0M1671 1369h0M1628 1486h0M1541 1462h0M1523 1398h0M1651 1372h0" stroke="#7a4634" stroke-width="5" stroke-linecap="round"/>
<path d="M1659 1386h0M1536 1423h0M1613 1361h0M1548 1486h0M1743 1497h0M1552 1428h0M1559 1308h0M1752 1372h0M1725 1309h0M1489 1416h0M1471 1441h0M1704 1494h0M1597 1347h0M1585 1372h0M1708 1483h0M1622 1357h0M1475 1358h0M1496 1463h0M1612 1384h0M1694 1362h0M1694 1363h0M1627 1485h0M1678 1438h0M1723 1439h0M1611 1380h0M1521 1450h0M1557 1429h0M1757 1340h0M1709 1477h0M1710 1359h0M1714 1292h0M1556 1449h0M1542 1468h0M1471 1358h0M1546 1443h0M1479 1466h0M1731 1280h0M1728 1411h0M1709 1307h0M1501 1338h0M1577 1421h0M1637 1439h0M1737 1432h0M1571 1474h0M1617 1424h0M1587 1429h0M1530 1357h0M1637 1450h0M1665 1327h0M1722 1454h0M1744 1298h0M1610 1290h0M1684 1337h0M1678 1388h0M1504 1300h0M1753 1473h0M1706 1435h0M1638 1282h0M1630 1443h0M1566 1315h0M1520 1398h0M1543 1298h0M1603 1314h0M1748 1297h0M1512 1439h0M1617 1467h0M1510 1485h0M1595 1302h0M1750 1338h0M1641 1341h0M1742 1486h0M1477 1431h0M1627 1302h0M1593 1319h0M1563 1283h0M1704 1417h0M1497 1316h0M1610 1390h0M1634 1489h0M1534 1423h0M1707 1465h0M1737 1414h0M1660 1322h0M1757 1424h0M1740 1433h0M1518 1380h0M1531 1487h0M1651 1400h0M1648 1332h0M1618 1374h0M1554 1379h0M1527 1349h0M1616 1467h0M1664 1307h0M1587 1402h0M1682 1452h0M1520 1356h0M1603 1396h0M1688 1437h0M1632 1444h0M1547 1479h0M1725 1452h0M1590 1478h0M1554 1289h0M1627 1430h0M1715 1308h0M1709 1493h0M1550 1351h0M1663 1410h0M1598 1437h0M1526 1460h0M1643 1290h0M1544 1368h0M1615 1331h0M1571 1405h0M1523 1473h0M1627 1369h0M1528 1474h0M1669 1405h0M1731 1382h0M1670 1344h0M1733 1370h0M1611 1377h0M1724 1458h0M1624 1290h0M1580 1382h0M1493 1495h0M1611 1479h0M1572 1377h0M1573 1460h0M1657 1431h0M1623 1355h0M1669 1501h0M1576 1430h0M1576 1490h0M1670 1462h0M1654 1423h0M1756 1450h0M1745 1480h0M1726 1463h0M1585 1334h0M1588 1304h0M1479 1301h0M1606 1406h0M1497 1344h0M1702 1339h0M1639 1468h0M1624 1356h0M1710 1424h0M1616 1430h0M1518 1412h0M1685 1473h0M1671 1369h0M1514 1478h0M1640 1332h0M1668 1308h0M1628 1486h0M1554 1292h0M1601 1483h0M1728 1498h0M1582 1453h0M1709 1330h0M1541 1462h0M1597 1443h0M1545 1368h0M1523 1398h0M1536 1459h0M1599 1497h0M1651 1372h0M1671 1365h0" stroke="#9a6a54" stroke-width="2" stroke-linecap="round" opacity="0.6"/>
</g>
<rect x="1406" y="1491.2" width="56" height="3.6" fill="#111"/>
<text x="1406" y="1500" font-size="4" fill="#333">0  20  40  60  80  100 µm</text>
</g>
<g clip-path="url(#ih10)"><rect x="1786" y="1278" width="305.5" height="223" fill="#f1e9dc"/>
<rect x="1786" y="1278" width="305.5" height="223" fill="url(#spT2)" opacity="0.9"/>
<rect x="1786" y="1278" width="305.5" height="223" fill="url(#pt8)"/>
<path d="M1850 1377a20 19 0 1 0 40 0a20 19 0 1 0 -40 0M2028 1446a24 23 0 1 0 48 0a24 23 0 1 0 -48 0M1996 1392a12 15 0 1 0 24 0a12 15 0 1 0 -24 0M1963 1362a12 10 0 1 0 24 0a12 10 0 1 0 -24 0M2030 1319a14 10 0 1 0 28 0a14 10 0 1 0 -28 0M1888 1416a10 10 0 1 0 20 0a10 10 0 1 0 -20 0M1950 1310a10 14 0 1 0 20 0a10 14 0 1 0 -20 0" fill="#f3f4f7" stroke="#cdb088" stroke-width="1.6"/>
<path d="M1816 1302h0M1837 1302h0M1870 1350h0M1979 1308h0M2044 1340h0M1951 1383h0M1862 1415h0M1812 1431h0M1947 1444h0M1934 1462h0M2072 1456h0" stroke="#dcc49a" stroke-width="18" stroke-linecap="round" opacity="0.7"/>
<path d="M1791 1287h0M1816 1302h0M1804 1308h0M1900 1296h0M1837 1302h0M1898 1327h0M1812 1342h0M1870 1350h0M1837 1358h0M1795 1374h0M1979 1308h0M2032 1291h0M2006 1342h0M2044 1340h0M2078 1349h0M1915 1388h0M1951 1383h0M1990 1394h0M1804 1405h0M1862 1415h0M1873 1412h0M1961 1420h0M1812 1431h0M1844 1442h0M1890 1438h0M1947 1444h0M2080 1406h0M2076 1421h0M1934 1462h0M1901 1469h0M2003 1462h0M2072 1456h0M2026 1498h0M1936 1490h0" stroke="#5e2e26" stroke-width="13" stroke-linecap="round"/>
<path d="M2070 1420Q2078 1450 2058 1470" stroke="#5e2e26" stroke-width="5" fill="none"/>
</g>
<path d="M1561.5 1158H1543.5V1176M1615 1158H1633V1176M1561.5 1225H1543.5V1207M1615 1225H1633V1207" fill="none" stroke="#4f8ba3" stroke-width="4"/>
<path d="M1683 1005H1665V1023M1733 1005H1751V1023M1683 1070H1665V1052M1733 1070H1751V1052" fill="none" stroke="#b0282c" stroke-width="4"/>
<path d="M1373 1003L1543.5 1158" stroke="#4f8ba3" stroke-width="4.2" stroke-dasharray="37.5 38" stroke-dashoffset="16.5"/>
<path d="M1373 1225H1543.5" stroke="#4f8ba3" stroke-width="4.2" stroke-dasharray="44.7 38.5" stroke-dashoffset="39.7"/>
<path d="M1751 1005L1786 1003" stroke="#b0282c" stroke-width="4.2"/>
<path d="M1751 1070L1786 1226" stroke="#b0282c" stroke-width="4.2" stroke-dasharray="39 32"/>
<path d="M1561.5 1433H1543.5V1451M1615 1433H1633V1451M1561.5 1500H1543.5V1482M1615 1500H1633V1482" fill="none" stroke="#4f8ba3" stroke-width="4"/>
<path d="M1683 1280H1665V1298M1733 1280H1751V1298M1683 1345H1665V1327M1733 1345H1751V1327" fill="none" stroke="#b0282c" stroke-width="4"/>
<path d="M1373 1278L1543.5 1433" stroke="#4f8ba3" stroke-width="4.2" stroke-dasharray="37.5 38" stroke-dashoffset="16.5"/>
<path d="M1373 1500H1543.5" stroke="#4f8ba3" stroke-width="4.2" stroke-dasharray="44.7 38.5" stroke-dashoffset="39.7"/>
<path d="M1751 1280L1786 1278" stroke="#b0282c" stroke-width="4.2"/>
<path d="M1751 1345L1786 1501" stroke="#b0282c" stroke-width="4.2" stroke-dasharray="39 32"/>
<path d="M230.7 1574V2096.5M207 2096.5H580" stroke="#000" stroke-width="4.2" fill="none"/>
<line x1="207" y1="1574" x2="230.7" y2="1574" stroke="#000" stroke-width="4.2"/>
<text transform="translate(185 1589) scale(1 1.07)" text-anchor="end" fill="#000" stroke="#000" stroke-width="0.7">150</text>
<line x1="207" y1="1748.6" x2="230.7" y2="1748.6" stroke="#000" stroke-width="4.2"/>
<text transform="translate(185 1763.6) scale(1 1.07)" text-anchor="end" fill="#000" stroke="#000" stroke-width="0.7">100</text>
<line x1="207" y1="1922" x2="230.7" y2="1922" stroke="#000" stroke-width="4.2"/>
<text transform="translate(185 1937) scale(1 1.07)" text-anchor="end" fill="#000" stroke="#000" stroke-width="0.7">50</text>
<line x1="207" y1="2096.5" x2="230.7" y2="2096.5" stroke="#000" stroke-width="4.2"/>
<text transform="translate(185 2111.5) scale(1 1.07)" text-anchor="end" fill="#000" stroke="#000" stroke-width="0.7">0</text>
<line x1="329" y1="2096.5" x2="329" y2="2119" stroke="#000" stroke-width="4.2"/>
<line x1="499.5" y1="2096.5" x2="499.5" y2="2119" stroke="#000" stroke-width="4.2"/>
<text transform="translate(330 2169) scale(1 1.07)" text-anchor="middle" fill="#000" stroke="#000" stroke-width="0.7">Low</text>
<text transform="translate(500.5 2169) scale(1 1.07)" text-anchor="middle" fill="#000" stroke="#000" stroke-width="0.7">High</text>
<text transform="translate(413 2236) scale(1 1.07)" text-anchor="middle" fill="#000" stroke="#000" stroke-width="0.7">Cp expression</text>
<line x1="329" y1="1645" x2="478" y2="1645" stroke="#000" stroke-width="4.2"/>
<text transform="translate(404 1643) scale(1 1.07)" text-anchor="middle" fill="#000" stroke="#000" stroke-width="0.7">***</text>
<g fill="#5a8ea6"><circle cx="328.9" cy="1706.3" r="7.8"/><circle cx="303.9" cy="1918.7" r="7.8"/><circle cx="338.6" cy="1917.1" r="7.8"/><circle cx="320.4" cy="1928.5" r="7.8"/><circle cx="287.8" cy="1962.3" r="7.8"/><circle cx="320.4" cy="1958.1" r="7.8"/><circle cx="303.9" cy="1970.8" r="7.8"/><circle cx="320.4" cy="1975" r="7.8"/><circle cx="338.6" cy="1973.8" r="7.8"/><circle cx="354.7" cy="1977.2" r="7.8"/><circle cx="371.7" cy="1970.8" r="7.8"/><circle cx="287.8" cy="1983.5" r="7.8"/><circle cx="303.9" cy="1986.5" r="7.8"/><circle cx="320.4" cy="1996.2" r="7.8"/><circle cx="338.6" cy="1992" r="7.8"/><circle cx="354.7" cy="1996.2" r="7.8"/><circle cx="371.7" cy="1985.6" r="7.8"/><circle cx="312.4" cy="2017.4" r="7.8"/><circle cx="328.9" cy="2013.1" r="7.8"/><circle cx="345.8" cy="2014.4" r="7.8"/></g>
<g fill="#b0282e"><circle cx="485.9" cy="1840.9" r="7.8"/><circle cx="513" cy="1842.6" r="7.8"/><circle cx="499.5" cy="1855.7" r="7.8"/><circle cx="513" cy="1874.7" r="7.8"/><circle cx="541" cy="1876.4" r="7.8"/><circle cx="472" cy="1884.9" r="7.8"/><circle cx="485.9" cy="1886.2" r="7.8"/><circle cx="499.5" cy="1883.2" r="7.8"/><circle cx="527" cy="1890.4" r="7.8"/><circle cx="457.2" cy="1910.3" r="7.8"/><circle cx="472" cy="1906" r="7.8"/><circle cx="485.9" cy="1903.1" r="7.8"/><circle cx="499.5" cy="1913.7" r="7.8"/><circle cx="513" cy="1917.9" r="7.8"/><circle cx="527" cy="1917.1" r="7.8"/><circle cx="541" cy="1904.4" r="7.8"/><circle cx="485.9" cy="1924.3" r="7.8"/><circle cx="499.5" cy="1942.5" r="7.8"/><circle cx="493.1" cy="1975" r="7.8"/><circle cx="506.3" cy="1967.9" r="7.8"/></g>
<path d="M279 1962H380M329 1896V2028M315 1896H356M315 2028H356" stroke="#000" stroke-width="4.2" fill="none"/>
<path d="M449 1901H550M499.5 1865V1937M486 1865H525M486 1937H525" stroke="#000" stroke-width="4.2" fill="none"/>
<text transform="translate(89 1832) rotate(-90) scale(1 1.07)" text-anchor="middle" fill="#000" stroke="#000" stroke-width="0.7">TIAR AOD of IHC</text>
<path d="M228.6 2353.4V2859M207 2859H590.5" stroke="#000" stroke-width="4.2" fill="none"/>
<line x1="207" y1="2353.4" x2="228.6" y2="2353.4" stroke="#000" stroke-width="4.2"/>
<text transform="translate(189.5 2368.4) scale(1 1.07)" text-anchor="end" fill="#000" stroke="#000" stroke-width="0.7">80</text>
<line x1="207" y1="2480" x2="228.6" y2="2480" stroke="#000" stroke-width="4.2"/>
<text transform="translate(189.5 2495) scale(1 1.07)" text-anchor="end" fill="#000" stroke="#000" stroke-width="0.7">60</text>
<line x1="207" y1="2606.6" x2="228.6" y2="2606.6" stroke="#000" stroke-width="4.2"/>
<text transform="translate(189.5 2621.6) scale(1 1.07)" text-anchor="end" fill="#000" stroke="#000" stroke-width="0.7">40</text>
<line x1="207" y1="2733" x2="228.6" y2="2733" stroke="#000" stroke-width="4.2"/>
<text transform="translate(189.5 2748) scale(1 1.07)" text-anchor="end" fill="#000" stroke="#000" stroke-width="0.7">20</text>
<line x1="207" y1="2859" x2="228.6" y2="2859" stroke="#000" stroke-width="4.2"/>
<text transform="translate(189.5 2874) scale(1 1.07)" text-anchor="end" fill="#000" stroke="#000" stroke-width="0.7">0</text>
<line x1="325" y1="2859" x2="325" y2="2879" stroke="#000" stroke-width="4.2"/>
<line x1="500" y1="2859" x2="500" y2="2879" stroke="#000" stroke-width="4.2"/>
<text transform="translate(331 2931.5) scale(1 1.07)" text-anchor="middle" fill="#000" stroke="#000" stroke-width="0.7">Low</text>
<text transform="translate(501 2931.5) scale(1 1.07)" text-anchor="middle" fill="#000" stroke="#000" stroke-width="0.7">High</text>
<text transform="translate(413 2998.5) scale(1 1.07)" text-anchor="middle" fill="#000" stroke="#000" stroke-width="0.7">Cp expression</text>
<line x1="330" y1="2369" x2="508" y2="2369" stroke="#000" stroke-width="4.2"/>
<text transform="translate(424 2367) scale(1 1.07)" text-anchor="middle" fill="#000" stroke="#000" stroke-width="0.7">***</text>
<g fill="#5a8ea6"><circle cx="325.1" cy="2429.2" r="7.8"/><circle cx="315.4" cy="2676" r="7.8"/><circle cx="335.7" cy="2680.2" r="7.8"/><circle cx="315.4" cy="2719.6" r="7.8"/><circle cx="335.7" cy="2714.5" r="7.8"/><circle cx="325.1" cy="2734.4" r="7.8"/><circle cx="295" cy="2753.5" r="7.8"/><circle cx="295" cy="2757.3" r="7.8"/><circle cx="315.4" cy="2759.8" r="7.8"/><circle cx="335.7" cy="2762.8" r="7.8"/><circle cx="356.8" cy="2752.2" r="7.8"/><circle cx="376.7" cy="2759" r="7.8"/><circle cx="356.8" cy="2768.3" r="7.8"/><circle cx="295" cy="2779.7" r="7.8"/><circle cx="335.7" cy="2778.4" r="7.8"/><circle cx="315.4" cy="2790.3" r="7.8"/><circle cx="356.8" cy="2789.4" r="7.8"/><circle cx="376.7" cy="2784.4" r="7.8"/><circle cx="315.4" cy="2807.2" r="7.8"/><circle cx="335.7" cy="2803" r="7.8"/></g>
<g fill="#b0282e"><circle cx="500.3" cy="2581.6" r="7.8"/><circle cx="474.1" cy="2591.3" r="7.8"/><circle cx="524.9" cy="2604.9" r="7.8"/><circle cx="448.7" cy="2626.5" r="7.8"/><circle cx="474.1" cy="2618" r="7.8"/><circle cx="474.1" cy="2637.9" r="7.8"/><circle cx="500.3" cy="2634.9" r="7.8"/><circle cx="524.9" cy="2638.7" r="7.8"/><circle cx="551.6" cy="2633.2" r="7.8"/><circle cx="448.7" cy="2650.6" r="7.8"/><circle cx="474.1" cy="2652.7" r="7.8"/><circle cx="500.3" cy="2659.1" r="7.8"/><circle cx="524.9" cy="2657" r="7.8"/><circle cx="551.6" cy="2662" r="7.8"/><circle cx="474.1" cy="2670.5" r="7.8"/><circle cx="500.3" cy="2673.9" r="7.8"/><circle cx="524.9" cy="2668.4" r="7.8"/><circle cx="500.3" cy="2696.3" r="7.8"/><circle cx="500.3" cy="2728.1" r="7.8"/><circle cx="524.9" cy="2737.8" r="7.8"/><circle cx="474.1" cy="2745.8" r="7.8"/></g>
<path d="M265 2741H386.5M325 2658V2822M295 2658H357M295 2822H357" stroke="#000" stroke-width="4.2" fill="none"/>
<path d="M439 2655.7H561M500 2611V2700.6M470 2611H531M470 2700.6H531" stroke="#000" stroke-width="4.2" fill="none"/>
<text transform="translate(88 2603) rotate(-90) scale(1 1.07)" text-anchor="middle" fill="#000" stroke="#000" stroke-width="0.7">Cytoplasmic TIAR</text>
<text transform="translate(140 2603) rotate(-90) scale(1 1.07)" text-anchor="middle" fill="#000" stroke="#000" stroke-width="0.7">AOD of IHC</text>
<rect x="713" y="1781" width="1404.5" height="942.8" rx="120" fill="#bcc5da" stroke="#2b5285" stroke-width="3.6"/>
<rect x="732.7" y="1799.6" width="1365.9" height="904.8" rx="102" fill="#f5f6fa" stroke="#2b5285" stroke-width="3.6"/>
<g clip-path="url(#cellin)"><circle cx="728" cy="1888" r="384" fill="url(#nucG)"/></g>
<path d="M713 1780H834" stroke="none"/>
<path d="M1110.8 1857.2A384 384 0 0 1 1105.2 1960" stroke="#4f6c9e" stroke-width="21.5" stroke-linecap="round" fill="none"/>
<path d="M1111.4 1867.2A384 384 0 0 1 1107 1950.1" stroke="#8ea3c8" stroke-width="9" stroke-linecap="round" fill="none" opacity="0.55" filter="url(#b3)"/>
<path d="M1084.5 2030.6A384 384 0 0 1 1034.7 2119.1" stroke="#4f6c9e" stroke-width="21.5" stroke-linecap="round" fill="none"/>
<path d="M1080.7 2039.9A384 384 0 0 1 1040.6 2111" stroke="#8ea3c8" stroke-width="9" stroke-linecap="round" fill="none" opacity="0.55" filter="url(#b3)"/>
<path d="M985.9 2172.5A384 384 0 0 1 900.5 2231.1" stroke="#4f6c9e" stroke-width="21.5" stroke-linecap="round" fill="none"/>
<path d="M978.4 2179.1A384 384 0 0 1 909.5 2226.4" stroke="#8ea3c8" stroke-width="9" stroke-linecap="round" fill="none" opacity="0.55" filter="url(#b3)"/>
<path d="M833.8 2257.1A384 384 0 0 1 734.7 2271.9" stroke="#4f6c9e" stroke-width="21.5" stroke-linecap="round" fill="none"/>
<path d="M824.1 2259.8A384 384 0 0 1 744.7 2271.6" stroke="#8ea3c8" stroke-width="9" stroke-linecap="round" fill="none" opacity="0.55" filter="url(#b3)"/>
<ellipse cx="1002.7" cy="1977.6" rx="26" ry="17" fill="url(#grn)"/>
<ellipse cx="819" cy="2032" rx="26" ry="17" fill="url(#grn)"/>
<ellipse cx="899" cy="2022.7" rx="26" ry="17" fill="url(#grn)"/>
<ellipse cx="960.5" cy="2034.7" rx="26" ry="17" fill="url(#grn)"/>
<ellipse cx="866" cy="2083" rx="26" ry="17" fill="url(#grn)"/>
<ellipse cx="934" cy="2093" rx="26" ry="17" fill="url(#grn)"/>
<text transform="translate(835 1934.6) scale(1 1.07)" fill="#111" stroke="#111" stroke-width="0.7">TIAR</text>
<rect x="1162" y="1876" width="656.5" height="348.7" rx="28" fill="#dfe7f2" stroke="#a3bcd9" stroke-width="3.8" stroke-dasharray="48.5 49.7"/>
<rect x="1150.6" y="2293.4" width="668" height="350.6" rx="28" fill="#dfe7f2" stroke="#a3bcd9" stroke-width="3.8" stroke-dasharray="48.5 49.7"/>
<text transform="translate(1237.5 1859.6) scale(1 1.09)" font-weight="700" fill="#000">pgRNA without TIAR binding</text>
<text transform="translate(1237 2686.3) scale(1 1.09)" font-weight="700" fill="#000">pgRNA with TIAR binding</text>
<text transform="translate(934 2452.7) scale(1 1.09)" text-anchor="middle" font-weight="700" fill="#000">TIAR translocation</text>
<text transform="translate(934 2502) scale(1 1.09)" text-anchor="middle" font-weight="700" fill="#000">from nucleus</text>
<text transform="translate(934 2550.7) scale(1 1.09)" text-anchor="middle" font-weight="700" fill="#000">to cytoplasm</text>
<path d="M1299 1971C1310.3 1971 1316 1987.3 1327.2 1987.3C1338.5 1987.3 1344.2 1971.7 1355.5 1971.7C1366.8 1971.7 1372.5 1988 1383.8 1988C1395 1988 1400.7 1972.4 1412 1972.4C1423.3 1972.4 1429 1988.7 1440.2 1988.7C1451.5 1988.7 1457.2 1973 1468.5 1973C1479.8 1973 1485.5 1989.4 1496.8 1989.4C1508 1989.4 1513.7 1973.7 1525 1973.7C1536.3 1973.7 1542 1990.1 1553.2 1990.1C1564.5 1990.1 1570.2 1974.4 1581.5 1974.4C1592.8 1974.4 1598.5 1990.7 1609.8 1990.7C1621 1990.7 1626.7 1975.1 1638 1975.1C1649.3 1975.1 1655 1991.4 1666.2 1991.4" stroke="#111" stroke-width="3.6" fill="none"/>
<path d="M1353.5 1974V1952M1363.5 1974V1950M1353.5 1952c-4 -1 -14 -1 -14 -8 0 -6 9 -9 16 -5 4 2 6 4 7 6M1363.5 1950l18 -21M1360.5 1945l16 -19M1376.5 1926c-2 -5 4 -11 11 -10 8 2 10 8 4 12 -3 2 -6 2 -9 1" stroke="#231815" stroke-width="3.2" fill="none"/>
<path d="M1636.5 1977V1955M1646.5 1977V1953M1636.5 1955c-4 -1 -14 -1 -14 -8 0 -6 9 -9 16 -5 4 2 6 4 7 6M1646.5 1953l18 -21M1643.5 1948l16 -19M1659.5 1929c-2 -5 4 -11 11 -10 8 2 10 8 4 12 -3 2 -6 2 -9 1" stroke="#231815" stroke-width="3.2" fill="none"/>
<rect x="1354.5" y="1996.4" width="83" height="9.6" fill="#2e2a7e"/>
<rect x="1411.7" y="2002.3" width="231.1" height="10.1" fill="#a9282d"/>
<path d="M1299 2569.5C1310.3 2569.5 1316 2585.8 1327.2 2585.8C1338.5 2585.8 1344.2 2570.2 1355.5 2570.2C1366.8 2570.2 1372.5 2586.5 1383.8 2586.5C1395 2586.5 1400.7 2570.9 1412 2570.9C1423.3 2570.9 1429 2587.2 1440.2 2587.2C1451.5 2587.2 1457.2 2571.5 1468.5 2571.5C1479.8 2571.5 1485.5 2587.9 1496.8 2587.9C1508 2587.9 1513.7 2572.2 1525 2572.2C1536.3 2572.2 1542 2588.6 1553.2 2588.6C1564.5 2588.6 1570.2 2572.9 1581.5 2572.9C1592.8 2572.9 1598.5 2589.2 1609.8 2589.2C1621 2589.2 1626.7 2573.6 1638 2573.6C1649.3 2573.6 1655 2589.9 1666.2 2589.9" stroke="#111" stroke-width="3.6" fill="none"/>
<path d="M1352 2571V2546M1363.5 2571V2546" stroke="#231815" stroke-width="3.2" fill="none"/>
<path d="M1636.5 2575.5V2553.5M1646.5 2575.5V2551.5M1636.5 2553.5c-4 -1 -14 -1 -14 -8 0 -6 9 -9 16 -5 4 2 6 4 7 6M1646.5 2551.5l18 -21M1643.5 2546.5l16 -19M1659.5 2527.5c-2 -5 4 -11 11 -10 8 2 10 8 4 12 -3 2 -6 2 -9 1" stroke="#231815" stroke-width="3.2" fill="none"/>
<rect x="1354.5" y="2594.9" width="83" height="9.6" fill="#2e2a7e"/>
<rect x="1411.7" y="2600.8" width="231.1" height="10.1" fill="#a9282d"/>
<ellipse cx="1363.5" cy="2527.5" rx="25" ry="18.5" transform="rotate(-22 1363.5 2527.5)" fill="url(#grn2)" stroke="#3d7a3d" stroke-width="0.8"/>
<ellipse cx="1208.5" cy="2137" rx="18" ry="10" transform="rotate(0 1208.5 2137)" fill="url(#pur)"/>
<ellipse cx="1270.5" cy="2123.5" rx="18" ry="10" transform="rotate(-5 1270.5 2123.5)" fill="url(#pur)"/>
<ellipse cx="1311" cy="2132.5" rx="18" ry="10" transform="rotate(35 1311 2132.5)" fill="url(#pur)"/>
<ellipse cx="1359" cy="2148" rx="18" ry="10" transform="rotate(50 1359 2148)" fill="url(#pur)"/>
<ellipse cx="1241" cy="2158" rx="18" ry="10" transform="rotate(0 1241 2158)" fill="url(#pur)"/>
<ellipse cx="1315.5" cy="2168.5" rx="18" ry="10" transform="rotate(5 1315.5 2168.5)" fill="url(#pur)"/>
<ellipse cx="1223" cy="2190" rx="18" ry="10" transform="rotate(25 1223 2190)" fill="url(#pur)"/>
<ellipse cx="1270.5" cy="2193" rx="18" ry="10" transform="rotate(35 1270.5 2193)" fill="url(#pur)"/>
<ellipse cx="1329" cy="2194.6" rx="18" ry="10" transform="rotate(5 1329 2194.6)" fill="url(#pur)"/>
<ellipse cx="1362.7" cy="2357.7" rx="18.5" ry="10" transform="rotate(90 1362.7 2357.7)" fill="url(#pur)"/>
<ellipse cx="1407" cy="2324.4" rx="18.5" ry="10" transform="rotate(35 1407 2324.4)" fill="url(#pur)"/>
<ellipse cx="1454.8" cy="2340.4" rx="18.5" ry="10" transform="rotate(-40 1454.8 2340.4)" fill="url(#pur)"/>
<ellipse cx="1410.6" cy="2361" rx="18.5" ry="10" transform="rotate(0 1410.6 2361)" fill="url(#pur)"/>
<ellipse cx="1425.2" cy="2387" rx="18.5" ry="10" transform="rotate(0 1425.2 2387)" fill="url(#pur)"/>
<circle cx="1721" cy="2137" r="16.8" fill="url(#redb)"/>
<circle cx="1629" cy="2385" r="16.8" fill="url(#redb)"/>
<circle cx="1679.4" cy="2405.8" r="16.8" fill="url(#redb)"/>
<circle cx="1625.3" cy="2435.4" r="16.8" fill="url(#redb)"/>
<text transform="translate(1342 2103) scale(1 1.07)" font-size="37" stroke="#141414" stroke-width="0.7">Cp</text>
<text transform="translate(1745 2110) scale(1 1.07)" font-size="39" stroke="#141414" stroke-width="0.7">Pol</text>
<text transform="translate(1474 2338) scale(1 1.07)" font-size="37" stroke="#141414" stroke-width="0.7">Cp</text>
<text transform="translate(1645 2370) scale(1 1.07)" font-size="39" stroke="#141414" stroke-width="0.7">Pol</text>
<path d="M1552 2311V2339M1542 2328L1552 2340L1562 2328" stroke="#b8282e" stroke-width="3.4" fill="none"/>
<path d="M1733 2373V2345M1723 2356L1733 2344L1743 2356" stroke="#b8282e" stroke-width="3.4" fill="none"/>
<path d="M1361 2017Q1318 2030 1302 2072" stroke="url(#ga1)" stroke-width="5" fill="none" stroke-linecap="butt"/>
<path d="M1294 2087L1289 2063L1300 2070L1314 2066Z" fill="#5a5a5a"/>
<path d="M1651 2031Q1690 2050 1706 2080" stroke="url(#ga2)" stroke-width="5" fill="none" stroke-linecap="butt"/>
<path d="M1713 2093L1695 2079L1707 2077L1712 2065Z" fill="#5a5a5a"/>
<path d="M1307 2535Q1303 2450 1340 2407" stroke="url(#ga3)" stroke-width="5" fill="none" stroke-linecap="butt"/>
<path d="M1347 2395L1345.4 2415L1338 2405L1327.4 2398Z" fill="#5a5a5a"/>
<path d="M1577 2549Q1605 2520 1620 2477" stroke="url(#ga4)" stroke-width="5" fill="none" stroke-linecap="butt"/>
<path d="M1624 2463L1633 2481L1622 2476L1607.2 2475.4Z" fill="#5a5a5a"/>
<path d="M1368.7 2496Q1365 2470 1350.6 2455" stroke="url(#ga5)" stroke-width="4" fill="none" stroke-linecap="butt"/>
<path d="M1340.3 2458.7L1355.8 2448.3" stroke="#b8282e" stroke-width="5" fill="none"/>
<path d="M1403.5 2529.6Q1480 2530 1552 2508" stroke="url(#ga6)" stroke-width="6" fill="none" stroke-linecap="butt"/>
<path d="M1569.8 2500L1560.8 2523L1553 2510L1546.6 2492.2Z" fill="#b8282e"/>
<path d="M876.7 2158Q1000 2380 1258 2520" stroke="url(#ga7)" stroke-width="6" fill="none" stroke-linecap="butt"/>
<path d="M1279.5 2532.8L1251 2531L1259 2519L1266 2506Z" fill="#b8282e"/>
<path d="M1202 2229Q1140 2280 1097 2340" stroke="url(#ga8)" stroke-width="6" fill="none" stroke-linecap="butt"/>
<path d="M1085.8 2357.4L1093 2330.5L1099 2341L1112.8 2346.3Z" fill="#b8282e"/>
<path d="M1755 2383Q1840 2360 1888 2392" stroke="url(#ga9)" stroke-width="7" fill="none" stroke-linecap="butt"/>
<path d="M1897 2400L1875 2401L1886 2391L1891 2380Z" fill="#5a5a5a"/>
<path d="M2035 2482Q2044 2505 2044 2530" stroke="url(#ga10)" stroke-width="6" fill="none" stroke-linecap="butt"/>
<path d="M2044.5 2537L2026 2514L2044 2522L2062 2513Z" fill="#5a5a5a"/>
<path d="M1988 2679Q1975 2720 1925 2762" stroke="url(#ga11)" stroke-width="6" fill="none" stroke-linecap="butt"/>
<path d="M1912.7 2774.4L1919.3 2746.6L1926 2763L1941.8 2776.5Z" fill="#5a5a5a"/>
<polygon points="1969.6,2380.3 2009,2398.6 2012.8,2442 1977.2,2466.9 1937.8,2448.6 1934,2405.2" fill="#d9d6e4" stroke="#3a2e8e" stroke-width="6.5" stroke-linejoin="miter"/>
<path d="M1938 2422q3.5 9 7 0t7 0t7 0t7 0t7 0t7 0t7 0t7 0t7 0t7 0" stroke="#111" stroke-width="2.2" fill="none"/>
<ellipse cx="1951.5" cy="2413" rx="5" ry="4.5" fill="#c8402c"/><ellipse cx="1958.5" cy="2410" rx="6" ry="3.5" fill="#8ac870"/>
<path d="M1999.5 2421v-10m3.5 10v-10m-3.5 0c-3 0 -5 -2 -3.5 -4c1.5 -1.5 4 -0.5 4.5 1.5m2.5 2.5l5 -6m-7.5 4l5 -6m0 0c1 -2 4 -2 4 0c0 2 -2 3 -4 2" stroke="#111" stroke-width="1.5" fill="none"/>
<polygon points="2014.9,2568.4 2052.5,2585.9 2056.1,2627.2 2022.1,2651 1984.5,2633.5 1980.9,2592.2" fill="#d9d6e4" stroke="#3a2e8e" stroke-width="6.5" stroke-linejoin="miter"/>
<path d="M2045.5 2606A27 27 0 1 1 2030.5 2588" stroke="#111" stroke-width="3" fill="none"/>
<path d="M2035.5 2614A17 17 0 1 1 2020.5 2595" stroke="#111" stroke-width="3" fill="none"/>
<path d="M2001.5 2621L2026.5 2602" stroke="#c8282e" stroke-width="3.5" fill="none"/>
<ellipse cx="2031.5" cy="2597" rx="7" ry="5" fill="#c8282e" transform="rotate(-30 2031.5 2597)"/>
<circle cx="2001.5" cy="2621" r="3.2" fill="#c8282e"/>
<ellipse cx="2015" cy="2579" rx="6" ry="3.5" fill="#8ac870"/>
<circle cx="1837.3" cy="2840.5" r="56" fill="#6a7cc2"/>
<circle cx="1892.4" cy="2850.2" r="11.5" fill="url(#vball)"/>
<circle cx="1873.3" cy="2883.4" r="11.5" fill="url(#vball)"/>
<circle cx="1856.5" cy="2893.1" r="11.5" fill="url(#vball)"/>
<circle cx="1837.3" cy="2896.5" r="11.5" fill="url(#vball)"/>
<circle cx="1818.1" cy="2893.1" r="11.5" fill="url(#vball)"/>
<circle cx="1801.3" cy="2883.4" r="11.5" fill="url(#vball)"/>
<circle cx="1782.2" cy="2850.2" r="11.5" fill="url(#vball)"/>
<circle cx="1782.2" cy="2830.8" r="11.5" fill="url(#vball)"/>
<circle cx="1788.8" cy="2812.5" r="11.5" fill="url(#vball)"/>
<circle cx="1801.3" cy="2797.6" r="11.5" fill="url(#vball)"/>
<circle cx="1818.1" cy="2787.9" r="11.5" fill="url(#vball)"/>
<circle cx="1856.5" cy="2787.9" r="11.5" fill="url(#vball)"/>
<circle cx="1873.3" cy="2797.6" r="11.5" fill="url(#vball)"/>
<circle cx="1885.8" cy="2812.5" r="11.5" fill="url(#vball)"/>
<circle cx="1892.4" cy="2830.8" r="11.5" fill="url(#vball)"/>
<circle cx="1837.3" cy="2787.5" r="12.5" fill="url(#tball)"/>
<circle cx="1837.3" cy="2776.5" r="9" fill="url(#tball)"/>
<circle cx="1791.4" cy="2867" r="12.5" fill="url(#tball)"/>
<circle cx="1781.9" cy="2872.5" r="9" fill="url(#tball)"/>
<circle cx="1883.2" cy="2867" r="12.5" fill="url(#tball)"/>
<circle cx="1892.7" cy="2872.5" r="9" fill="url(#tball)"/>
<polygon points="1822.4,2801.8 1863.4,2808.2 1878.3,2847 1852.2,2879.2 1811.2,2872.8 1796.3,2834" fill="#d9d6e4" stroke="#3a2e8e" stroke-width="7" stroke-linejoin="miter"/>
<path d="M1864.3 2836.5A27 27 0 1 1 1849.3 2818.5" stroke="#111" stroke-width="3" fill="none"/>
<path d="M1854.3 2844.5A17 17 0 1 1 1839.3 2825.5" stroke="#111" stroke-width="3" fill="none"/>
<path d="M1820.3 2851.5L1845.3 2832.5" stroke="#c8282e" stroke-width="3.5" fill="none"/>
<ellipse cx="1850.3" cy="2827.5" rx="7" ry="5" fill="#c8282e" transform="rotate(-30 1850.3 2827.5)"/>
<circle cx="1820.3" cy="2851.5" r="3.2" fill="#c8282e"/>
<path d="M730 2810L812 2807V2815Z" fill="url(#lg1)"/>
<path d="M811 2798L836 2811L811 2826Z" fill="#b8282e"/>
<path d="M733 2901L830 2897V2905Z" fill="url(#lg1)"/>
<rect x="829" y="2887" width="4.5" height="27" fill="#b8282e"/>
<text transform="translate(865 2827.6) scale(1 1.04)" font-size="58.5" fill="#000" stroke="#000" stroke-width="0.7">Promote</text>
<text transform="translate(865 2910) scale(1 1.04)" font-size="58.5" fill="#000" stroke="#000" stroke-width="0.7">Inhibit</text></svg></body></html>
